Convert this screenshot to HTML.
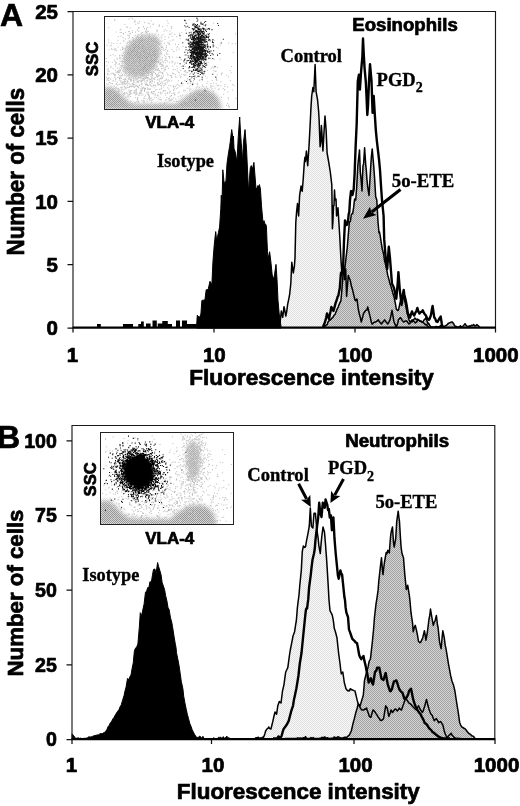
<!DOCTYPE html>
<html lang="en"><head><meta charset="utf-8"><title>Figure</title>
<style>html,body{margin:0;padding:0;background:#fff}body{width:520px;height:806px;overflow:hidden}svg{display:block}text{fill:#000}</style></head>
<body>
<svg width="520" height="806" viewBox="0 0 520 806">
<rect width="520" height="806" fill="#fff"/>
<defs><pattern id="hl" width="2" height="2" patternUnits="userSpaceOnUse"><rect width="2" height="2" fill="#f8f8f8"/><rect width="1" height="1" fill="#e0e0e0"/><rect x="1" y="1" width="1" height="1" fill="#e0e0e0"/></pattern><pattern id="hd" width="2" height="2" patternUnits="userSpaceOnUse"><rect width="2" height="2" fill="#d4d4d4"/><rect width="1" height="1" fill="#a2a2a2"/><rect x="1" y="1" width="1" height="1" fill="#a2a2a2"/></pattern></defs>
<path d="M279.0 328.0 L279.0 327.0 L280.2 321.5 L281.3 311.0 L282.7 317.3 L283.4 311.8 L284.0 306.7 L284.5 308.9 L285.8 316.0 L286.7 311.6 L287.6 304.6 L288.9 298.3 L289.7 294.0 L290.8 283.5 L291.8 262.3 L293.3 273.0 L294.4 266.2 L295.0 258.0 L295.8 222.5 L296.6 211.6 L297.5 203.5 L298.6 216.0 L299.6 195.4 L301.1 185.9 L302.2 191.2 L303.2 179.3 L304.3 162.9 L304.9 157.3 L305.4 161.6 L306.4 151.0 L307.7 165.8 L309.1 144.6 L310.2 123.5 L310.9 108.8 L311.7 96.0 L312.9 87.5 L313.8 91.7 L315.1 64.5 L316.1 91.7 L317.6 100.2 L318.6 111.0 L319.1 119.2 L320.1 146.7 L320.8 142.2 L321.4 125.6 L321.9 132.9 L322.9 151.0 L323.9 134.0 L325.0 116.0 L326.1 129.8 L327.1 153.0 L328.6 161.5 L329.6 167.7 L330.3 172.0 L331.8 184.8 L332.4 228.8 L332.9 222.1 L333.5 205.6 L334.0 205.6 L334.5 190.0 L335.1 200.1 L336.0 199.0 L336.6 216.0 L337.3 214.3 L338.0 207.7 L339.8 237.3 L340.9 258.5 L342.0 275.4 L342.8 269.7 L343.6 264.8 L344.5 279.6 L345.0 276.0 L345.7 269.0 L346.6 296.5 L347.2 289.3 L348.3 275.4 L349.4 278.5 L350.0 279.6 L350.5 281.7 L351.4 286.0 L352.7 290.3 L353.6 294.4 L354.9 299.8 L355.7 300.8 L357.0 299.0 L358.2 308.5 L359.2 313.5 L360.4 317.9 L361.3 322.0 L362.6 317.3 L363.5 313.5 L364.8 311.8 L365.6 310.3 L367.0 310.0 L367.7 307.0 L369.2 313.0 L369.8 315.6 L370.3 317.3 L371.4 322.5 L372.0 324.0 L372.5 324.0 L373.6 322.7 L375.0 322.0 L375.8 321.9 L376.9 321.1 L378.3 319.8 L379.1 321.3 L380.2 322.6 L381.4 324.0 L382.4 322.5 L383.5 321.4 L384.6 319.8 L385.7 321.5 L386.8 322.8 L387.8 324.0 L389.0 321.8 L390.0 319.8 L391.2 314.4 L392.0 310.3 L393.4 318.6 L394.0 322.0 L394.5 322.9 L395.6 325.8 L396.3 327.0 L397.8 323.0 L398.4 319.8 L398.9 319.3 L400.0 318.0 L400.5 317.7 L401.1 318.5 L402.2 320.4 L403.7 322.0 L404.4 321.7 L405.5 321.0 L406.8 321.0 L407.7 322.4 L409.0 324.0 L409.9 323.3 L411.0 321.9 L412.0 319.8 L413.2 320.8 L414.3 321.8 L415.3 323.0 L416.5 322.1 L417.6 320.8 L418.5 319.8 L419.8 321.2 L420.9 321.3 L421.6 322.0 L423.1 322.6 L424.2 323.5 L424.8 324.0 L425.3 324.7 L426.4 324.4 L427.5 326.2 L429.0 327.0 L429.0 328.0 Z" fill="url(#hl)" stroke="none"/>
<path d="M324.0 328.0 L324.0 327.0 L325.1 325.9 L326.2 325.1 L327.3 324.4 L328.0 322.0 L329.5 320.2 L330.6 319.8 L332.0 318.0 L332.8 317.6 L333.9 315.3 L335.0 314.5 L336.0 312.0 L337.2 309.0 L338.3 306.8 L339.4 303.8 L340.9 300.8 L341.6 293.3 L343.0 275.4 L343.8 272.8 L345.0 267.0 L346.0 258.0 L347.2 248.0 L348.2 236.1 L349.3 222.5 L350.4 221.0 L351.4 214.0 L352.6 213.8 L353.6 207.7 L354.6 199.0 L355.7 200.0 L356.7 187.0 L357.8 165.8 L359.5 149.9 L360.3 172.2 L361.0 178.5 L362.0 191.0 L362.5 176.0 L363.0 165.8 L363.6 164.0 L364.6 147.8 L365.8 165.7 L366.3 170.0 L366.9 178.9 L367.7 187.0 L369.0 195.4 L370.5 170.0 L371.3 157.7 L372.2 148.9 L373.7 165.8 L374.6 178.3 L375.1 187.0 L375.7 196.7 L376.8 200.0 L378.0 222.0 L379.0 233.0 L379.5 232.0 L380.1 235.2 L381.4 243.7 L382.3 249.0 L383.6 254.0 L384.5 260.5 L385.7 264.8 L386.7 269.6 L387.8 275.4 L388.9 279.2 L390.0 283.8 L391.1 286.7 L392.0 290.0 L393.3 294.9 L394.0 296.5 L395.5 304.2 L396.3 309.0 L397.7 310.5 L398.4 310.3 L399.9 303.5 L400.5 300.8 L401.0 298.9 L402.1 296.2 L402.6 294.4 L403.2 296.4 L404.7 300.8 L405.4 303.7 L406.8 311.4 L407.6 314.8 L409.0 319.8 L409.8 321.6 L410.9 321.1 L412.0 322.0 L413.1 320.2 L414.2 319.0 L415.0 318.0 L416.4 319.8 L417.5 319.0 L418.5 319.8 L419.7 320.7 L420.8 320.9 L422.0 322.0 L423.0 321.7 L424.1 319.9 L425.2 318.9 L425.9 317.7 L427.4 322.0 L428.0 324.0 L428.5 323.1 L429.6 325.2 L431.0 327.0 L431.8 327.0 L432.9 327.0 L434.0 327.0 L435.1 326.9 L436.0 326.5 L437.3 326.7 L438.4 326.7 L439.5 326.6 L440.6 325.6 L441.7 326.5 L442.8 326.4 L443.9 326.4 L445.0 326.0 L446.1 325.5 L447.2 324.7 L448.3 323.2 L449.0 323.0 L450.5 322.5 L451.6 321.9 L452.3 322.0 L453.8 324.0 L455.0 326.5 L456.0 326.3 L457.1 327.0 L458.2 327.0 L459.3 327.0 L460.4 325.8 L461.5 327.0 L462.0 327.0 L462.6 326.6 L463.7 325.4 L465.0 323.7 L465.9 325.0 L467.0 326.2 L468.0 327.0 L469.2 325.8 L470.3 326.5 L471.4 325.3 L472.5 325.5 L473.6 324.5 L474.7 325.8 L475.8 325.8 L476.9 324.6 L478.0 325.5 L479.1 326.6 L480.0 327.0 L480.0 328.0 Z" fill="url(#hd)" stroke="none"/>
<path d="M196.6 328.0 L196.6 326.0 L197.3 315.2 L198.8 316.8 L199.9 317.1 L200.9 314.0 L201.9 300.4 L203.2 300.2 L204.3 300.1 L205.0 299.3 L206.2 289.8 L207.6 289.5 L208.3 288.8 L210.0 281.3 L210.9 283.8 L211.4 285.6 L212.0 281.7 L212.9 262.3 L214.2 245.4 L215.7 231.6 L216.7 241.0 L217.5 236.7 L218.4 232.7 L219.6 227.0 L220.8 208.4 L221.3 195.2 L221.9 208.3 L222.8 169.8 L224.3 184.6 L225.2 181.8 L226.0 180.4 L227.0 163.5 L228.5 152.9 L229.6 146.5 L230.2 142.3 L230.7 137.9 L231.7 129.6 L232.9 137.9 L233.4 136.0 L234.0 148.3 L235.5 152.9 L236.2 157.6 L237.0 161.3 L238.2 138.0 L239.7 117.0 L240.6 134.1 L241.2 142.3 L241.7 149.0 L242.5 161.3 L243.5 142.3 L245.0 129.6 L246.5 148.7 L247.5 169.8 L248.3 186.7 L248.8 188.8 L249.4 179.6 L250.3 167.7 L251.3 165.6 L252.5 169.0 L253.9 162.4 L255.0 176.0 L256.0 188.8 L257.1 188.1 L257.7 185.7 L258.2 187.3 L259.4 184.6 L260.4 188.8 L261.5 205.8 L263.0 222.7 L264.0 220.6 L264.8 223.7 L265.9 224.4 L266.4 226.3 L267.0 241.3 L267.5 251.7 L268.1 258.8 L269.6 251.7 L270.7 260.2 L271.4 267.0 L272.2 275.0 L273.9 279.2 L274.7 273.4 L276.0 264.4 L277.0 279.2 L278.0 300.4 L279.1 313.0 L280.2 321.5 L281.0 326.0 L281.0 328.0 Z" fill="#000" stroke="#000" stroke-width="1"/>
<path d="M279.0 327.0 L280.2 321.5 L281.3 311.0 L282.7 317.3 L283.4 311.8 L284.0 306.7 L284.5 308.9 L285.8 316.0 L286.7 311.6 L287.6 304.6 L288.9 298.3 L289.7 294.0 L290.8 283.5 L291.8 262.3 L293.3 273.0 L294.4 266.2 L295.0 258.0 L295.8 222.5 L296.6 211.6 L297.5 203.5 L298.6 216.0 L299.6 195.4 L301.1 185.9 L302.2 191.2 L303.2 179.3 L304.3 162.9 L304.9 157.3 L305.4 161.6 L306.4 151.0 L307.7 165.8 L309.1 144.6 L310.2 123.5 L310.9 108.8 L311.7 96.0 L312.9 87.5 L313.8 91.7 L315.1 64.5 L316.1 91.7 L317.6 100.2 L318.6 111.0 L319.1 119.2 L320.1 146.7 L320.8 142.2 L321.4 125.6 L321.9 132.9 L322.9 151.0 L323.9 134.0 L325.0 116.0 L326.1 129.8 L327.1 153.0 L328.6 161.5 L329.6 167.7 L330.3 172.0 L331.8 184.8 L332.4 228.8 L332.9 222.1 L333.5 205.6 L334.0 205.6 L334.5 190.0 L335.1 200.1 L336.0 199.0 L336.6 216.0 L337.3 214.3 L338.0 207.7 L339.8 237.3 L340.9 258.5 L342.0 275.4 L342.8 269.7 L343.6 264.8 L344.5 279.6 L345.0 276.0 L345.7 269.0 L346.6 296.5 L347.2 289.3 L348.3 275.4 L349.4 278.5 L350.0 279.6 L350.5 281.7 L351.4 286.0 L352.7 290.3 L353.6 294.4 L354.9 299.8 L355.7 300.8 L357.0 299.0 L358.2 308.5 L359.2 313.5 L360.4 317.9 L361.3 322.0 L362.6 317.3 L363.5 313.5 L364.8 311.8 L365.6 310.3 L367.0 310.0 L367.7 307.0 L369.2 313.0 L369.8 315.6 L370.3 317.3 L371.4 322.5 L372.0 324.0 L372.5 324.0 L373.6 322.7 L375.0 322.0 L375.8 321.9 L376.9 321.1 L378.3 319.8 L379.1 321.3 L380.2 322.6 L381.4 324.0 L382.4 322.5 L383.5 321.4 L384.6 319.8 L385.7 321.5 L386.8 322.8 L387.8 324.0 L389.0 321.8 L390.0 319.8 L391.2 314.4 L392.0 310.3 L393.4 318.6 L394.0 322.0 L394.5 322.9 L395.6 325.8 L396.3 327.0 L397.8 323.0 L398.4 319.8 L398.9 319.3 L400.0 318.0 L400.5 317.7 L401.1 318.5 L402.2 320.4 L403.7 322.0 L404.4 321.7 L405.5 321.0 L406.8 321.0 L407.7 322.4 L409.0 324.0 L409.9 323.3 L411.0 321.9 L412.0 319.8 L413.2 320.8 L414.3 321.8 L415.3 323.0 L416.5 322.1 L417.6 320.8 L418.5 319.8 L419.8 321.2 L420.9 321.3 L421.6 322.0 L423.1 322.6 L424.2 323.5 L424.8 324.0 L425.3 324.7 L426.4 324.4 L427.5 326.2 L429.0 327.0" fill="none" stroke="#000" stroke-width="1.5" stroke-linejoin="round"/>
<path d="M324.0 327.0 L325.1 325.9 L326.2 325.1 L327.3 324.4 L328.0 322.0 L329.5 320.2 L330.6 319.8 L332.0 318.0 L332.8 317.6 L333.9 315.3 L335.0 314.5 L336.0 312.0 L337.2 309.0 L338.3 306.8 L339.4 303.8 L340.9 300.8 L341.6 293.3 L343.0 275.4 L343.8 272.8 L345.0 267.0 L346.0 258.0 L347.2 248.0 L348.2 236.1 L349.3 222.5 L350.4 221.0 L351.4 214.0 L352.6 213.8 L353.6 207.7 L354.6 199.0 L355.7 200.0 L356.7 187.0 L357.8 165.8 L359.5 149.9 L360.3 172.2 L361.0 178.5 L362.0 191.0 L362.5 176.0 L363.0 165.8 L363.6 164.0 L364.6 147.8 L365.8 165.7 L366.3 170.0 L366.9 178.9 L367.7 187.0 L369.0 195.4 L370.5 170.0 L371.3 157.7 L372.2 148.9 L373.7 165.8 L374.6 178.3 L375.1 187.0 L375.7 196.7 L376.8 200.0 L378.0 222.0 L379.0 233.0 L379.5 232.0 L380.1 235.2 L381.4 243.7 L382.3 249.0 L383.6 254.0 L384.5 260.5 L385.7 264.8 L386.7 269.6 L387.8 275.4 L388.9 279.2 L390.0 283.8 L391.1 286.7 L392.0 290.0 L393.3 294.9 L394.0 296.5 L395.5 304.2 L396.3 309.0 L397.7 310.5 L398.4 310.3 L399.9 303.5 L400.5 300.8 L401.0 298.9 L402.1 296.2 L402.6 294.4 L403.2 296.4 L404.7 300.8 L405.4 303.7 L406.8 311.4 L407.6 314.8 L409.0 319.8 L409.8 321.6 L410.9 321.1 L412.0 322.0 L413.1 320.2 L414.2 319.0 L415.0 318.0 L416.4 319.8 L417.5 319.0 L418.5 319.8 L419.7 320.7 L420.8 320.9 L422.0 322.0 L423.0 321.7 L424.1 319.9 L425.2 318.9 L425.9 317.7 L427.4 322.0 L428.0 324.0 L428.5 323.1 L429.6 325.2 L431.0 327.0 L431.8 327.0 L432.9 327.0 L434.0 327.0 L435.1 326.9 L436.0 326.5 L437.3 326.7 L438.4 326.7 L439.5 326.6 L440.6 325.6 L441.7 326.5 L442.8 326.4 L443.9 326.4 L445.0 326.0 L446.1 325.5 L447.2 324.7 L448.3 323.2 L449.0 323.0 L450.5 322.5 L451.6 321.9 L452.3 322.0 L453.8 324.0 L455.0 326.5 L456.0 326.3 L457.1 327.0 L458.2 327.0 L459.3 327.0 L460.4 325.8 L461.5 327.0 L462.0 327.0 L462.6 326.6 L463.7 325.4 L465.0 323.7 L465.9 325.0 L467.0 326.2 L468.0 327.0 L469.2 325.8 L470.3 326.5 L471.4 325.3 L472.5 325.5 L473.6 324.5 L474.7 325.8 L475.8 325.8 L476.9 324.6 L478.0 325.5 L479.1 326.6 L480.0 327.0" fill="none" stroke="#000" stroke-width="1.5" stroke-linejoin="round"/>
<path d="M322.9 327.0 L324.0 324.6 L325.0 322.0 L326.2 317.6 L327.0 313.5 L328.4 317.1 L329.0 319.0 L329.5 316.3 L330.6 311.3 L331.3 307.0 L332.8 309.3 L333.5 311.0 L335.0 305.4 L335.6 303.0 L336.1 301.8 L337.2 298.4 L337.7 296.5 L338.3 295.9 L339.8 288.0 L340.9 273.3 L341.6 272.0 L343.0 271.0 L344.0 241.5 L345.0 220.4 L346.0 225.1 L347.2 224.6 L348.2 219.3 L348.7 214.0 L349.3 212.1 L350.0 200.0 L351.0 191.2 L351.5 191.1 L352.5 195.0 L353.7 189.2 L354.6 174.2 L355.7 144.6 L356.7 123.5 L357.8 81.2 L358.9 74.8 L359.9 89.6 L361.0 72.7 L362.4 56.0 L363.0 38.5 L363.8 55.0 L364.6 68.5 L365.8 81.6 L366.3 91.7 L367.3 115.0 L368.0 106.0 L369.0 81.2 L370.0 64.2 L371.5 81.2 L372.6 112.9 L373.7 96.0 L374.7 112.9 L375.8 129.8 L376.8 140.5 L377.3 144.6 L377.9 149.8 L379.0 159.4 L380.0 170.0 L381.0 186.0 L382.0 200.0 L383.6 216.0 L384.2 239.4 L385.7 258.5 L386.7 266.0 L387.2 269.0 L387.8 260.8 L388.8 246.8 L390.0 258.4 L390.5 264.8 L391.1 272.6 L392.0 283.8 L393.3 286.4 L394.0 288.0 L395.5 295.5 L396.3 298.7 L397.7 283.3 L398.4 272.2 L399.8 290.0 L401.0 300.2 L401.5 305.0 L402.1 301.6 L403.2 292.9 L403.7 290.0 L404.3 294.4 L405.8 300.8 L406.5 304.4 L407.9 313.5 L408.7 314.7 L410.0 317.7 L410.9 314.7 L412.0 311.4 L413.1 314.1 L414.2 315.6 L415.3 312.9 L416.4 311.0 L417.4 308.0 L418.6 312.1 L419.5 313.5 L420.8 311.9 L421.9 311.8 L422.7 310.3 L424.1 313.3 L425.2 314.7 L425.9 315.6 L427.4 319.0 L428.5 318.9 L429.0 319.8 L429.6 318.9 L431.0 315.0 L431.8 310.0 L432.6 306.0 L434.3 317.7 L435.1 318.4 L436.2 321.4 L437.5 322.0 L438.4 320.3 L439.5 318.4 L440.7 316.6 L441.7 323.2 L442.2 326.0 L442.8 326.7 L443.9 327.0" fill="none" stroke="#000" stroke-width="2.4" stroke-linejoin="round"/>
<path d="M97 328V324H100.8V328ZM123 328V324H133V328ZM138.3 328V324H141V328ZM141 328V321.5H143.8V328ZM146 328V323.5H150.6V328ZM152.5 328V320.5H156.8V328ZM157.7 328V323.5H162.3V328ZM162.3 328V321H167.8V328ZM167.8 328V324H172V328ZM176 328V320.5H180V328ZM182 328V320.5H187V328ZM187 328V324H196.5V328Z" fill="#000"/>
<path d="M73.0 328 V11.5 H495.5 V328" fill="none" stroke="#1a1a1a" stroke-width="1.15"/>
<path d="M72.5 327.7 H496.0" fill="none" stroke="#000" stroke-width="2.2"/>
<path d="M67.5 328.0 H73.0 M67.5 264.7 H73.0 M67.5 201.4 H73.0 M67.5 138.1 H73.0 M67.5 74.8 H73.0 M67.5 11.5 H73.0 M73.0 328 V332.5 M214.0 328 V332.5 M355.0 328 V332.5 M495.5 328 V332.5 " fill="none" stroke="#111" stroke-width="1.25"/>
<path d="M255.0 739.5 L255.0 738.5 L256.1 737.7 L257.2 737.8 L258.3 737.2 L259.4 738.4 L260.5 737.9 L261.6 738.1 L262.7 737.2 L263.5 737.5 L264.9 733.8 L265.6 731.0 L267.1 728.9 L268.2 728.0 L268.8 727.0 L269.3 728.2 L270.4 728.7 L270.9 729.0 L271.5 726.8 L273.0 720.6 L273.7 717.3 L275.0 712.0 L275.9 713.3 L276.6 714.2 L277.8 705.8 L279.3 701.5 L280.3 702.5 L281.0 703.0 L282.5 691.0 L284.0 684.6 L284.7 679.2 L285.7 672.0 L286.9 669.5 L287.8 667.7 L289.5 655.0 L290.2 650.5 L291.4 644.4 L292.4 639.3 L293.0 636.0 L293.5 634.8 L294.6 631.7 L295.7 624.4 L296.3 621.0 L296.8 615.2 L297.3 608.5 L297.9 603.4 L299.0 595.0 L299.8 585.2 L301.3 570.4 L302.3 551.3 L303.4 546.0 L304.5 547.4 L305.5 547.0 L306.5 540.8 L308.2 532.3 L309.3 526.0 L310.3 508.0 L311.4 526.0 L312.2 527.4 L312.9 528.0 L314.0 513.3 L315.4 513.3 L316.7 528.0 L317.7 535.3 L318.2 538.7 L318.8 545.3 L320.3 553.5 L321.0 544.6 L321.8 536.5 L323.0 527.0 L324.5 532.3 L325.4 543.0 L326.0 551.3 L326.5 557.9 L327.3 570.4 L328.3 587.3 L329.0 600.0 L330.0 610.6 L330.9 612.4 L332.2 614.8 L333.1 619.2 L333.7 623.3 L334.2 628.1 L335.4 631.7 L336.4 635.5 L337.0 638.0 L337.5 642.8 L338.6 653.0 L340.0 663.5 L340.8 670.5 L341.3 674.0 L341.9 672.8 L342.8 672.0 L344.3 682.5 L345.2 685.9 L346.0 688.8 L347.4 690.5 L348.0 691.0 L348.5 690.4 L349.6 690.8 L350.2 688.8 L350.7 688.9 L351.8 689.8 L352.3 690.0 L352.9 690.1 L354.0 690.6 L355.0 691.0 L356.5 697.3 L357.3 700.7 L358.2 703.7 L359.5 706.4 L360.3 708.0 L361.7 709.9 L362.4 710.0 L363.9 710.1 L364.5 709.0 L365.0 709.2 L366.1 708.7 L366.6 708.0 L367.2 710.2 L368.7 714.2 L369.4 716.4 L370.9 717.4 L371.6 714.7 L373.0 710.0 L373.8 710.4 L375.0 712.0 L376.0 713.6 L377.2 715.3 L378.2 717.1 L379.3 718.5 L380.4 720.3 L381.4 720.6 L382.6 719.7 L383.6 718.5 L384.8 711.2 L385.7 705.8 L387.2 708.0 L388.1 712.7 L388.8 716.4 L390.3 712.8 L391.0 710.0 L392.5 712.5 L393.0 712.0 L393.6 711.0 L394.7 709.4 L395.2 709.0 L395.8 709.2 L397.3 711.0 L398.0 710.1 L399.4 708.0 L400.2 709.3 L401.5 710.0 L402.4 707.2 L403.7 703.7 L404.6 701.1 L405.8 697.3 L406.8 699.8 L407.9 701.5 L409.0 703.2 L410.0 703.7 L411.2 704.7 L412.0 705.8 L413.4 707.3 L414.2 708.0 L415.6 709.5 L416.3 710.0 L417.8 707.2 L418.5 705.8 L420.0 709.0 L420.6 710.0 L421.1 710.7 L422.2 712.4 L422.7 712.0 L423.3 710.4 L424.8 705.8 L425.5 703.1 L426.5 699.4 L428.0 705.8 L428.8 708.4 L430.0 712.0 L431.0 714.2 L432.2 715.3 L433.2 718.3 L434.3 720.6 L435.4 719.5 L436.4 718.5 L437.6 720.6 L438.6 722.7 L439.8 721.9 L440.7 721.6 L442.0 723.7 L442.8 724.8 L444.2 730.7 L445.0 733.3 L446.4 736.5 L447.0 737.5 L447.5 737.3 L449.0 735.4 L449.7 734.9 L450.8 733.7 L451.3 733.3 L451.9 735.0 L453.4 736.5 L454.1 737.3 L455.2 738.0 L456.5 738.5 L457.4 738.3 L458.5 738.5 L459.6 738.5 L460.8 738.5 L460.8 739.5 Z" fill="url(#hl)" stroke="none"/>
<path d="M284.6 739.5 L284.6 738.5 L285.7 738.5 L286.8 738.5 L287.9 738.5 L289.0 738.5 L290.1 738.5 L291.2 738.5 L292.3 738.5 L293.4 738.5 L294.5 738.5 L295.6 738.5 L296.7 738.5 L297.8 737.8 L298.9 738.4 L300.0 738.0 L301.1 738.3 L302.2 738.3 L303.3 737.7 L304.4 738.4 L305.5 736.6 L306.6 738.4 L307.7 738.4 L308.8 738.4 L309.9 738.4 L311.0 737.6 L312.1 738.5 L313.2 737.6 L314.3 738.5 L315.4 738.5 L316.5 738.5 L317.6 738.5 L318.7 738.5 L320.0 738.3 L320.9 738.3 L322.0 737.2 L323.1 738.5 L324.2 737.0 L325.3 737.2 L326.4 738.4 L327.5 737.7 L328.6 738.4 L329.7 738.4 L330.8 738.3 L331.9 738.3 L333.0 738.3 L334.1 737.0 L335.2 737.4 L336.3 738.2 L337.4 736.9 L338.5 736.8 L340.0 737.8 L340.7 738.1 L341.8 738.0 L342.9 738.0 L344.0 737.5 L345.1 737.1 L346.0 737.5 L347.3 736.9 L348.4 735.8 L349.0 735.4 L349.5 734.8 L350.6 732.3 L351.3 731.0 L352.7 724.8 L353.9 720.1 L354.4 718.5 L355.0 715.9 L356.0 712.0 L357.2 708.1 L358.2 703.7 L359.4 705.0 L360.0 706.0 L360.5 704.6 L361.8 700.0 L362.7 697.3 L363.3 695.0 L363.8 689.2 L364.5 680.4 L366.0 674.5 L366.6 672.0 L367.1 670.8 L368.2 666.4 L368.7 663.5 L369.3 661.0 L370.4 659.0 L370.9 655.0 L371.5 649.3 L372.3 642.3 L373.5 630.0 L374.5 617.0 L376.0 604.2 L377.3 595.8 L378.1 589.9 L378.8 581.0 L380.2 568.3 L381.5 557.7 L382.5 571.0 L383.0 574.6 L383.6 569.0 L384.5 562.0 L386.2 552.4 L386.9 553.8 L387.8 550.3 L389.3 553.0 L390.2 540.7 L390.8 534.4 L391.3 531.4 L392.5 527.0 L393.5 542.5 L394.2 547.0 L395.7 538.7 L396.7 521.7 L398.2 511.2 L399.0 518.0 L399.5 521.7 L400.5 538.7 L401.2 548.0 L402.0 553.5 L403.5 557.7 L404.8 574.6 L405.6 582.5 L406.3 589.4 L407.7 585.2 L408.9 592.7 L409.4 595.8 L410.0 601.2 L411.0 612.7 L412.6 623.3 L413.2 631.7 L414.4 627.3 L415.3 625.4 L416.8 631.7 L417.7 636.3 L418.5 641.3 L419.9 642.7 L420.6 642.3 L422.1 639.2 L422.7 638.0 L423.2 635.6 L424.4 630.7 L425.4 636.5 L425.9 640.2 L426.5 637.0 L427.4 632.0 L429.0 619.0 L429.8 615.3 L430.5 609.0 L431.8 617.0 L433.3 625.4 L434.2 622.4 L435.0 621.0 L436.4 615.5 L437.5 625.0 L438.1 627.5 L438.6 632.6 L439.6 642.3 L441.1 648.7 L441.9 639.8 L442.8 630.7 L444.3 638.0 L445.2 645.2 L446.0 648.7 L447.7 659.2 L448.5 664.1 L449.6 669.8 L450.7 675.9 L451.3 678.3 L451.8 680.4 L452.9 683.5 L453.4 684.6 L454.0 687.2 L454.9 691.0 L456.5 701.5 L457.3 706.6 L458.2 712.0 L459.7 722.7 L460.6 724.8 L461.8 727.0 L462.8 727.4 L463.9 728.3 L465.0 728.7 L466.1 730.0 L467.2 731.5 L468.3 732.9 L469.0 733.5 L470.5 734.3 L471.6 735.8 L472.7 735.9 L473.9 736.8 L474.9 738.4 L475.5 738.5 L475.5 739.5 Z" fill="url(#hd)" stroke="none"/>
<path d="M72.1 739.5 L72.1 733.8 L73.3 735.2 L74.5 737.0 L75.6 738.0 L76.9 738.3 L78.1 737.8 L79.3 738.4 L80.5 738.1 L81.7 738.5 L82.9 738.5 L84.2 738.3 L85.3 738.3 L86.5 738.0 L87.7 737.7 L88.9 736.7 L90.1 737.1 L91.3 736.8 L92.5 736.4 L93.7 735.8 L94.6 735.6 L96.1 735.3 L97.3 734.9 L98.5 734.8 L99.7 733.9 L100.9 733.6 L102.1 733.8 L103.3 732.9 L104.5 732.3 L105.0 732.0 L105.7 731.3 L106.9 729.5 L108.1 726.6 L109.3 725.2 L110.0 723.5 L110.5 722.7 L111.7 721.2 L112.9 718.9 L114.1 717.3 L115.4 714.8 L116.5 713.0 L117.7 711.2 L118.9 709.8 L120.1 706.8 L120.6 706.0 L121.3 704.7 L122.5 700.4 L124.0 695.8 L124.9 691.3 L126.1 687.0 L127.5 678.5 L128.5 679.7 L129.7 677.2 L131.0 675.0 L132.1 668.6 L133.3 662.6 L134.4 650.8 L135.7 647.8 L136.9 646.7 L137.9 643.8 L139.3 627.5 L140.3 612.7 L141.7 615.5 L143.0 609.0 L144.1 604.0 L145.5 592.0 L146.5 591.5 L147.7 587.6 L148.9 587.5 L150.0 581.5 L151.3 582.6 L152.5 574.8 L153.5 569.4 L154.9 569.0 L156.1 573.4 L157.6 562.5 L158.5 566.2 L159.7 570.0 L161.0 574.6 L162.1 582.3 L163.3 585.9 L164.5 589.3 L165.6 595.4 L166.9 601.0 L168.1 608.1 L169.0 609.0 L170.5 617.9 L171.7 622.0 L172.5 626.5 L174.1 636.8 L175.3 644.0 L176.0 647.3 L176.5 652.8 L177.7 658.6 L178.9 664.8 L179.4 668.0 L180.1 673.0 L181.3 681.4 L182.9 688.8 L183.7 696.2 L184.9 702.9 L186.3 709.6 L187.3 714.2 L188.5 718.5 L189.8 723.5 L190.9 726.1 L192.1 729.5 L193.3 732.0 L194.5 734.3 L195.7 736.1 L196.7 737.3 L198.1 737.8 L199.3 736.2 L200.5 736.6 L201.7 738.3 L202.9 736.3 L204.1 738.5 L205.4 738.5 L206.5 738.5 L207.7 738.5 L208.9 738.5 L210.1 738.5 L211.3 738.5 L212.5 738.5 L213.7 737.8 L214.9 738.5 L216.1 738.5 L217.3 738.5 L218.5 737.3 L219.7 737.4 L220.9 737.2 L222.1 738.5 L223.3 736.6 L224.5 738.5 L225.7 737.2 L226.9 736.2 L228.1 737.9 L229.3 737.8 L230.0 738.5 L230.0 739.5 Z" fill="#000" stroke="#000" stroke-width="1"/>
<path d="M255.0 738.5 L256.1 737.7 L257.2 737.8 L258.3 737.2 L259.4 738.4 L260.5 737.9 L261.6 738.1 L262.7 737.2 L263.5 737.5 L264.9 733.8 L265.6 731.0 L267.1 728.9 L268.2 728.0 L268.8 727.0 L269.3 728.2 L270.4 728.7 L270.9 729.0 L271.5 726.8 L273.0 720.6 L273.7 717.3 L275.0 712.0 L275.9 713.3 L276.6 714.2 L277.8 705.8 L279.3 701.5 L280.3 702.5 L281.0 703.0 L282.5 691.0 L284.0 684.6 L284.7 679.2 L285.7 672.0 L286.9 669.5 L287.8 667.7 L289.5 655.0 L290.2 650.5 L291.4 644.4 L292.4 639.3 L293.0 636.0 L293.5 634.8 L294.6 631.7 L295.7 624.4 L296.3 621.0 L296.8 615.2 L297.3 608.5 L297.9 603.4 L299.0 595.0 L299.8 585.2 L301.3 570.4 L302.3 551.3 L303.4 546.0 L304.5 547.4 L305.5 547.0 L306.5 540.8 L308.2 532.3 L309.3 526.0 L310.3 508.0 L311.4 526.0 L312.2 527.4 L312.9 528.0 L314.0 513.3 L315.4 513.3 L316.7 528.0 L317.7 535.3 L318.2 538.7 L318.8 545.3 L320.3 553.5 L321.0 544.6 L321.8 536.5 L323.0 527.0 L324.5 532.3 L325.4 543.0 L326.0 551.3 L326.5 557.9 L327.3 570.4 L328.3 587.3 L329.0 600.0 L330.0 610.6 L330.9 612.4 L332.2 614.8 L333.1 619.2 L333.7 623.3 L334.2 628.1 L335.4 631.7 L336.4 635.5 L337.0 638.0 L337.5 642.8 L338.6 653.0 L340.0 663.5 L340.8 670.5 L341.3 674.0 L341.9 672.8 L342.8 672.0 L344.3 682.5 L345.2 685.9 L346.0 688.8 L347.4 690.5 L348.0 691.0 L348.5 690.4 L349.6 690.8 L350.2 688.8 L350.7 688.9 L351.8 689.8 L352.3 690.0 L352.9 690.1 L354.0 690.6 L355.0 691.0 L356.5 697.3 L357.3 700.7 L358.2 703.7 L359.5 706.4 L360.3 708.0 L361.7 709.9 L362.4 710.0 L363.9 710.1 L364.5 709.0 L365.0 709.2 L366.1 708.7 L366.6 708.0 L367.2 710.2 L368.7 714.2 L369.4 716.4 L370.9 717.4 L371.6 714.7 L373.0 710.0 L373.8 710.4 L375.0 712.0 L376.0 713.6 L377.2 715.3 L378.2 717.1 L379.3 718.5 L380.4 720.3 L381.4 720.6 L382.6 719.7 L383.6 718.5 L384.8 711.2 L385.7 705.8 L387.2 708.0 L388.1 712.7 L388.8 716.4 L390.3 712.8 L391.0 710.0 L392.5 712.5 L393.0 712.0 L393.6 711.0 L394.7 709.4 L395.2 709.0 L395.8 709.2 L397.3 711.0 L398.0 710.1 L399.4 708.0 L400.2 709.3 L401.5 710.0 L402.4 707.2 L403.7 703.7 L404.6 701.1 L405.8 697.3 L406.8 699.8 L407.9 701.5 L409.0 703.2 L410.0 703.7 L411.2 704.7 L412.0 705.8 L413.4 707.3 L414.2 708.0 L415.6 709.5 L416.3 710.0 L417.8 707.2 L418.5 705.8 L420.0 709.0 L420.6 710.0 L421.1 710.7 L422.2 712.4 L422.7 712.0 L423.3 710.4 L424.8 705.8 L425.5 703.1 L426.5 699.4 L428.0 705.8 L428.8 708.4 L430.0 712.0 L431.0 714.2 L432.2 715.3 L433.2 718.3 L434.3 720.6 L435.4 719.5 L436.4 718.5 L437.6 720.6 L438.6 722.7 L439.8 721.9 L440.7 721.6 L442.0 723.7 L442.8 724.8 L444.2 730.7 L445.0 733.3 L446.4 736.5 L447.0 737.5 L447.5 737.3 L449.0 735.4 L449.7 734.9 L450.8 733.7 L451.3 733.3 L451.9 735.0 L453.4 736.5 L454.1 737.3 L455.2 738.0 L456.5 738.5 L457.4 738.3 L458.5 738.5 L459.6 738.5 L460.8 738.5" fill="none" stroke="#000" stroke-width="1.5" stroke-linejoin="round"/>
<path d="M284.6 738.5 L285.7 738.5 L286.8 738.5 L287.9 738.5 L289.0 738.5 L290.1 738.5 L291.2 738.5 L292.3 738.5 L293.4 738.5 L294.5 738.5 L295.6 738.5 L296.7 738.5 L297.8 737.8 L298.9 738.4 L300.0 738.0 L301.1 738.3 L302.2 738.3 L303.3 737.7 L304.4 738.4 L305.5 736.6 L306.6 738.4 L307.7 738.4 L308.8 738.4 L309.9 738.4 L311.0 737.6 L312.1 738.5 L313.2 737.6 L314.3 738.5 L315.4 738.5 L316.5 738.5 L317.6 738.5 L318.7 738.5 L320.0 738.3 L320.9 738.3 L322.0 737.2 L323.1 738.5 L324.2 737.0 L325.3 737.2 L326.4 738.4 L327.5 737.7 L328.6 738.4 L329.7 738.4 L330.8 738.3 L331.9 738.3 L333.0 738.3 L334.1 737.0 L335.2 737.4 L336.3 738.2 L337.4 736.9 L338.5 736.8 L340.0 737.8 L340.7 738.1 L341.8 738.0 L342.9 738.0 L344.0 737.5 L345.1 737.1 L346.0 737.5 L347.3 736.9 L348.4 735.8 L349.0 735.4 L349.5 734.8 L350.6 732.3 L351.3 731.0 L352.7 724.8 L353.9 720.1 L354.4 718.5 L355.0 715.9 L356.0 712.0 L357.2 708.1 L358.2 703.7 L359.4 705.0 L360.0 706.0 L360.5 704.6 L361.8 700.0 L362.7 697.3 L363.3 695.0 L363.8 689.2 L364.5 680.4 L366.0 674.5 L366.6 672.0 L367.1 670.8 L368.2 666.4 L368.7 663.5 L369.3 661.0 L370.4 659.0 L370.9 655.0 L371.5 649.3 L372.3 642.3 L373.5 630.0 L374.5 617.0 L376.0 604.2 L377.3 595.8 L378.1 589.9 L378.8 581.0 L380.2 568.3 L381.5 557.7 L382.5 571.0 L383.0 574.6 L383.6 569.0 L384.5 562.0 L386.2 552.4 L386.9 553.8 L387.8 550.3 L389.3 553.0 L390.2 540.7 L390.8 534.4 L391.3 531.4 L392.5 527.0 L393.5 542.5 L394.2 547.0 L395.7 538.7 L396.7 521.7 L398.2 511.2 L399.0 518.0 L399.5 521.7 L400.5 538.7 L401.2 548.0 L402.0 553.5 L403.5 557.7 L404.8 574.6 L405.6 582.5 L406.3 589.4 L407.7 585.2 L408.9 592.7 L409.4 595.8 L410.0 601.2 L411.0 612.7 L412.6 623.3 L413.2 631.7 L414.4 627.3 L415.3 625.4 L416.8 631.7 L417.7 636.3 L418.5 641.3 L419.9 642.7 L420.6 642.3 L422.1 639.2 L422.7 638.0 L423.2 635.6 L424.4 630.7 L425.4 636.5 L425.9 640.2 L426.5 637.0 L427.4 632.0 L429.0 619.0 L429.8 615.3 L430.5 609.0 L431.8 617.0 L433.3 625.4 L434.2 622.4 L435.0 621.0 L436.4 615.5 L437.5 625.0 L438.1 627.5 L438.6 632.6 L439.6 642.3 L441.1 648.7 L441.9 639.8 L442.8 630.7 L444.3 638.0 L445.2 645.2 L446.0 648.7 L447.7 659.2 L448.5 664.1 L449.6 669.8 L450.7 675.9 L451.3 678.3 L451.8 680.4 L452.9 683.5 L453.4 684.6 L454.0 687.2 L454.9 691.0 L456.5 701.5 L457.3 706.6 L458.2 712.0 L459.7 722.7 L460.6 724.8 L461.8 727.0 L462.8 727.4 L463.9 728.3 L465.0 728.7 L466.1 730.0 L467.2 731.5 L468.3 732.9 L469.0 733.5 L470.5 734.3 L471.6 735.8 L472.7 735.9 L473.9 736.8 L474.9 738.4 L475.5 738.5" fill="none" stroke="#000" stroke-width="1.5" stroke-linejoin="round"/>
<path d="M273.0 738.5 L274.1 738.5 L275.2 738.5 L276.0 738.5 L277.4 738.4 L278.5 736.4 L279.6 737.5 L280.7 737.1 L281.4 736.5 L282.9 731.2 L283.6 729.0 L285.1 727.0 L286.2 725.5 L286.7 724.8 L287.3 723.6 L288.8 720.6 L289.5 717.8 L291.0 712.0 L291.7 709.6 L293.0 705.8 L294.0 699.4 L295.0 695.0 L296.3 688.8 L297.2 683.5 L298.4 676.0 L299.8 663.5 L300.5 659.2 L301.5 653.0 L303.0 638.0 L303.8 629.8 L304.7 621.0 L305.8 610.6 L306.3 608.5 L307.1 608.5 L307.6 604.2 L308.2 599.9 L309.1 587.3 L310.8 574.6 L311.5 567.8 L312.5 559.8 L314.0 553.5 L314.8 548.5 L315.4 540.8 L315.9 536.2 L317.1 526.0 L318.2 517.5 L319.2 502.7 L320.3 513.3 L321.5 517.0 L322.8 502.7 L324.0 506.0 L324.7 507.8 L325.6 499.5 L327.3 504.8 L328.0 510.1 L328.8 509.0 L329.8 517.5 L330.9 515.4 L331.9 530.2 L332.4 525.4 L333.4 517.5 L334.5 538.7 L335.7 553.5 L337.2 568.3 L337.9 575.5 L338.7 578.8 L340.4 570.4 L341.2 573.5 L342.1 574.6 L343.6 589.4 L344.5 597.8 L345.0 600.0 L345.6 607.4 L346.4 612.7 L348.0 617.0 L349.0 629.6 L350.0 632.1 L351.3 636.0 L352.2 638.6 L353.4 640.0 L354.4 640.7 L355.5 642.3 L357.0 643.0 L357.7 646.6 L359.2 655.0 L359.9 656.8 L361.3 659.2 L362.1 657.8 L363.5 656.0 L364.3 660.4 L365.6 665.6 L366.5 670.5 L367.3 674.0 L368.7 682.5 L369.8 680.1 L370.9 678.3 L372.0 682.4 L373.0 684.6 L374.2 677.2 L375.0 672.0 L376.4 670.4 L377.2 667.7 L378.6 667.7 L379.3 667.7 L380.8 675.5 L381.4 678.3 L381.9 679.0 L383.0 679.3 L383.5 680.0 L384.1 678.0 L385.2 674.3 L385.7 673.0 L386.3 676.5 L387.8 684.6 L388.5 686.7 L390.0 691.0 L390.7 691.2 L392.0 689.0 L392.9 685.1 L394.0 681.4 L395.1 681.1 L396.3 680.4 L397.3 683.0 L398.4 686.7 L399.5 689.5 L400.5 691.0 L401.7 692.3 L402.6 693.0 L403.9 697.3 L404.7 699.4 L406.1 697.9 L406.8 697.3 L408.3 694.1 L409.0 691.0 L410.5 689.2 L411.0 688.8 L411.6 691.5 L412.7 697.1 L413.2 699.4 L413.8 701.3 L415.3 705.8 L416.0 707.3 L417.4 710.0 L418.2 711.2 L419.3 712.7 L420.6 714.2 L421.5 716.4 L422.6 718.2 L423.8 720.6 L424.8 723.2 L425.9 723.6 L427.0 724.8 L428.1 726.7 L429.2 728.3 L430.0 729.0 L431.4 730.4 L432.5 732.1 L433.6 732.5 L434.3 733.3 L435.8 734.5 L436.9 735.3 L438.0 736.4 L438.6 736.5 L439.1 737.0 L440.2 737.4 L441.3 737.9 L442.4 738.3 L443.8 738.5 L444.6 738.5 L445.7 738.5 L446.8 738.5 L447.9 738.5 L449.0 738.5 L450.0 738.5" fill="none" stroke="#000" stroke-width="2.4" stroke-linejoin="round"/>
<path d="M72.0 739.5 V425.5 H494.8 V739.5" fill="none" stroke="#1a1a1a" stroke-width="1.15"/>
<path d="M71.5 739.2 H495.3" fill="none" stroke="#000" stroke-width="2.2"/>
<path d="M66.5 739.5 H72.0 M66.5 664.9 H72.0 M66.5 590.2 H72.0 M66.5 515.5 H72.0 M66.5 440.9 H72.0 M72.0 739.5 V744.0 M211.5 739.5 V744.0 M354.0 739.5 V744.0 M495.0 739.5 V744.0 " fill="none" stroke="#111" stroke-width="1.25"/>
<defs><clipPath id="ca"><rect x="104.5" y="16.5" width="133.0" height="93.0"/></clipPath><clipPath id="cb"><rect x="100.5" y="432.5" width="133.0" height="92.0"/></clipPath><filter id="bl" x="-20%" y="-20%" width="140%" height="140%"><feGaussianBlur stdDeviation="2"/></filter><filter id="bl2" x="-20%" y="-20%" width="140%" height="140%"><feGaussianBlur stdDeviation="1.3"/></filter><pattern id="hg" width="2" height="2" patternUnits="userSpaceOnUse"><rect width="2" height="2" fill="#d4d4d4"/><rect width="1" height="1" fill="#949494"/><rect x="1" y="1" width="1" height="1" fill="#949494"/></pattern><mask id="ma" maskUnits="userSpaceOnUse" x="100" y="10" width="142" height="104"><g filter="url(#bl)" fill="#fff"><ellipse cx="141.5" cy="56" rx="17" ry="21.5" transform="rotate(28 141.5 56)"/><ellipse cx="151" cy="43" rx="9" ry="8" fill="#ddd"/><ellipse cx="133" cy="68" rx="9" ry="9" fill="#ddd"/><path d="M103 88 L110 87 L118 91 L124 98 L132 104 L176 104 L184 98 L194 91 L204 89 L213 92 L219 99 L222 110 L103 110 Z"/></g></mask><mask id="mb" maskUnits="userSpaceOnUse" x="96" y="428" width="142" height="102"><g filter="url(#bl)" fill="#fff"><path d="M99 501 L107 500 L115 505 L121 512 L129 518 L170 519 L178 512 L188 506 L199 504.5 L208 507 L214 514 L217 526 L99 526 Z"/><ellipse cx="193" cy="460" rx="6.5" ry="19" fill="#cfcfcf"/></g></mask></defs>
<g clip-path="url(#ca)">
<rect x="100" y="10" width="142" height="104" fill="url(#hg)" mask="url(#ma)"/>
<path d="M155.1 38.7h1.0M162.7 65.3h1.0M128.5 19.0h1.0M169.1 56.9h1.0M142.6 52.8h1.0M132.3 48.0h1.0M137.2 36.4h1.0M118.0 71.2h1.0M131.8 71.6h1.0M156.3 54.2h1.0M157.5 41.9h1.0M153.4 53.7h1.0M111.8 62.2h1.0M132.2 18.7h1.0M157.6 79.0h1.0M155.6 61.1h1.0M174.1 64.1h1.0M151.4 80.3h1.0M127.1 51.8h1.0M161.4 59.5h1.0M141.9 80.4h1.0M154.8 34.1h1.0M119.5 77.7h1.0M147.0 44.4h1.0M144.8 43.7h1.0M143.3 87.3h1.0M155.2 85.9h1.0M136.2 40.0h1.0M162.2 26.5h1.0M146.7 64.2h1.0M129.4 52.5h1.0M128.9 41.6h1.0M156.2 61.5h1.0M152.9 50.1h1.0M133.6 69.6h1.0M147.4 58.5h1.0M133.4 50.3h1.0M159.1 24.8h1.0M131.4 57.9h1.0M153.5 36.0h1.0M150.2 74.6h1.0M136.9 54.9h1.0M166.4 30.9h1.0M129.3 46.2h1.0M145.2 37.2h1.0M118.9 58.0h1.0M137.1 63.7h1.0M135.6 74.2h1.0M143.8 44.2h1.0M134.5 63.4h1.0M169.0 43.8h1.0M159.0 70.7h1.0M126.2 46.6h1.0M156.1 67.8h1.0M117.7 47.0h1.0M124.6 68.8h1.0M141.3 50.9h1.0M144.2 55.0h1.0M117.8 72.8h1.0M132.0 51.9h1.0M146.0 49.4h1.0M137.8 39.2h1.0M132.5 53.7h1.0M150.9 60.5h1.0M150.2 72.6h1.0M141.8 54.2h1.0M137.2 67.9h1.0M143.0 53.0h1.0M124.8 79.2h1.0M134.8 53.4h1.0M122.7 61.6h1.0M147.9 66.9h1.0M149.0 36.3h1.0M132.8 72.4h1.0M147.0 51.8h1.0M142.8 74.5h1.0M174.3 34.4h1.0M149.9 26.8h1.0M149.1 23.8h1.0M156.1 30.4h1.0M132.5 46.0h1.0M159.4 63.9h1.0M160.8 47.1h1.0M153.5 55.6h1.0M144.5 45.6h1.0M147.0 72.6h1.0M151.5 74.0h1.0M146.6 64.4h1.0M133.5 65.2h1.0M107.1 73.6h1.0M150.5 72.4h1.0M146.7 31.2h1.0M131.4 48.6h1.0M155.9 57.4h1.0M141.0 71.4h1.0M118.9 55.9h1.0M134.6 69.6h1.0M148.1 31.3h1.0M146.2 84.2h1.0M116.5 43.4h1.0M130.1 69.4h1.0M136.6 63.4h1.0M167.1 51.3h1.0M132.1 37.7h1.0M115.1 66.2h1.0M151.3 44.0h1.0M160.4 43.6h1.0M179.2 34.8h1.0M153.5 44.3h1.0M135.6 40.2h1.0M156.0 57.0h1.0M137.8 65.6h1.0M142.3 47.5h1.0M149.5 39.0h1.0M162.0 57.7h1.0M130.0 49.7h1.0M126.8 52.4h1.0M140.2 57.8h1.0M142.2 52.9h1.0M127.1 59.8h1.0M131.8 46.4h1.0M154.1 42.0h1.0M161.6 61.1h1.0M139.7 88.8h1.0M156.8 47.3h1.0M143.2 101.1h1.0M117.8 36.5h1.0M116.5 58.2h1.0M142.8 27.0h1.0M126.2 47.4h1.0M118.9 72.4h1.0M150.6 38.3h1.0M129.0 37.3h1.0M133.8 58.3h1.0M111.5 49.5h1.0M138.2 27.4h1.0M168.8 44.4h1.0M132.6 57.3h1.0M144.6 62.4h1.0M147.0 71.5h1.0M136.3 50.6h1.0M145.9 69.1h1.0M137.1 75.9h1.0M159.6 41.3h1.0M126.6 68.0h1.0M117.2 59.3h1.0M119.5 69.8h1.0M136.8 46.9h1.0M149.6 58.7h1.0M138.6 56.1h1.0M139.6 46.3h1.0M132.9 70.6h1.0M155.7 66.0h1.0M140.5 37.4h1.0M161.2 68.9h1.0M131.9 32.5h1.0M144.0 28.6h1.0M160.5 45.1h1.0M149.0 59.4h1.0M129.4 52.9h1.0M141.2 53.8h1.0M128.7 60.2h1.0M141.2 90.6h1.0M156.7 41.9h1.0M129.3 58.5h1.0M145.7 62.6h1.0M144.6 35.7h1.0M144.2 47.9h1.0M141.5 59.6h1.0M134.0 53.3h1.0M153.2 45.8h1.0M143.4 70.5h1.0M146.3 62.2h1.0M153.1 72.3h1.0M127.9 78.8h1.0M129.7 28.0h1.0M128.8 68.3h1.0M141.7 64.5h1.0M147.9 42.9h1.0M150.3 58.6h1.0M155.8 54.4h1.0M147.9 37.5h1.0M135.2 67.7h1.0M133.3 38.5h1.0M169.4 31.0h1.0M133.0 67.0h1.0M130.2 42.3h1.0M124.2 55.2h1.0M134.9 56.7h1.0M165.5 60.4h1.0M155.1 54.7h1.0M142.9 49.0h1.0M153.0 40.2h1.0M147.4 67.4h1.0M151.8 46.1h1.0M137.4 42.3h1.0M147.1 59.9h1.0M141.8 35.2h1.0M115.6 32.1h1.0M135.4 44.4h1.0M129.9 58.1h1.0M164.5 39.4h1.0M151.7 73.8h1.0M128.5 47.7h1.0M147.7 49.3h1.0M141.1 61.7h1.0M115.7 63.0h1.0M106.2 61.5h1.0M147.5 39.5h1.0M135.3 77.2h1.0M133.6 53.0h1.0M148.4 39.6h1.0M135.1 50.0h1.0M130.5 49.1h1.0M145.7 34.7h1.0M129.4 42.4h1.0M144.0 73.0h1.0M135.0 73.0h1.0M130.1 62.7h1.0M144.1 61.8h1.0M144.4 49.0h1.0M107.8 78.4h1.0M148.7 34.6h1.0M143.5 34.9h1.0M123.0 34.0h1.0M131.9 54.7h1.0M150.9 51.3h1.0M128.5 64.0h1.0M171.6 40.2h1.0M160.2 78.4h1.0M126.5 80.8h1.0M144.1 72.3h1.0M171.5 62.9h1.0M141.4 44.7h1.0M122.7 67.1h1.0M147.2 27.4h1.0M128.2 35.6h1.0M134.3 22.3h1.0M145.9 54.8h1.0M124.5 81.3h1.0M148.3 50.6h1.0M141.9 74.9h1.0M138.5 34.8h1.0M143.0 46.2h1.0M142.1 45.4h1.0M126.1 67.9h1.0M136.2 37.5h1.0M150.8 47.3h1.0M140.1 55.0h1.0M136.7 81.2h1.0M155.6 62.5h1.0M144.7 88.7h1.0M124.2 55.3h1.0M131.9 46.9h1.0M131.2 71.7h1.0M147.6 47.6h1.0M160.9 47.3h1.0M128.1 51.7h1.0M146.0 29.7h1.0M153.2 39.1h1.0M164.3 50.7h1.0M160.9 64.3h1.0M121.5 65.7h1.0M131.8 71.9h1.0M132.2 48.1h1.0M152.3 64.3h1.0M150.3 53.7h1.0M146.3 32.1h1.0M131.0 58.4h1.0M150.9 46.3h1.0M150.8 72.9h1.0M135.0 43.0h1.0M144.1 38.5h1.0M141.5 61.4h1.0M145.9 47.5h1.0M155.2 37.8h1.0M121.6 65.6h1.0M131.8 57.1h1.0M111.1 48.3h1.0M142.4 57.2h1.0M160.5 53.5h1.0M137.0 43.5h1.0M157.4 54.2h1.0M137.4 61.3h1.0M124.4 24.7h1.0M155.2 69.8h1.0M122.2 47.9h1.0M151.6 86.1h1.0M138.7 41.3h1.0M132.3 51.8h1.0M140.9 59.7h1.0M138.0 64.6h1.0M142.1 78.9h1.0M146.0 66.0h1.0M149.1 33.6h1.0M149.7 88.7h1.0M164.7 29.8h1.0M141.7 67.2h1.0M135.4 76.7h1.0M145.1 44.9h1.0M141.3 54.8h1.0M151.7 58.7h1.0M155.8 41.7h1.0M140.2 61.8h1.0M162.2 47.3h1.0M136.3 59.4h1.0M144.1 67.7h1.0M146.8 77.7h1.0M117.8 70.2h1.0M135.6 60.9h1.0M161.9 73.2h1.0M130.2 47.1h1.0M158.3 61.8h1.0M121.6 63.3h1.0M142.6 70.3h1.0M124.2 57.0h1.0M133.5 52.3h1.0M130.1 69.6h1.0M141.6 35.7h1.0M159.3 53.9h1.0M152.1 64.3h1.0M146.7 78.3h1.0M152.6 38.3h1.0M171.5 49.4h1.0M164.0 43.7h1.0M141.8 69.0h1.0M122.3 62.1h1.0M141.6 83.5h1.0M136.3 94.5h1.0M151.0 38.3h1.0M153.0 57.4h1.0M156.1 52.2h1.0M144.9 37.7h1.0M149.5 60.0h1.0M150.3 49.7h1.0M145.4 60.1h1.0M139.5 48.7h1.0M144.9 31.3h1.0M139.8 65.8h1.0M158.1 73.0h1.0M176.9 63.0h1.0M150.8 20.9h1.0M146.2 33.0h1.0M128.1 56.8h1.0M132.0 63.7h1.0M147.0 59.4h1.0M128.9 51.7h1.0M166.8 20.8h1.0M150.6 66.1h1.0M167.4 54.3h1.0M169.0 62.3h1.0M162.1 47.0h1.0M186.3 38.7h1.0M130.3 64.5h1.0M143.5 63.2h1.0M151.3 40.6h1.0M158.1 34.8h1.0M160.3 52.2h1.0M132.0 67.1h1.0M162.3 74.0h1.0M159.4 64.0h1.0M141.1 71.7h1.0M146.4 63.7h1.0M134.9 35.6h1.0M141.4 54.3h1.0M151.9 45.0h1.0M138.0 74.4h1.0M124.3 55.9h1.0M145.3 31.2h1.0M161.5 77.7h1.0M151.0 63.1h1.0M153.1 53.9h1.0M140.9 47.0h1.0M159.0 44.5h1.0M169.4 41.0h1.0M150.9 64.4h1.0M133.7 60.6h1.0M148.4 52.3h1.0M128.5 54.6h1.0M140.5 48.3h1.0M152.7 53.9h1.0M131.7 60.4h1.0M136.0 61.9h1.0M152.9 85.7h1.0M143.0 47.8h1.0M150.6 65.6h1.0M139.2 51.6h1.0M125.3 52.5h1.0M134.3 74.9h1.0M134.8 59.8h1.0M119.7 32.4h1.0M128.7 41.9h1.0M140.3 44.5h1.0M164.2 60.4h1.0M138.7 42.4h1.0M145.0 48.2h1.0M152.0 56.9h1.0M144.2 62.4h1.0M143.1 41.0h1.0M165.2 66.7h1.0M160.4 64.2h1.0M153.9 65.2h1.0M146.5 66.8h1.0M154.0 65.6h1.0M136.3 73.5h1.0M154.4 58.7h1.0M178.2 44.5h1.0M163.6 71.0h1.0M173.1 51.4h1.0M170.9 28.4h1.0M152.0 68.2h1.0M155.6 60.5h1.0M125.9 52.0h1.0M170.7 75.6h1.0M146.8 54.3h1.0M140.1 73.6h1.0M143.7 57.2h1.0M150.9 53.7h1.0M113.2 43.6h1.0M158.5 26.3h1.0M121.9 55.7h1.0M138.3 27.7h1.0M114.5 50.5h1.0M119.8 43.4h1.0M150.1 59.9h1.0M140.9 40.5h1.0M130.5 79.7h1.0M153.0 23.9h1.0M127.4 46.6h1.0M138.4 37.9h1.0M135.2 24.3h1.0M129.1 74.9h1.0M110.8 45.3h1.0M121.7 89.3h1.0M150.0 72.2h1.0M155.8 69.8h1.0M154.5 70.4h1.0M157.3 39.1h1.0M136.8 30.0h1.0M145.8 82.0h1.0M144.3 70.6h1.0M150.6 46.1h1.0M124.9 50.1h1.0M146.6 60.2h1.0M153.9 81.9h1.0M150.2 65.1h1.0M143.4 44.0h1.0M144.6 70.9h1.0M145.6 47.8h1.0M141.0 65.3h1.0M157.4 52.0h1.0M132.9 80.3h1.0M153.2 44.2h1.0M124.5 66.0h1.0M124.4 59.5h1.0M152.0 50.9h1.0M141.2 35.2h1.0M137.6 87.8h1.0M115.3 48.8h1.0M150.3 82.2h1.0M138.5 60.6h1.0M158.9 79.9h1.0M106.5 45.2h1.0M126.9 27.3h1.0M166.1 52.8h1.0M141.7 62.8h1.0M153.6 40.3h1.0M145.8 51.9h1.0M144.8 55.7h1.0M142.4 75.9h1.0M117.9 74.5h1.0M152.6 24.6h1.0M157.2 70.1h1.0M133.1 84.2h1.0M142.0 32.5h1.0M150.1 40.8h1.0M148.9 79.9h1.0M138.1 57.7h1.0M143.0 47.1h1.0M147.4 62.3h1.0M149.1 72.1h1.0M161.6 66.4h1.0M137.7 61.5h1.0M145.3 61.8h1.0M153.7 68.7h1.0M114.4 48.9h1.0M141.1 64.0h1.0M149.1 57.3h1.0M133.6 73.1h1.0M131.9 47.7h1.0M152.9 53.1h1.0M167.8 43.1h1.0M145.1 45.7h1.0M134.1 56.8h1.0M139.9 53.4h1.0M159.3 75.3h1.0M166.1 47.2h1.0M146.3 48.2h1.0M139.1 21.6h1.0M126.1 45.9h1.0M131.3 69.7h1.0M134.5 62.4h1.0M148.0 52.8h1.0M123.3 57.8h1.0M138.4 60.5h1.0M154.8 47.0h1.0M125.1 32.3h1.0M179.3 56.7h1.0M147.1 67.1h1.0M145.6 68.8h1.0M121.6 55.4h1.0M129.5 47.2h1.0M144.1 91.1h1.0M155.5 59.2h1.0M156.8 66.5h1.0M145.5 76.8h1.0M161.2 35.8h1.0M123.5 58.4h1.0M146.8 55.8h1.0M134.3 52.3h1.0M156.4 44.8h1.0M172.1 57.0h1.0M143.3 78.9h1.0M150.7 76.0h1.0M146.8 34.1h1.0M126.5 54.8h1.0M145.4 50.0h1.0M149.7 79.1h1.0M159.6 72.4h1.0M136.6 68.1h1.0M146.1 57.8h1.0M136.4 55.5h1.0M122.6 37.5h1.0M152.8 35.4h1.0M150.6 50.7h1.0M128.8 72.9h1.0M131.5 76.1h1.0M122.9 33.6h1.0M148.5 44.7h1.0M166.1 54.0h1.0M147.0 45.2h1.0M158.0 42.9h1.0M152.9 49.2h1.0M127.9 62.0h1.0M140.8 68.8h1.0M120.5 77.0h1.0M183.8 71.2h1.0M158.8 25.9h1.0M131.1 41.8h1.0M128.1 31.7h1.0M165.3 60.0h1.0M155.7 49.0h1.0M142.0 73.0h1.0M129.1 35.9h1.0M134.8 53.1h1.0M114.6 75.9h1.0M157.9 62.5h1.0M145.8 28.6h1.0M163.6 80.8h1.0M146.9 66.2h1.0M134.8 62.4h1.0M156.8 74.3h1.0M119.7 29.9h1.0M137.4 36.6h1.0M136.2 56.1h1.0M168.0 37.3h1.0M162.8 50.1h1.0M140.3 75.4h1.0M126.1 27.0h1.0M133.2 58.3h1.0M120.8 65.4h1.0M160.3 62.5h1.0M139.4 47.0h1.0M142.6 79.0h1.0M176.9 46.7h1.0M131.2 80.3h1.0M157.9 47.0h1.0M137.2 54.4h1.0M150.2 40.1h1.0M150.0 40.4h1.0M136.7 70.9h1.0M143.2 57.6h1.0M134.0 61.5h1.0M176.6 47.8h1.0M135.9 47.1h1.0M153.8 39.2h1.0M138.7 54.0h1.0M108.6 49.7h1.0M152.9 69.2h1.0M142.6 65.1h1.0M127.8 38.4h1.0M129.0 60.4h1.0M123.1 40.2h1.0M138.1 77.8h1.0M165.2 62.7h1.0M151.9 80.9h1.0M126.9 43.2h1.0M114.6 55.8h1.0M148.4 62.6h1.0M175.0 44.2h1.0M139.0 66.3h1.0M162.8 48.6h1.0M134.5 21.4h1.0M140.1 57.5h1.0M141.5 75.4h1.0M132.2 64.6h1.0M144.6 42.2h1.0M162.6 34.6h1.0M132.8 40.6h1.0M156.0 52.6h1.0M146.8 55.0h1.0M120.9 68.5h1.0M149.6 55.5h1.0M141.4 36.6h1.0M158.3 43.0h1.0M148.3 41.7h1.0M142.7 44.3h1.0M129.7 56.2h1.0M147.2 52.4h1.0M142.2 54.5h1.0M167.9 68.5h1.0M140.5 58.8h1.0M119.7 57.7h1.0M163.6 85.4h1.0M120.4 29.3h1.0M167.0 61.2h1.0M131.1 49.2h1.0M162.5 61.8h1.0M134.6 67.1h1.0M145.2 69.9h1.0M146.7 46.8h1.0M130.3 80.2h1.0M146.2 66.8h1.0M129.0 62.6h1.0M152.6 49.9h1.0M122.3 61.5h1.0M134.1 47.0h1.0M141.1 39.0h1.0M140.0 57.3h1.0M165.4 48.0h1.0M137.4 35.0h1.0M127.4 57.8h1.0M121.6 61.3h1.0M140.8 43.5h1.0M143.9 73.6h1.0M124.4 69.1h1.0M130.8 71.5h1.0M131.8 57.7h1.0M145.1 52.1h1.0M152.6 54.0h1.0M151.8 68.6h1.0M123.4 68.0h1.0M130.3 81.3h1.0M127.5 55.5h1.0M154.1 66.2h1.0M147.3 68.0h1.0M180.5 76.7h1.0M132.0 71.9h1.0M123.1 67.4h1.0M124.4 79.5h1.0M124.8 48.6h1.0M140.1 69.0h1.0M150.6 48.1h1.0M157.2 56.2h1.0M138.5 80.4h1.0M137.8 50.5h1.0M171.6 36.3h1.0M153.3 52.3h1.0M156.7 54.0h1.0M137.2 22.9h1.0M129.2 54.9h1.0M127.8 65.6h1.0M139.8 46.9h1.0M105.7 58.6h1.0M171.6 33.2h1.0M134.4 66.8h1.0M153.9 61.7h1.0M138.6 94.9h1.0M162.6 66.0h1.0M150.2 59.9h1.0M147.5 58.8h1.0M134.1 47.5h1.0M146.3 52.1h1.0M162.2 77.5h1.0M116.2 50.7h1.0M130.7 57.3h1.0M144.4 62.8h1.0M169.0 56.4h1.0M115.4 78.7h1.0M142.5 39.7h1.0M138.8 71.8h1.0M186.4 72.8h1.0M124.0 67.5h1.0M141.8 53.0h1.0M146.0 77.7h1.0M129.8 60.5h1.0M140.6 76.9h1.0M135.9 89.1h1.0M136.3 58.5h1.0M146.5 61.8h1.0M181.4 32.3h1.0M144.3 58.6h1.0M131.2 68.3h1.0M133.9 49.5h1.0M145.5 59.9h1.0M158.1 61.3h1.0M156.8 30.1h1.0M141.7 72.1h1.0M183.8 62.6h1.0M140.7 33.3h1.0M121.8 65.8h1.0M144.1 65.1h1.0M136.3 64.8h1.0M149.9 63.0h1.0M164.0 55.3h1.0M142.2 73.0h1.0M145.4 43.9h1.0M148.3 64.6h1.0M155.6 46.0h1.0M148.3 41.1h1.0M129.8 66.4h1.0M156.8 50.3h1.0M130.1 80.1h1.0M135.0 32.1h1.0M145.5 77.5h1.0M137.3 50.5h1.0M130.4 66.1h1.0M147.3 71.9h1.0M143.1 26.7h1.0M136.4 65.8h1.0M131.0 47.5h1.0M127.3 35.2h1.0M140.1 74.9h1.0M161.8 72.4h1.0M127.9 58.8h1.0M149.9 85.2h1.0M151.0 78.9h1.0M162.7 68.1h1.0M132.8 39.8h1.0M124.4 75.6h1.0M169.2 58.0h1.0M151.7 34.2h1.0M130.5 86.0h1.0M139.4 92.6h1.0M161.1 37.7h1.0M132.7 60.3h1.0M148.4 36.0h1.0M147.4 71.1h1.0M149.1 53.0h1.0M141.2 33.4h1.0M154.4 79.5h1.0M159.8 50.3h1.0M135.8 62.1h1.0M139.2 45.1h1.0M144.8 88.5h1.0M147.0 52.2h1.0M147.9 23.2h1.0M131.2 59.6h1.0M160.8 49.5h1.0M139.7 77.3h1.0M175.2 99.0h1.0M139.8 57.1h1.0M142.4 73.5h1.0M131.8 30.7h1.0M153.3 72.5h1.0M124.6 78.7h1.0M154.6 39.2h1.0M156.4 76.4h1.0M157.9 68.5h1.0M144.5 73.6h1.0M160.5 66.3h1.0M137.6 54.2h1.0M123.0 69.9h1.0M122.1 49.4h1.0M148.0 68.0h1.0M178.8 49.2h1.0M136.4 61.6h1.0M139.2 67.9h1.0M139.8 53.7h1.0M150.3 59.8h1.0M130.5 17.8h1.0M161.5 47.3h1.0M159.8 60.0h1.0M135.9 49.0h1.0M115.9 83.6h1.0M126.3 63.8h1.0M158.3 43.3h1.0M149.1 99.3h1.0M138.2 31.2h1.0M129.1 31.6h1.0M150.1 45.2h1.0M147.3 58.2h1.0M136.9 99.5h1.0M135.3 49.6h1.0M149.9 69.8h1.0M167.4 42.4h1.0M123.3 41.4h1.0M123.0 93.5h1.0M143.4 80.3h1.0M147.9 75.5h1.0M125.9 76.8h1.0M112.6 54.6h1.0M128.8 60.9h1.0M130.0 33.3h1.0M145.0 32.2h1.0M161.2 53.7h1.0M136.1 48.9h1.0M149.0 46.1h1.0M121.6 61.0h1.0M144.1 90.0h1.0M134.1 53.7h1.0M138.1 28.2h1.0M176.2 50.0h1.0M140.7 75.0h1.0M147.1 73.3h1.0M113.6 49.3h1.0M158.2 75.4h1.0M159.1 84.4h1.0M140.4 57.4h1.0M136.5 60.3h1.0M136.7 49.0h1.0M169.8 34.3h1.0M120.2 49.9h1.0M147.3 58.8h1.0M167.6 74.9h1.0M147.9 49.9h1.0M167.2 74.9h1.0M140.5 63.2h1.0M141.1 49.2h1.0M161.5 47.5h1.0M146.0 46.4h1.0M141.8 62.8h1.0M131.5 67.8h1.0M114.4 77.4h1.0M139.0 53.9h1.0M149.2 68.8h1.0M149.9 81.5h1.0M148.0 41.7h1.0M142.9 68.4h1.0M132.7 44.9h1.0M142.6 50.5h1.0M135.6 67.7h1.0M142.2 52.8h1.0M141.3 62.6h1.0M154.5 42.6h1.0M159.9 63.3h1.0M158.8 48.5h1.0M151.7 55.6h1.0M107.7 93.0h1.0M131.4 52.8h1.0M144.7 54.2h1.0M146.6 51.8h1.0M157.7 49.8h1.0M106.9 74.3h1.0M149.6 47.8h1.0M129.1 94.3h1.0M139.4 52.0h1.0M123.8 71.5h1.0M145.0 60.4h1.0M144.6 46.7h1.0M150.4 57.2h1.0M106.5 65.8h1.0M131.3 49.5h1.0M176.2 36.7h1.0M133.7 87.3h1.0M136.6 42.1h1.0M140.5 50.4h1.0M115.5 72.2h1.0M173.2 39.9h1.0M165.7 57.9h1.0M150.8 72.2h1.0M155.3 74.0h1.0M145.6 68.8h1.0M167.2 50.3h1.0M145.6 75.3h1.0M165.2 58.6h1.0M141.4 60.1h1.0M147.8 42.7h1.0M124.0 80.8h1.0M138.9 49.0h1.0M121.8 47.2h1.0M164.8 56.7h1.0M159.7 71.7h1.0M161.7 41.1h1.0M157.3 61.8h1.0M147.6 55.4h1.0M139.1 85.4h1.0M111.1 101.6h1.0M117.9 88.7h1.0M114.4 91.0h1.0M138.2 87.4h1.0M210.7 68.3h1.0M193.0 78.5h1.0M204.2 89.0h1.0M147.6 88.6h1.0M135.5 89.4h1.0M176.5 66.3h1.0M202.5 86.5h1.0M191.2 102.5h1.0M215.8 83.7h1.0M144.2 75.7h1.0M129.4 103.3h1.0M119.6 58.8h1.0M147.3 80.1h1.0M114.0 60.1h1.0M188.6 88.2h1.0M156.4 75.0h1.0M137.5 86.0h1.0M133.2 80.4h1.0M230.7 72.8h1.0M165.9 45.5h1.0M128.6 83.4h1.0M126.6 87.3h1.0M224.3 84.6h1.0M139.8 69.6h1.0M201.6 76.8h1.0M207.3 81.4h1.0M152.7 66.5h1.0M122.1 83.0h1.0M141.0 90.6h1.0M179.6 106.2h1.0M173.1 90.3h1.0M174.9 86.8h1.0M134.6 92.6h1.0M204.8 95.9h1.0M212.6 86.2h1.0M224.2 86.5h1.0M195.0 106.6h1.0M226.3 75.3h1.0M233.3 85.5h1.0M184.6 72.0h1.0M190.8 78.5h1.0M179.3 75.4h1.0M190.2 95.0h1.0M148.7 95.2h1.0M177.1 84.2h1.0M109.5 45.8h1.0M215.5 71.3h1.0M122.9 71.8h1.0M143.7 102.0h1.0M173.1 97.8h1.0M143.3 65.7h1.0M129.9 96.5h1.0M141.9 76.3h1.0M166.4 97.5h1.0M216.3 80.5h1.0M216.9 101.2h1.0M185.9 105.9h1.0M189.3 96.1h1.0M180.5 83.5h1.0M149.5 100.5h1.0M174.8 74.5h1.0M170.6 100.7h1.0M121.1 90.9h1.0M186.2 61.4h1.0M180.2 95.8h1.0M172.9 87.1h1.0M140.5 81.6h1.0M211.4 100.3h1.0M157.5 69.5h1.0M182.7 99.5h1.0M135.5 90.7h1.0M184.0 59.9h1.0M156.4 89.5h1.0M199.7 60.2h1.0M168.2 98.7h1.0M169.8 91.9h1.0M165.2 95.2h1.0M203.1 62.7h1.0M114.6 74.5h1.0M201.2 100.9h1.0M184.1 64.5h1.0M140.6 95.2h1.0M159.9 83.4h1.0M144.4 89.2h1.0M162.1 73.5h1.0M192.9 96.4h1.0M136.2 93.1h1.0M186.0 100.5h1.0M182.3 83.5h1.0M214.7 88.1h1.0M157.5 70.2h1.0M161.0 99.7h1.0M155.1 69.1h1.0M160.2 83.3h1.0M180.5 97.1h1.0M138.4 95.2h1.0M151.4 83.2h1.0M123.3 89.7h1.0M124.3 104.8h1.0M119.4 84.2h1.0M144.5 98.5h1.0M184.3 80.6h1.0M113.7 88.3h1.0M168.5 89.2h1.0M165.9 79.1h1.0M110.9 104.6h1.0M165.2 90.9h1.0M122.4 84.8h1.0M134.2 76.1h1.0M188.7 104.1h1.0M148.7 60.6h1.0M166.3 102.7h1.0M196.1 97.0h1.0M201.3 91.4h1.0M124.3 93.8h1.0M201.4 68.5h1.0M170.4 96.0h1.0M201.8 91.6h1.0M196.8 64.1h1.0M141.3 84.8h1.0M161.3 68.5h1.0M149.7 89.4h1.0M173.1 73.6h1.0M217.9 89.5h1.0M161.9 64.9h1.0M136.8 79.1h1.0M125.2 84.2h1.0M160.0 105.8h1.0M115.5 63.2h1.0M187.7 101.0h1.0M197.2 83.2h1.0M157.1 83.0h1.0M162.0 82.7h1.0M154.3 85.2h1.0M168.5 101.0h1.0M126.5 93.5h1.0M173.9 88.7h1.0M192.4 97.1h1.0M129.7 94.4h1.0M221.8 72.8h1.0M166.0 65.8h1.0M157.4 83.6h1.0M167.1 92.6h1.0M146.0 84.1h1.0M130.2 91.1h1.0M182.6 46.4h1.0M185.2 75.0h1.0M142.6 76.6h1.0M146.0 65.6h1.0M138.3 77.2h1.0M135.6 83.0h1.0M126.3 92.7h1.0M107.4 71.8h1.0M191.7 60.1h1.0M147.9 92.7h1.0M222.7 88.6h1.0M143.1 88.1h1.0M180.2 70.5h1.0M112.9 89.5h1.0M184.2 55.2h1.0M150.9 102.2h1.0M110.0 55.4h1.0M171.6 99.4h1.0M127.4 81.6h1.0M183.5 91.0h1.0M148.6 69.8h1.0M157.4 105.4h1.0M185.8 96.1h1.0M160.8 87.0h1.0M171.3 61.2h1.0M147.4 85.2h1.0M151.7 68.3h1.0M179.4 86.3h1.0M171.0 95.5h1.0M194.9 61.8h1.0M153.3 91.5h1.0M143.9 91.6h1.0M148.0 77.9h1.0M172.7 85.9h1.0M131.9 104.3h1.0M147.3 92.1h1.0M133.0 70.6h1.0M153.6 67.4h1.0M146.6 66.1h1.0M168.7 106.3h1.0M163.1 87.0h1.0M153.8 97.8h1.0M160.9 81.8h1.0M227.1 103.6h1.0M214.8 106.4h1.0M182.1 95.2h1.0M130.1 66.7h1.0M137.7 102.7h1.0M144.2 89.2h1.0M199.2 63.9h1.0M174.0 94.7h1.0M178.0 80.8h1.0M124.8 87.3h1.0M175.9 101.5h1.0M141.6 100.7h1.0M156.9 95.2h1.0M169.6 96.6h1.0M174.1 93.0h1.0M143.8 70.1h1.0M146.6 104.9h1.0M146.5 75.2h1.0M189.0 80.0h1.0M135.1 94.9h1.0M154.5 77.5h1.0M171.2 80.8h1.0M146.0 49.0h1.0M113.4 74.2h1.0M119.3 70.4h1.0M145.8 77.9h1.0M127.0 96.1h1.0M192.7 83.3h1.0M160.4 85.4h1.0M159.0 89.3h1.0M125.5 103.5h1.0M177.7 104.7h1.0M147.6 94.4h1.0M127.4 84.0h1.0M138.0 101.8h1.0M139.0 85.1h1.0M130.2 92.8h1.0M198.9 80.4h1.0M184.8 71.0h1.0M149.9 68.8h1.0M206.5 83.4h1.0M109.8 91.5h1.0M143.3 98.2h1.0M206.0 91.7h1.0M161.0 88.9h1.0M175.6 77.2h1.0M121.0 75.7h1.0M119.1 90.9h1.0M189.6 83.3h1.0M187.3 83.0h1.0M189.2 86.2h1.0M126.9 85.3h1.0M172.9 90.1h1.0M195.9 87.8h1.0M197.5 86.3h1.0M159.6 97.3h1.0M131.1 90.5h1.0M189.9 93.7h1.0M115.9 98.0h1.0M160.4 94.0h1.0M110.4 66.4h1.0M133.3 81.6h1.0M145.9 71.6h1.0M136.8 86.6h1.0M154.6 94.9h1.0M170.0 100.1h1.0M125.6 97.1h1.0M161.7 92.8h1.0M220.3 85.8h1.0M149.0 82.8h1.0M141.2 90.0h1.0M132.3 86.3h1.0M172.6 73.6h1.0M164.5 83.8h1.0M165.4 100.6h1.0M144.1 90.8h1.0M171.2 77.3h1.0M171.4 93.5h1.0M152.4 99.5h1.0M197.1 73.6h1.0M182.1 107.4h1.0M153.5 87.8h1.0M186.7 107.1h1.0M223.2 94.2h1.0M159.9 99.8h1.0M151.8 77.0h1.0M157.8 83.0h1.0M206.0 86.8h1.0M211.6 88.8h1.0M164.6 83.0h1.0M181.1 66.4h1.0M220.8 73.5h1.0M177.7 96.7h1.0M107.9 84.1h1.0M173.1 86.5h1.0M140.4 92.9h1.0M207.5 62.3h1.0M143.6 100.3h1.0M213.9 106.4h1.0M137.5 78.2h1.0M206.5 78.0h1.0M166.8 81.1h1.0M209.3 100.6h1.0M228.0 105.3h1.0M220.9 74.9h1.0M196.7 83.9h1.0M135.1 97.6h1.0M133.0 92.9h1.0M212.0 97.4h1.0M205.0 76.1h1.0M196.7 67.5h1.0M122.4 98.9h1.0M191.7 85.2h1.0M105.9 77.3h1.0M140.7 90.9h1.0M204.4 88.7h1.0M197.7 90.8h1.0M124.6 88.7h1.0M200.9 94.4h1.0M188.7 79.3h1.0M108.3 74.8h1.0M183.8 103.5h1.0M152.9 71.7h1.0M195.9 72.6h1.0M143.8 72.8h1.0M149.3 62.2h1.0M149.0 96.6h1.0M151.1 98.1h1.0M125.3 102.1h1.0M140.9 84.4h1.0M184.0 75.2h1.0M149.0 97.5h1.0M197.5 72.2h1.0M184.8 66.5h1.0M189.0 76.5h1.0M120.6 105.2h1.0M174.5 94.9h1.0M210.2 85.5h1.0M191.7 73.0h1.0M202.8 74.9h1.0M213.0 94.0h1.0M107.6 87.8h1.0M180.0 77.3h1.0M179.3 106.0h1.0M153.4 79.0h1.0M114.6 64.5h1.0M165.2 84.8h1.0M154.6 104.7h1.0M228.1 99.1h1.0M205.8 102.4h1.0M145.9 76.2h1.0M123.5 95.1h1.0M130.7 90.4h1.0M158.4 84.6h1.0M135.0 71.0h1.0M229.0 106.8h1.0M118.7 89.8h1.0M157.1 79.9h1.0M165.4 99.3h1.0M128.1 65.4h1.0M152.6 91.9h1.0M140.3 72.3h1.0M150.0 79.7h1.0M168.3 56.7h1.0M227.3 87.0h1.0M119.0 63.7h1.0M185.1 71.0h1.0M112.6 68.7h1.0M211.5 59.9h1.0M210.3 87.4h1.0M163.8 90.4h1.0M195.2 90.9h1.0M213.3 105.3h1.0M156.7 77.1h1.0M170.1 85.8h1.0M125.0 97.7h1.0M138.3 81.7h1.0M159.5 103.2h1.0M218.7 88.9h1.0M155.1 85.7h1.0M120.8 89.1h1.0M193.7 93.5h1.0M195.0 58.5h1.0M176.8 68.7h1.0M158.3 76.3h1.0M135.7 75.3h1.0M140.6 78.4h1.0M216.0 78.8h1.0M190.3 89.1h1.0M166.7 82.8h1.0M177.7 92.9h1.0M151.2 92.5h1.0M131.0 86.7h1.0M146.7 81.1h1.0M161.2 76.1h1.0M105.9 99.1h1.0M112.7 80.2h1.0M146.7 99.1h1.0M183.3 90.0h1.0M115.4 62.4h1.0M122.0 74.9h1.0M144.9 61.3h1.0M119.5 105.1h1.0M125.7 69.1h1.0M122.2 87.0h1.0M157.1 70.1h1.0M137.4 100.7h1.0M144.4 51.4h1.0M190.3 82.8h1.0M193.9 75.3h1.0M169.4 91.3h1.0M194.3 103.0h1.0M197.2 102.3h1.0M187.1 78.5h1.0M176.7 70.9h1.0M162.9 91.3h1.0M201.9 76.4h1.0M149.8 52.2h1.0M196.5 51.0h1.0M143.7 77.8h1.0M147.1 77.8h1.0M145.0 85.2h1.0M141.1 87.0h1.0M143.4 59.3h1.0M186.6 88.3h1.0M214.5 66.2h1.0M135.9 90.4h1.0M124.2 83.4h1.0M148.7 89.5h1.0M169.9 75.5h1.0M165.6 80.0h1.0M191.8 84.5h1.0M129.6 92.6h1.0M200.0 95.7h1.0M188.0 70.7h1.0M154.6 95.8h1.0M147.0 84.7h1.0M173.4 101.0h1.0M157.9 92.3h1.0M148.0 94.9h1.0M172.2 66.3h1.0M161.5 78.6h1.0M154.6 93.7h1.0M178.4 85.5h1.0M121.3 95.7h1.0M164.1 102.6h1.0M171.3 98.9h1.0M125.6 62.5h1.0M164.0 103.7h1.0M130.8 72.1h1.0M171.9 73.3h1.0M181.8 100.4h1.0M181.5 85.2h1.0M155.0 90.0h1.0M139.5 93.0h1.0M168.2 85.3h1.0M174.9 76.8h1.0M206.6 95.7h1.0M188.2 98.6h1.0M140.2 59.9h1.0M158.4 56.3h1.0M185.2 97.6h1.0M180.5 59.7h1.0M201.6 92.9h1.0M177.4 87.8h1.0M214.9 71.4h1.0M136.4 79.9h1.0M152.0 75.4h1.0M152.9 93.7h1.0M134.5 63.0h1.0M148.7 96.6h1.0M135.9 79.0h1.0M164.5 80.6h1.0M141.6 70.0h1.0M150.7 92.8h1.0M215.8 79.5h1.0M175.7 85.1h1.0M132.4 66.0h1.0M224.1 89.7h1.0M205.6 55.7h1.0M137.0 81.4h1.0M125.6 69.1h1.0M149.5 82.0h1.0M161.2 85.4h1.0M162.7 104.2h1.0M207.2 88.6h1.0M162.8 62.9h1.0M213.6 95.9h1.0M168.9 98.2h1.0M172.5 61.7h1.0M173.1 93.1h1.0M144.5 83.3h1.0M179.0 72.9h1.0M192.8 84.1h1.0M211.1 86.2h1.0M112.6 73.9h1.0M124.3 93.9h1.0M164.8 93.4h1.0M178.0 72.2h1.0M117.8 72.6h1.0M112.2 89.5h1.0M186.5 58.7h1.0M184.8 90.4h1.0M149.7 98.6h1.0M149.5 98.6h1.0M137.3 71.6h1.0M164.7 69.1h1.0M192.2 106.0h1.0M112.5 99.9h1.0M177.9 102.0h1.0M125.3 70.3h1.0M146.9 87.8h1.0M158.8 99.6h1.0M113.9 95.2h1.0M166.7 93.4h1.0M178.7 92.3h1.0M184.9 70.6h1.0M167.7 79.9h1.0M165.0 69.8h1.0M173.9 105.2h1.0M109.2 98.6h1.0M185.7 105.9h1.0M161.5 72.6h1.0M173.2 86.4h1.0M152.5 71.7h1.0M148.1 98.1h1.0M189.2 90.2h1.0M189.8 73.5h1.0M115.4 87.9h1.0M124.8 100.2h1.0M122.4 101.9h1.0M160.5 88.9h1.0M153.3 84.9h1.0M132.9 78.6h1.0M187.0 72.3h1.0M129.5 79.2h1.0M181.2 74.3h1.0M157.1 76.4h1.0M115.6 101.2h1.0M115.8 84.1h1.0M189.3 74.4h1.0M211.8 67.0h1.0M144.0 73.9h1.0M157.6 95.9h1.0M218.0 85.4h1.0M216.8 85.4h1.0M127.5 75.9h1.0M110.6 86.9h1.0M125.5 102.7h1.0M111.1 43.2h1.0M172.7 69.5h1.0M157.4 95.7h1.0M128.9 93.1h1.0M150.7 86.0h1.0M213.2 83.0h1.0M151.8 93.9h1.0M146.7 101.2h1.0M228.2 76.9h1.0M129.5 79.0h1.0M144.2 96.7h1.0M211.7 80.4h1.0M161.6 65.8h1.0M129.8 68.9h1.0M137.2 98.5h1.0M170.8 76.2h1.0M212.9 91.2h1.0M203.4 104.7h1.0M187.3 101.3h1.0M133.8 90.6h1.0M160.3 92.2h1.0M178.7 107.3h1.0M192.8 97.2h1.0M204.0 95.4h1.0M134.4 90.9h1.0M118.7 94.7h1.0M147.4 89.4h1.0M166.5 73.0h1.0M155.9 97.4h1.0M190.9 97.8h1.0M163.1 90.4h1.0M158.0 75.3h1.0M220.4 81.7h1.0M120.3 87.4h1.0M182.9 99.6h1.0M231.9 90.1h1.0M141.3 81.2h1.0M126.7 71.3h1.0M144.9 78.2h1.0M159.7 93.2h1.0M148.1 73.4h1.0M170.3 100.3h1.0M135.7 76.3h1.0M153.5 78.5h1.0M163.1 75.9h1.0M141.2 93.4h1.0M146.9 85.3h1.0M143.6 75.0h1.0M119.0 78.8h1.0M124.0 86.3h1.0M120.9 87.6h1.0M144.2 81.1h1.0M137.2 82.2h1.0M125.8 59.4h1.0M134.9 102.7h1.0M144.0 79.3h1.0M130.2 67.2h1.0M109.8 88.5h1.0M124.0 61.9h1.0M119.0 78.2h1.0M127.1 68.5h1.0M110.4 79.0h1.0M130.8 93.6h1.0M113.8 95.3h1.0M136.2 74.8h1.0M137.4 97.4h1.0M130.4 101.5h1.0M108.2 93.5h1.0M155.0 73.3h1.0M124.3 92.5h1.0M153.7 61.3h1.0M121.7 91.8h1.0M108.5 80.6h1.0M107.7 80.3h1.0M125.7 88.9h1.0M148.0 75.0h1.0M137.6 64.7h1.0M168.4 81.1h1.0M130.2 70.7h1.0M129.9 90.6h1.0M112.4 90.6h1.0M112.0 83.7h1.0M128.9 77.9h1.0M112.6 81.1h1.0M120.6 73.2h1.0M120.7 78.4h1.0M108.8 82.5h1.0M157.8 85.2h1.0M127.2 82.1h1.0M139.0 67.2h1.0M140.9 82.0h1.0M119.2 103.3h1.0M110.6 83.5h1.0M159.7 78.4h1.0M156.1 75.6h1.0M127.5 64.4h1.0M125.7 83.2h1.0M126.9 87.7h1.0M109.4 82.7h1.0M124.8 73.2h1.0M140.9 80.4h1.0M136.0 74.9h1.0M111.9 94.3h1.0M136.4 74.6h1.0M113.5 90.8h1.0M130.5 69.3h1.0M134.6 80.1h1.0M146.4 80.8h1.0M113.2 73.6h1.0M140.5 91.5h1.0M133.2 63.0h1.0M129.0 77.6h1.0M119.3 80.2h1.0M121.8 70.7h1.0M132.5 83.2h1.0M130.1 62.7h1.0M108.1 62.4h1.0M116.8 82.3h1.0M123.9 81.8h1.0M139.1 93.4h1.0M131.8 84.8h1.0M124.6 81.6h1.0M121.5 82.5h1.0M147.8 85.5h1.0M118.5 64.4h1.0M113.9 86.2h1.0M118.6 78.1h1.0M130.2 86.5h1.0M125.1 62.5h1.0M117.2 91.8h1.0M118.3 95.8h1.0M132.7 84.8h1.0M129.7 62.4h1.0M111.6 73.0h1.0M125.2 79.5h1.0M142.5 87.3h1.0M114.7 81.3h1.0M149.5 84.5h1.0M128.5 87.5h1.0M138.9 73.2h1.0M110.7 95.1h1.0M145.1 95.2h1.0M126.4 73.8h1.0M131.4 70.3h1.0M135.7 73.8h1.0M148.5 68.8h1.0M123.5 81.9h1.0M134.9 78.9h1.0M128.9 86.3h1.0M109.6 79.1h1.0M106.1 80.0h1.0M124.2 84.1h1.0M129.6 84.6h1.0M133.5 84.5h1.0M140.4 80.4h1.0M130.1 65.5h1.0M108.4 77.6h1.0M151.3 100.2h1.0M128.6 91.4h1.0M117.6 88.3h1.0M134.2 87.0h1.0M143.0 78.6h1.0M129.2 61.1h1.0M119.4 71.6h1.0M151.7 81.6h1.0M117.8 91.4h1.0M126.8 52.1h1.0M151.1 77.3h1.0M124.2 67.4h1.0M122.8 79.4h1.0M120.0 70.3h1.0M120.6 101.4h1.0M119.5 61.5h1.0M134.3 93.3h1.0M139.6 78.1h1.0M139.1 75.0h1.0M139.0 70.2h1.0M120.1 81.9h1.0M129.1 77.4h1.0M134.4 85.0h1.0M126.1 82.9h1.0M128.6 75.9h1.0M121.0 84.1h1.0M135.3 86.3h1.0M123.8 101.1h1.0M120.6 67.3h1.0M119.3 55.4h1.0M114.1 75.0h1.0M133.9 102.7h1.0M128.5 87.4h1.0M127.9 79.2h1.0M119.8 75.7h1.0M134.7 62.8h1.0M128.2 96.9h1.0M107.9 93.2h1.0M117.0 68.2h1.0M122.7 97.2h1.0M153.8 91.4h1.0M144.2 88.3h1.0M135.8 67.8h1.0M158.9 81.1h1.0M116.7 72.6h1.0M127.2 81.2h1.0M136.2 59.7h1.0M124.4 67.2h1.0M122.0 74.9h1.0M130.6 56.1h1.0M122.4 83.3h1.0M141.2 89.0h1.0M131.2 77.8h1.0M148.9 79.1h1.0M116.1 92.9h1.0M113.1 89.2h1.0M129.3 91.9h1.0M124.4 87.2h1.0M131.7 83.5h1.0M117.7 89.0h1.0M128.4 95.6h1.0M124.2 74.8h1.0M131.8 74.3h1.0M107.6 70.2h1.0M106.4 84.0h1.0M137.1 86.4h1.0M114.9 70.3h1.0M128.7 75.4h1.0M135.9 85.4h1.0M136.1 93.2h1.0M127.7 106.9h1.0M115.4 88.0h1.0M129.1 68.3h1.0M135.9 92.2h1.0M118.8 76.0h1.0M132.9 78.7h1.0M129.4 59.3h1.0M127.6 94.6h1.0M133.3 82.3h1.0M114.5 75.3h1.0M142.0 88.8h1.0M133.2 86.6h1.0M144.6 77.9h1.0M120.3 66.0h1.0M132.5 74.5h1.0M118.9 78.6h1.0M116.9 71.5h1.0M131.8 103.9h1.0M124.0 62.5h1.0M132.5 76.7h1.0M116.7 91.7h1.0M151.6 74.8h1.0M124.9 72.6h1.0M128.4 89.9h1.0M140.1 75.3h1.0M134.0 92.2h1.0M111.1 94.2h1.0M119.5 78.7h1.0M106.5 69.1h1.0M151.7 78.9h1.0M107.0 78.9h1.0M140.5 90.5h1.0M110.4 73.9h1.0M148.1 95.4h1.0M138.2 82.2h1.0M122.7 83.2h1.0M117.2 77.6h1.0M133.8 63.7h1.0M196.2 77.6h1.0M189.4 63.3h1.0M122.7 48.4h1.0M120.8 32.5h1.0M190.9 51.6h1.0M216.9 67.3h1.0M132.2 104.6h1.0M134.3 42.3h1.0M199.2 94.5h1.0M167.2 87.9h1.0M160.0 50.7h1.0M151.4 69.2h1.0M114.3 20.4h1.0M165.1 105.3h1.0M145.2 61.8h1.0M156.6 31.7h1.0M176.2 88.6h1.0M194.9 95.6h1.0M187.2 83.5h1.0M202.6 105.5h1.0M108.4 42.7h1.0M191.1 67.3h1.0M176.5 57.2h1.0M216.7 74.8h1.0M228.1 43.0h1.0M107.7 78.7h1.0M213.7 59.6h1.0M138.9 52.2h1.0M187.2 80.2h1.0M205.4 42.2h1.0M216.1 47.4h1.0M228.3 106.8h1.0M188.5 52.6h1.0M217.7 48.1h1.0M170.7 103.9h1.0M136.3 101.4h1.0M126.8 99.9h1.0M170.7 26.7h1.0M202.9 89.6h1.0M164.4 36.7h1.0M194.6 75.7h1.0M122.3 94.2h1.0M232.3 84.5h1.0M167.6 23.3h1.0M213.5 70.9h1.0M200.8 33.2h1.0M207.5 91.7h1.0M155.8 38.2h1.0M120.4 36.3h1.0M165.2 49.6h1.0M149.1 67.1h1.0M157.8 98.4h1.0M235.0 33.9h1.0M146.2 92.8h1.0M207.7 55.5h1.0M127.6 106.5h1.0M183.2 74.6h1.0M151.1 37.7h1.0M137.5 63.2h1.0M157.0 84.0h1.0M227.5 92.0h1.0M181.2 59.6h1.0M173.4 51.6h1.0M210.5 83.5h1.0M171.5 27.0h1.0M120.6 80.8h1.0M123.0 53.2h1.0M199.4 79.8h1.0M166.7 25.8h1.0M133.1 40.5h1.0M231.7 43.7h1.0M141.1 45.1h1.0M207.8 104.1h1.0M147.2 94.0h1.0M203.0 25.7h1.0M174.6 69.4h1.0M110.7 102.6h1.0M198.7 90.1h1.0M144.0 22.4h1.0M162.5 83.9h1.0M198.8 87.5h1.0M235.4 98.3h1.0M164.1 69.8h1.0M193.4 56.9h1.0M169.1 34.3h1.0M192.6 70.9h1.0M126.7 42.9h1.0M235.2 43.6h1.0M124.7 65.2h1.0M192.8 24.5h1.0M114.6 61.3h1.0M117.4 40.4h1.0M219.6 59.1h1.0M203.5 34.7h1.0M118.5 84.4h1.0M142.5 94.9h1.0M115.1 79.6h1.0M227.6 97.6h1.0M216.1 96.7h1.0M207.0 70.4h1.0M196.8 84.9h1.0M193.4 30.7h1.0M110.3 67.5h1.0M113.4 104.0h1.0M145.1 84.3h1.0M181.0 104.3h1.0M213.8 45.9h1.0M163.6 31.1h1.0M138.4 23.6h1.0M188.5 19.8h1.0M229.7 70.7h1.0M169.1 80.8h1.0M179.1 33.3h1.0M143.7 102.7h1.0M204.0 43.0h1.0M125.0 39.0h1.0M193.0 80.8h1.0M134.4 20.3h1.0M193.8 59.4h1.0M171.3 77.5h1.0M213.2 67.9h1.0M179.6 38.7h1.0M223.9 89.9h1.0M164.6 67.4h1.0M108.0 69.0h1.0M232.8 52.4h1.0M205.9 105.0h1.0M212.9 23.1h1.0M213.6 40.6h1.0M122.4 81.7h1.0M219.7 45.1h1.0M116.9 85.1h1.0M146.2 84.5h1.0M126.8 54.8h1.0M168.8 92.9h1.0M130.7 79.8h1.0M133.5 77.9h1.0M181.3 66.5h1.0M127.0 68.6h1.0M168.7 100.0h1.0M196.2 91.9h1.0M108.0 39.9h1.0M221.0 97.3h1.0M204.1 72.2h1.0M203.7 60.3h1.0M200.1 65.8h1.0M231.0 66.5h1.0M124.7 61.0h1.0M116.8 103.5h1.0M202.2 85.1h1.0M108.4 27.6h1.0M187.9 43.1h1.0M187.1 50.7h1.0M226.1 105.3h1.0M118.7 67.9h1.0M151.8 74.0h1.0M204.8 103.0h1.0M151.3 91.5h1.0M143.9 39.0h1.0M129.3 40.8h1.0M108.6 71.4h1.0M174.8 62.9h1.0M114.3 19.3h1.0M167.0 66.1h1.0M201.4 101.8h1.0M160.4 78.8h1.0M185.1 30.2h1.0M229.9 80.6h1.0M129.3 33.8h1.0M189.7 104.7h1.0" stroke="#bdbdbd" stroke-width="1" fill="none"/>
<path d="M203.6 50.6h1.0M198.2 62.7h1.0M193.1 32.4h1.0M196.5 51.1h1.0M195.2 60.8h1.0M200.4 46.2h1.0M191.2 55.1h1.0M201.9 48.5h1.0M192.5 44.8h1.0M197.5 33.2h1.0M201.2 54.0h1.0M200.7 45.9h1.0M195.1 35.4h1.0M205.3 54.1h1.0M198.8 54.2h1.0M193.4 43.4h1.0M197.3 54.6h1.0M193.7 48.3h1.0M199.6 46.9h1.0M189.4 79.8h1.0M199.6 49.3h1.0M189.7 41.8h1.0M202.1 54.8h1.0M198.0 59.9h1.0M203.6 49.7h1.0M195.3 30.4h1.0M187.7 50.3h1.0M191.5 43.0h1.0M196.7 42.3h1.0M205.6 63.2h1.0M199.3 61.8h1.0M203.1 56.2h1.0M192.3 67.2h1.0M194.3 60.2h1.0M195.1 63.1h1.0M202.9 47.5h1.0M194.7 51.9h1.0M196.1 48.9h1.0M203.5 71.8h1.0M193.8 43.3h1.0M196.7 59.1h1.0M192.1 35.5h1.0M195.6 60.8h1.0M201.5 44.4h1.0M203.5 39.5h1.0M190.5 58.2h1.0M185.4 54.9h1.0M200.0 48.2h1.0M205.4 44.8h1.0M194.3 47.2h1.0M197.8 63.5h1.0M197.8 45.0h1.0M188.3 35.7h1.0M184.5 59.0h1.0M198.2 31.1h1.0M199.7 49.2h1.0M189.7 61.0h1.0M195.9 49.7h1.0M192.9 64.0h1.0M191.3 77.0h1.0M192.2 37.4h1.0M203.5 37.5h1.0M197.9 41.4h1.0M196.8 42.2h1.0M196.2 31.4h1.0M198.2 64.7h1.0M194.4 60.8h1.0M197.1 65.7h1.0M193.8 49.9h1.0M199.1 46.4h1.0M196.5 38.7h1.0M199.2 61.7h1.0M189.6 56.9h1.0M193.3 54.2h1.0M191.5 49.3h1.0M205.1 38.1h1.0M193.5 63.9h1.0M196.0 64.3h1.0M189.4 45.3h1.0M192.7 48.9h1.0M189.2 50.0h1.0M196.5 50.0h1.0M191.4 67.5h1.0M203.7 54.4h1.0M193.0 48.1h1.0M201.2 56.5h1.0M196.4 47.2h1.0M199.9 39.7h1.0M193.0 44.8h1.0M197.3 40.0h1.0M196.6 43.4h1.0M192.9 56.5h1.0M199.1 55.3h1.0M189.0 66.6h1.0M195.4 62.0h1.0M195.7 53.8h1.0M197.1 52.7h1.0M191.4 52.6h1.0M200.0 49.3h1.0M193.2 42.2h1.0M193.7 56.4h1.0M191.2 71.2h1.0M194.5 61.1h1.0M199.4 38.1h1.0M211.5 29.6h1.0M184.1 59.9h1.0M201.1 51.2h1.0M202.6 24.0h1.0M205.3 24.8h1.0M198.6 42.1h1.0M199.9 36.6h1.0M205.2 51.4h1.0M196.9 60.7h1.0M198.9 34.0h1.0M197.2 48.0h1.0M198.3 64.7h1.0M205.0 55.0h1.0M193.4 44.1h1.0M203.5 33.4h1.0M185.7 63.1h1.0M199.8 41.1h1.0M194.6 59.3h1.0M201.8 70.0h1.0M201.5 39.8h1.0M199.5 70.2h1.0M199.6 52.0h1.0M199.2 40.5h1.0M185.9 81.4h1.0M198.5 49.3h1.0M190.1 62.3h1.0M203.1 29.9h1.0M193.9 52.1h1.0M197.5 42.5h1.0M195.6 35.4h1.0M198.4 33.1h1.0M197.7 53.1h1.0M200.0 38.8h1.0M190.8 56.7h1.0M203.9 53.7h1.0M192.7 37.6h1.0M197.1 32.9h1.0M184.3 52.2h1.0M199.0 37.9h1.0M201.1 53.9h1.0M203.2 37.7h1.0M198.5 63.2h1.0M199.3 47.2h1.0M194.9 31.4h1.0M195.2 45.8h1.0M196.4 41.4h1.0M197.1 56.7h1.0M191.7 52.7h1.0M195.5 44.2h1.0M198.9 56.8h1.0M197.1 58.6h1.0M197.5 29.1h1.0M193.9 36.7h1.0M197.1 68.6h1.0M197.0 61.7h1.0M204.3 39.7h1.0M197.2 45.4h1.0M200.9 58.7h1.0M192.3 24.2h1.0M205.4 45.0h1.0M191.8 28.6h1.0M196.8 43.6h1.0M194.5 60.2h1.0M192.0 84.3h1.0M195.0 54.9h1.0M193.2 66.9h1.0M197.8 39.3h1.0M197.9 49.4h1.0M201.5 56.3h1.0M204.0 22.3h1.0M205.3 40.8h1.0M198.3 59.3h1.0M192.9 51.8h1.0M208.1 37.9h1.0M199.0 55.3h1.0M185.7 39.8h1.0M200.1 52.9h1.0M197.1 32.2h1.0M193.9 42.2h1.0M193.8 52.9h1.0M196.3 62.3h1.0M191.7 71.3h1.0M198.9 32.0h1.0M195.1 63.8h1.0M195.4 58.1h1.0M197.8 66.4h1.0M198.4 47.6h1.0M204.6 42.4h1.0M197.4 76.2h1.0M192.3 51.3h1.0M196.4 58.1h1.0M203.9 61.9h1.0M205.2 41.6h1.0M194.7 24.6h1.0M200.8 35.7h1.0M196.2 25.6h1.0M195.5 52.6h1.0M189.3 58.6h1.0M188.3 68.0h1.0M194.5 66.1h1.0M197.4 59.8h1.0M199.7 40.0h1.0M193.9 32.2h1.0M196.9 31.2h1.0M196.7 60.8h1.0M196.2 48.5h1.0M183.3 61.0h1.0M191.4 58.7h1.0M198.4 31.6h1.0M199.0 57.9h1.0M193.6 32.0h1.0M201.2 54.4h1.0M181.1 83.1h1.0M203.7 32.0h1.0M193.2 53.6h1.0M195.5 70.4h1.0M193.7 28.7h1.0M192.0 36.7h1.0M196.0 37.1h1.0M196.9 49.9h1.0M191.1 56.0h1.0M200.7 44.1h1.0M194.6 51.7h1.0M198.1 33.0h1.0M194.2 35.6h1.0M195.0 26.6h1.0M196.2 54.8h1.0M189.3 67.2h1.0M200.1 44.0h1.0M191.1 43.7h1.0M198.2 54.0h1.0M191.0 55.0h1.0M195.3 54.5h1.0M192.9 57.4h1.0M203.5 28.4h1.0M203.5 66.5h1.0M194.7 48.7h1.0M198.8 47.3h1.0M197.8 48.9h1.0M199.1 66.1h1.0M202.1 40.3h1.0M204.6 57.3h1.0M197.5 43.4h1.0M189.2 35.3h1.0M199.8 50.7h1.0M194.4 58.7h1.0M195.1 65.4h1.0M202.3 51.6h1.0M204.1 46.0h1.0M197.0 54.0h1.0M202.8 46.8h1.0M199.3 42.2h1.0M200.2 56.1h1.0M196.0 53.8h1.0M203.0 51.7h1.0M193.1 66.7h1.0M197.3 48.0h1.0M201.4 45.6h1.0M192.7 45.4h1.0M199.5 34.3h1.0M199.0 49.3h1.0M202.2 24.4h1.0M204.7 52.5h1.0M187.0 52.9h1.0M202.1 37.2h1.0M199.7 30.3h1.0M202.7 43.6h1.0M198.5 76.2h1.0M193.9 49.4h1.0M194.3 50.9h1.0M192.2 51.9h1.0M203.6 32.6h1.0M194.2 46.6h1.0M198.2 52.5h1.0M196.3 41.4h1.0M186.7 60.6h1.0M195.8 41.7h1.0M196.2 45.9h1.0M202.9 60.3h1.0M196.3 40.9h1.0M191.9 43.7h1.0M194.6 43.9h1.0M200.7 48.8h1.0M199.4 52.7h1.0M200.3 34.3h1.0M199.5 57.0h1.0M193.4 45.4h1.0M199.8 72.3h1.0M197.3 69.8h1.0M188.0 35.9h1.0M194.7 39.5h1.0M203.7 37.9h1.0M194.4 49.9h1.0M195.2 49.9h1.0M197.8 37.6h1.0M198.0 44.0h1.0M197.1 45.5h1.0M199.4 53.5h1.0M194.5 32.7h1.0M190.4 46.1h1.0M197.6 38.4h1.0M196.1 60.2h1.0M201.0 60.0h1.0M207.1 43.9h1.0M199.4 51.3h1.0M201.9 39.7h1.0M205.1 50.8h1.0M200.1 65.0h1.0M200.0 58.2h1.0M192.4 61.2h1.0M195.6 47.9h1.0M195.2 25.0h1.0M196.1 42.5h1.0M202.5 43.8h1.0M200.0 57.0h1.0M198.6 29.5h1.0M188.6 27.4h1.0M200.7 38.3h1.0M200.1 44.7h1.0M193.1 29.2h1.0M198.4 37.2h1.0M195.7 53.5h1.0M199.5 61.6h1.0M188.0 44.0h1.0M191.0 53.9h1.0M201.8 73.8h1.0M193.1 36.8h1.0M192.6 63.6h1.0M194.7 54.7h1.0M199.3 31.5h1.0M203.2 50.1h1.0M196.3 57.2h1.0M201.9 42.3h1.0M199.3 48.4h1.0M193.3 70.5h1.0M204.5 52.9h1.0M202.8 37.7h1.0M194.9 60.3h1.0M195.9 57.9h1.0M191.1 71.7h1.0M189.9 37.0h1.0M197.0 43.3h1.0M201.8 57.6h1.0M182.7 66.1h1.0M196.2 18.3h1.0M206.8 51.6h1.0M205.7 36.6h1.0M194.5 27.4h1.0M194.7 43.8h1.0M204.8 35.8h1.0M192.8 47.9h1.0M197.6 45.9h1.0M193.2 58.5h1.0M199.4 56.4h1.0M198.7 48.2h1.0M205.9 53.4h1.0M192.5 57.9h1.0M190.2 47.3h1.0M194.8 70.5h1.0M199.4 43.3h1.0M197.1 34.9h1.0M209.2 53.3h1.0M195.1 52.3h1.0M196.1 57.9h1.0M202.4 42.5h1.0M204.7 67.4h1.0M198.2 55.2h1.0M200.6 54.4h1.0M191.6 52.9h1.0M193.6 40.1h1.0M198.9 53.7h1.0M202.2 35.7h1.0M200.5 47.0h1.0M200.1 51.3h1.0M201.4 52.3h1.0M198.0 42.3h1.0M195.4 62.7h1.0M197.0 42.3h1.0M191.6 51.6h1.0M194.6 49.2h1.0M193.2 65.3h1.0M200.9 47.4h1.0M209.7 46.6h1.0M200.7 63.3h1.0M207.7 46.2h1.0M193.2 64.4h1.0M196.4 47.0h1.0M198.3 34.9h1.0M203.5 54.6h1.0M207.6 52.3h1.0M202.9 47.8h1.0M200.5 50.0h1.0M201.0 23.9h1.0M195.0 63.4h1.0M200.6 54.0h1.0M200.2 57.2h1.0M199.2 41.4h1.0M194.1 56.4h1.0M197.7 73.4h1.0M199.2 29.2h1.0M193.7 66.9h1.0M205.2 30.4h1.0M198.2 47.9h1.0M201.9 40.2h1.0M194.4 29.2h1.0M195.8 61.2h1.0M195.3 45.4h1.0M194.0 40.8h1.0M200.0 33.1h1.0M197.4 50.0h1.0M192.6 53.0h1.0M195.2 53.4h1.0M199.5 36.8h1.0M198.9 40.1h1.0M207.3 47.8h1.0M188.2 40.6h1.0M202.4 53.1h1.0M201.9 50.7h1.0M201.4 38.0h1.0M196.5 27.2h1.0M195.0 51.9h1.0M190.3 34.7h1.0M200.8 48.0h1.0M196.2 43.2h1.0M196.9 32.2h1.0M205.6 59.3h1.0M194.6 40.0h1.0M197.8 57.3h1.0M200.8 61.4h1.0M198.2 46.8h1.0M200.2 55.2h1.0M199.9 47.2h1.0M200.7 35.3h1.0M193.4 42.7h1.0M192.5 55.3h1.0M202.8 65.7h1.0M201.6 40.9h1.0M199.2 26.3h1.0M196.8 27.7h1.0M204.9 56.4h1.0M196.6 56.0h1.0M194.4 45.9h1.0M204.0 40.7h1.0M193.8 50.2h1.0M196.2 60.9h1.0M199.1 50.5h1.0M193.1 53.6h1.0M200.6 37.4h1.0M200.4 42.1h1.0M200.9 52.7h1.0M198.4 39.5h1.0M205.3 60.3h1.0M198.5 49.3h1.0M195.4 69.3h1.0M201.3 32.8h1.0M197.7 29.5h1.0M187.8 43.2h1.0M204.1 51.3h1.0M190.2 55.3h1.0M189.5 52.0h1.0M199.9 55.2h1.0M195.1 57.0h1.0M204.5 35.7h1.0M202.7 59.7h1.0M203.2 57.8h1.0M197.4 51.9h1.0M200.4 44.4h1.0M193.1 45.5h1.0M202.1 47.2h1.0M197.9 53.8h1.0M198.6 38.4h1.0M199.2 49.3h1.0M199.1 44.5h1.0M200.0 55.8h1.0M202.1 51.7h1.0M197.7 56.7h1.0M196.6 44.7h1.0M192.7 43.2h1.0M205.1 63.4h1.0M201.1 31.0h1.0M196.0 61.5h1.0M190.3 61.0h1.0M201.8 31.5h1.0M191.8 57.2h1.0M199.5 46.1h1.0M195.6 61.6h1.0M203.6 41.8h1.0M197.3 28.2h1.0M193.4 40.2h1.0M187.9 57.2h1.0M195.4 49.3h1.0M206.1 37.4h1.0M199.7 39.6h1.0M196.1 46.8h1.0M203.3 46.6h1.0M195.2 44.8h1.0M202.3 49.7h1.0M191.9 48.1h1.0M192.1 52.7h1.0M201.2 57.0h1.0M190.7 63.1h1.0M203.6 34.1h1.0M197.6 49.6h1.0M206.7 42.2h1.0M195.6 41.2h1.0M196.1 55.7h1.0M205.8 35.1h1.0M195.1 43.7h1.0M198.9 44.8h1.0M192.8 61.4h1.0M202.4 44.5h1.0M197.9 47.4h1.0M193.4 41.2h1.0M198.4 41.6h1.0M193.8 40.3h1.0M201.2 47.9h1.0M193.9 26.1h1.0M209.3 39.5h1.0M208.2 49.2h1.0M189.5 47.1h1.0M199.9 48.7h1.0M194.3 43.3h1.0M195.1 36.3h1.0M191.5 59.2h1.0M204.6 50.4h1.0M189.8 38.3h1.0M204.8 59.4h1.0M189.8 55.4h1.0M200.5 70.8h1.0M197.0 49.8h1.0M195.2 50.2h1.0M193.2 54.0h1.0M195.5 59.8h1.0M199.2 49.2h1.0M205.6 39.5h1.0M189.7 44.6h1.0M197.9 71.4h1.0M197.1 47.0h1.0M192.7 76.4h1.0M198.5 26.1h1.0M197.9 45.5h1.0M193.6 51.2h1.0M196.4 32.7h1.0M199.3 46.2h1.0M195.7 48.8h1.0M199.3 54.1h1.0M193.8 47.2h1.0M198.0 65.2h1.0M200.4 40.9h1.0M200.6 36.1h1.0M198.7 56.4h1.0M197.4 58.6h1.0M196.8 51.3h1.0M195.4 40.0h1.0M196.3 27.2h1.0M198.2 52.6h1.0M191.0 52.0h1.0M204.2 66.5h1.0M192.8 28.9h1.0M197.4 46.9h1.0M201.7 79.8h1.0M205.4 55.5h1.0M201.8 36.0h1.0M197.6 62.9h1.0M192.6 34.7h1.0M199.8 50.1h1.0M196.3 56.7h1.0M192.5 36.6h1.0M197.9 28.8h1.0M203.6 36.8h1.0M200.2 62.3h1.0M200.0 52.6h1.0M202.2 50.5h1.0M201.8 32.8h1.0M199.3 60.0h1.0M197.3 48.5h1.0M199.5 40.4h1.0M196.9 41.4h1.0M197.0 24.4h1.0M194.7 46.7h1.0M206.2 41.4h1.0M201.4 42.5h1.0M201.5 58.2h1.0M197.4 65.5h1.0M200.5 30.9h1.0M195.0 53.6h1.0M196.3 38.3h1.0M202.6 45.1h1.0M206.9 45.0h1.0M189.9 44.4h1.0M194.5 51.0h1.0M194.3 49.0h1.0M192.1 52.4h1.0M196.3 26.0h1.0M196.7 26.0h1.0M193.2 37.8h1.0M198.7 51.9h1.0M189.7 52.1h1.0M203.3 54.6h1.0M202.4 23.7h1.0M196.0 43.4h1.0M192.0 61.0h1.0M193.2 47.3h1.0M197.4 54.0h1.0M204.6 54.0h1.0M203.1 44.9h1.0M202.7 33.9h1.0M192.4 53.8h1.0M197.9 38.7h1.0M200.5 55.1h1.0M199.1 54.8h1.0M199.9 39.1h1.0M196.5 56.5h1.0M195.9 52.7h1.0M197.8 45.7h1.0M199.1 42.7h1.0M198.2 39.8h1.0M202.4 58.3h1.0M194.6 52.4h1.0M207.9 40.1h1.0M200.1 53.9h1.0M198.2 34.1h1.0M202.9 36.5h1.0M200.9 40.3h1.0M190.3 52.7h1.0M197.8 28.1h1.0M205.2 21.4h1.0M200.5 23.9h1.0M204.1 59.2h1.0M194.6 62.0h1.0M198.2 46.6h1.0M196.0 48.3h1.0M197.7 55.6h1.0M196.6 21.3h1.0M195.7 34.8h1.0M203.7 39.0h1.0M193.0 48.7h1.0M197.8 28.0h1.0M201.1 69.1h1.0M208.0 34.8h1.0M206.1 36.4h1.0M202.8 31.5h1.0M196.8 51.0h1.0M198.4 45.8h1.0M201.2 63.1h1.0M198.8 34.9h1.0M190.0 52.5h1.0M197.5 63.1h1.0M195.8 62.0h1.0M185.5 49.8h1.0M198.0 36.0h1.0M195.9 40.9h1.0M199.9 42.4h1.0M199.3 32.3h1.0M203.3 56.7h1.0M201.7 77.7h1.0M196.2 41.7h1.0M192.0 44.0h1.0M198.1 43.0h1.0M204.3 51.6h1.0M197.4 55.2h1.0M197.8 58.8h1.0M200.0 49.4h1.0M197.0 50.3h1.0M196.5 55.8h1.0M195.9 68.9h1.0M196.9 57.4h1.0M191.5 61.6h1.0M206.6 29.3h1.0M193.0 51.1h1.0M202.6 44.1h1.0M194.1 47.5h1.0M201.9 56.4h1.0M198.0 57.3h1.0M200.9 36.7h1.0M206.2 55.0h1.0M200.5 42.4h1.0M193.8 58.9h1.0M194.8 49.0h1.0M189.4 62.8h1.0M191.2 54.3h1.0M193.6 46.0h1.0M201.2 49.7h1.0M196.4 37.7h1.0M201.6 28.7h1.0M194.2 47.0h1.0M192.6 54.5h1.0M195.5 46.9h1.0M193.4 58.9h1.0M197.5 45.3h1.0M206.2 64.9h1.0M197.8 55.2h1.0M201.7 50.5h1.0M198.0 54.3h1.0M193.4 38.2h1.0M192.6 42.4h1.0M200.5 63.7h1.0M197.4 34.7h1.0M199.8 49.1h1.0M193.5 59.5h1.0M191.3 44.6h1.0M198.8 57.8h1.0M197.0 53.0h1.0M190.4 56.6h1.0M198.5 70.3h1.0M203.9 45.4h1.0M196.3 60.3h1.0M197.0 71.0h1.0M194.2 67.4h1.0M194.6 68.9h1.0M199.6 46.0h1.0M202.5 53.6h1.0M197.3 38.6h1.0M195.1 59.0h1.0M194.2 37.8h1.0M198.3 47.3h1.0M199.1 65.2h1.0M196.2 50.5h1.0M192.3 37.0h1.0M202.9 33.6h1.0M201.4 35.5h1.0M194.1 51.3h1.0M204.2 47.4h1.0M197.6 45.6h1.0M197.7 52.7h1.0M193.8 52.1h1.0M202.4 31.4h1.0M201.3 59.9h1.0M192.4 42.4h1.0M196.0 69.9h1.0M187.6 55.7h1.0M191.6 39.8h1.0M194.0 51.5h1.0M200.1 62.6h1.0M198.3 43.8h1.0M198.8 56.4h1.0M195.5 43.8h1.0M199.9 48.9h1.0M191.7 48.8h1.0M200.8 42.0h1.0M192.4 49.5h1.0M198.3 61.0h1.0M204.3 45.8h1.0M201.8 47.1h1.0M203.1 29.3h1.0M200.3 55.2h1.0M187.1 39.9h1.0M195.6 27.6h1.0M202.4 28.0h1.0M197.6 36.9h1.0M195.3 30.6h1.0M198.9 65.1h1.0M201.9 63.7h1.0M194.6 47.3h1.0M199.8 57.6h1.0M198.7 51.6h1.0M201.2 39.9h1.0M204.8 57.9h1.0M197.0 51.8h1.0M203.2 39.4h1.0M205.3 58.0h1.0M191.2 53.8h1.0M198.0 46.2h1.0M194.1 72.9h1.0M200.7 48.6h1.0M195.2 43.1h1.0M197.7 30.9h1.0M202.2 34.9h1.0M197.9 40.8h1.0M192.6 49.3h1.0M193.8 65.3h1.0M193.8 53.8h1.0M192.8 41.5h1.0M202.2 39.8h1.0M204.8 46.1h1.0M193.0 53.1h1.0M207.4 52.5h1.0M198.7 71.5h1.0M189.9 50.4h1.0M190.5 35.9h1.0M192.6 41.8h1.0M202.4 53.8h1.0M190.8 46.9h1.0M193.2 37.7h1.0M202.4 65.6h1.0M196.3 31.9h1.0M198.9 44.6h1.0M189.2 49.2h1.0M197.2 57.5h1.0M192.5 54.5h1.0M193.6 50.3h1.0M190.3 60.5h1.0M198.2 60.5h1.0M184.8 20.8h1.0M198.3 41.2h1.0M202.1 59.1h1.0M202.0 39.0h1.0M190.1 35.0h1.0M201.0 49.2h1.0M200.0 48.3h1.0M201.2 56.0h1.0M194.0 60.3h1.0M203.9 41.9h1.0M200.3 39.5h1.0M192.6 41.6h1.0M192.8 66.7h1.0M196.7 37.6h1.0M200.6 50.7h1.0M200.3 54.9h1.0M201.4 38.6h1.0M193.5 51.4h1.0M196.0 57.3h1.0M192.6 45.9h1.0M197.1 47.0h1.0M192.1 51.5h1.0M196.6 44.4h1.0M201.6 55.3h1.0M193.8 62.3h1.0M202.0 48.0h1.0M202.9 60.1h1.0M193.5 45.4h1.0M205.8 56.6h1.0M203.0 40.8h1.0M195.3 31.4h1.0M198.1 28.3h1.0M194.1 53.3h1.0M199.9 38.5h1.0M199.5 51.7h1.0M194.6 60.0h1.0M197.6 42.8h1.0M196.3 30.4h1.0M189.0 62.4h1.0M189.3 70.8h1.0M200.9 41.8h1.0M189.3 43.9h1.0M196.1 43.0h1.0M202.8 54.6h1.0M201.0 50.9h1.0M203.9 44.8h1.0M189.4 76.4h1.0M200.2 55.1h1.0M199.5 63.6h1.0M196.6 57.8h1.0M197.9 67.6h1.0M197.7 47.2h1.0M205.3 47.0h1.0M194.2 56.9h1.0M191.8 46.8h1.0M202.8 36.0h1.0M190.8 56.0h1.0M193.3 52.7h1.0M198.1 64.2h1.0M195.3 48.4h1.0M193.1 45.6h1.0M200.9 62.3h1.0M188.2 60.5h1.0M198.3 59.3h1.0M193.0 69.6h1.0M196.6 33.0h1.0M200.9 43.6h1.0M200.1 42.5h1.0M198.4 44.2h1.0M206.9 46.6h1.0M194.4 52.9h1.0M205.4 48.4h1.0M198.2 53.2h1.0M198.0 46.7h1.0M197.5 71.3h1.0M201.2 73.1h1.0M190.6 35.0h1.0M207.1 51.6h1.0M207.7 51.8h1.0M192.4 39.7h1.0M191.2 58.5h1.0M195.2 49.5h1.0M195.5 45.3h1.0M197.0 57.5h1.0M198.2 34.1h1.0M197.2 45.3h1.0M208.4 28.4h1.0M193.8 59.2h1.0M193.3 47.2h1.0M202.1 57.1h1.0M203.5 58.8h1.0M194.6 51.1h1.0M200.1 37.8h1.0M197.6 39.7h1.0M190.6 42.3h1.0M194.9 60.2h1.0M199.1 59.5h1.0M191.5 46.5h1.0M192.1 56.0h1.0M197.2 44.3h1.0M209.1 33.8h1.0M204.1 49.8h1.0M198.8 35.2h1.0M198.4 53.9h1.0M204.2 37.2h1.0M195.6 50.0h1.0M201.0 31.7h1.0M193.7 56.9h1.0M199.0 53.1h1.0M202.2 53.8h1.0M192.5 57.3h1.0M200.6 61.7h1.0M201.5 54.8h1.0M195.7 55.0h1.0M189.4 42.9h1.0M198.0 38.1h1.0M210.1 55.4h1.0M196.5 44.4h1.0M192.8 55.6h1.0M195.2 44.1h1.0M193.6 38.5h1.0M199.0 53.3h1.0M203.3 57.9h1.0M199.7 39.2h1.0M197.9 38.7h1.0M198.1 64.6h1.0M191.5 64.5h1.0M192.0 48.6h1.0M206.7 55.2h1.0M196.2 52.3h1.0M198.2 28.5h1.0M197.4 37.1h1.0M192.5 60.5h1.0M200.9 50.1h1.0M185.5 47.3h1.0M198.5 58.5h1.0M194.6 51.4h1.0M198.7 53.2h1.0M202.9 28.4h1.0M198.8 40.6h1.0M191.9 45.0h1.0M200.2 49.3h1.0M197.7 54.3h1.0M205.7 49.9h1.0M194.6 34.0h1.0M206.1 56.0h1.0M195.0 42.0h1.0M193.2 52.2h1.0M185.8 33.2h1.0M194.7 62.5h1.0M201.3 40.2h1.0M197.3 19.9h1.0M197.6 28.1h1.0M201.8 48.5h1.0M201.9 52.4h1.0M192.8 74.3h1.0M201.7 49.8h1.0M202.2 49.0h1.0M209.9 47.5h1.0M194.0 48.3h1.0M189.8 42.2h1.0M198.1 51.7h1.0M193.1 39.1h1.0M192.8 48.8h1.0M197.3 55.7h1.0M199.1 41.3h1.0M197.0 43.1h1.0M199.8 47.2h1.0M199.4 54.7h1.0M196.5 38.9h1.0M201.5 72.1h1.0M204.1 63.9h1.0M197.5 60.0h1.0M203.5 53.9h1.0M200.2 38.3h1.0M197.6 33.7h1.0M196.5 48.4h1.0M207.2 50.7h1.0M194.4 32.4h1.0M192.8 40.0h1.0M201.6 72.9h1.0M197.6 53.1h1.0M191.0 39.5h1.0M192.6 38.5h1.0M196.7 39.0h1.0M191.4 51.7h1.0M196.4 49.1h1.0M195.4 58.0h1.0M199.6 30.2h1.0M190.4 61.8h1.0M195.6 65.7h1.0M198.5 50.1h1.0M191.4 33.9h1.0M190.5 50.2h1.0M202.7 54.8h1.0M195.8 48.8h1.0M191.2 50.7h1.0M202.6 39.7h1.0M196.3 46.4h1.0M190.5 32.3h1.0M194.1 64.9h1.0M202.0 46.9h1.0M199.0 45.7h1.0M194.5 44.0h1.0M179.6 63.8h1.0M199.2 48.2h1.0M206.9 46.7h1.0M207.9 28.7h1.0M194.4 60.5h1.0M217.9 25.5h1.0M197.1 33.0h1.0M197.7 57.2h1.0M207.2 51.6h1.0M196.8 66.3h1.0M200.9 52.4h1.0M209.4 51.9h1.0M209.1 51.3h1.0M194.5 35.7h1.0M195.1 38.6h1.0M194.3 38.7h1.0M198.9 48.9h1.0M199.6 31.1h1.0M195.7 39.2h1.0M205.6 50.4h1.0M199.4 44.8h1.0M199.1 41.5h1.0M182.3 42.7h1.0M187.2 26.2h1.0M193.1 24.2h1.0M202.1 33.1h1.0M191.6 61.2h1.0M212.3 58.5h1.0M200.3 50.3h1.0M201.2 55.9h1.0M200.0 58.6h1.0M206.9 37.1h1.0M194.3 59.4h1.0M212.3 74.2h1.0M192.4 48.9h1.0M203.4 73.6h1.0M197.2 64.6h1.0M197.6 48.2h1.0M204.7 29.2h1.0M200.7 29.8h1.0M212.7 45.1h1.0M194.7 49.1h1.0M203.4 44.9h1.0M204.0 55.7h1.0M217.0 55.1h1.0M212.7 46.7h1.0M205.0 53.0h1.0M213.2 50.7h1.0M192.4 25.5h1.0M201.8 51.0h1.0M209.4 58.2h1.0M194.6 47.5h1.0M212.0 41.3h1.0M202.0 49.4h1.0M193.7 53.3h1.0M202.9 48.8h1.0M193.1 51.1h1.0M190.1 57.8h1.0M203.2 47.9h1.0M190.3 81.3h1.0M185.7 23.3h1.0M194.9 99.9h1.0M192.8 30.0h1.0M207.9 36.9h1.0M200.5 59.2h1.0M192.6 34.6h1.0M222.8 39.2h1.0M203.2 57.9h1.0M215.3 77.1h1.0M207.9 58.2h1.0M210.6 51.0h1.0M191.6 38.9h1.0M194.1 58.1h1.0M204.5 90.7h1.0M198.3 27.9h1.0M199.7 28.8h1.0M208.3 40.1h1.0M179.4 57.5h1.0M196.2 55.9h1.0M212.1 42.4h1.0M195.0 38.5h1.0M199.4 67.7h1.0M202.3 53.3h1.0M201.7 67.3h1.0M201.7 42.3h1.0M191.1 64.3h1.0M201.8 32.6h1.0M193.9 79.0h1.0M212.4 39.6h1.0M193.7 40.3h1.0M201.2 53.0h1.0M197.3 43.0h1.0M208.6 36.3h1.0M200.0 53.3h1.0M205.0 35.7h1.0M194.2 76.8h1.0M195.8 34.9h1.0M191.0 59.3h1.0M197.5 34.0h1.0M196.6 18.2h1.0M188.3 46.7h1.0M200.4 23.4h1.0M197.5 48.3h1.0M193.0 33.1h1.0M191.2 44.6h1.0M189.6 45.6h1.0M199.8 74.5h1.0M194.5 43.0h1.0M193.6 23.7h1.0M195.0 60.4h1.0M196.4 47.6h1.0M199.7 68.8h1.0M184.0 20.3h1.0M196.8 43.1h1.0M188.8 32.7h1.0M195.8 53.9h1.0M209.6 40.8h1.0M182.7 68.5h1.0M188.0 39.2h1.0M194.6 42.5h1.0M179.5 35.7h1.0M219.3 53.5h1.0M193.6 63.5h1.0M212.7 54.7h1.0M198.3 36.1h1.0M209.1 29.1h1.0M205.9 31.4h1.0M196.4 48.9h1.0M203.2 38.0h1.0M193.4 43.4h1.0M194.9 64.0h1.0M211.6 53.6h1.0M191.6 49.6h1.0M191.2 38.0h1.0M220.7 42.9h1.0M195.7 41.3h1.0M201.6 46.7h1.0M212.9 42.7h1.0M194.9 48.7h1.0M194.2 35.8h1.0M214.5 66.8h1.0M198.8 52.2h1.0M201.3 50.9h1.0M196.2 60.4h1.0M203.5 28.9h1.0M185.5 27.0h1.0M200.4 22.2h1.0M207.5 33.9h1.0M207.1 55.0h1.0M194.6 48.9h1.0M204.4 71.2h1.0M217.2 23.5h1.0M200.0 53.1h1.0M204.7 25.6h1.0M196.0 25.6h1.0M184.3 25.7h1.0M205.3 65.2h1.0M190.9 47.2h1.0M193.1 66.2h1.0" stroke="#111" stroke-width="1.05" fill="none"/>
</g>
<rect x="104.5" y="16.5" width="133.0" height="93.0" fill="none" stroke="#222" stroke-width="1"/>
<g clip-path="url(#cb)">
<rect x="96" y="428" width="142" height="102" fill="url(#hg)" mask="url(#mb)"/>
<path d="M190.4 452.3h1.0M194.7 487.2h1.0M196.9 447.6h1.0M186.7 476.0h1.0M198.0 451.2h1.0M194.7 449.4h1.0M198.1 438.9h1.0M194.8 458.9h1.0M200.6 498.4h1.0M186.9 462.7h1.0M204.5 468.0h1.0M200.8 454.2h1.0M189.1 468.6h1.0M197.3 470.6h1.0M195.9 468.1h1.0M181.7 483.4h1.0M196.9 459.6h1.0M189.2 467.2h1.0M191.4 486.4h1.0M189.1 470.7h1.0M190.2 447.3h1.0M193.5 481.8h1.0M193.6 471.0h1.0M182.9 446.4h1.0M191.3 446.9h1.0M184.3 453.4h1.0M184.7 474.2h1.0M190.7 465.8h1.0M198.6 476.9h1.0M197.1 502.2h1.0M189.1 489.7h1.0M188.4 462.1h1.0M187.6 448.9h1.0M193.9 483.9h1.0M199.1 448.2h1.0M193.1 447.0h1.0M197.5 458.3h1.0M195.1 465.0h1.0M202.8 455.9h1.0M180.0 464.7h1.0M191.7 454.0h1.0M197.1 460.8h1.0M190.3 472.3h1.0M195.8 466.2h1.0M185.4 456.4h1.0M184.8 502.7h1.0M188.3 477.0h1.0M198.5 470.8h1.0M197.5 465.6h1.0M188.4 468.1h1.0M194.2 446.4h1.0M188.8 442.9h1.0M193.1 464.2h1.0M192.7 470.4h1.0M188.2 453.7h1.0M192.7 472.3h1.0M188.8 462.3h1.0M187.7 446.2h1.0M193.7 448.3h1.0M190.8 453.3h1.0M193.1 482.5h1.0M190.3 483.7h1.0M197.0 457.1h1.0M187.7 462.6h1.0M198.0 446.7h1.0M201.7 484.3h1.0M191.3 464.4h1.0M204.3 449.3h1.0M206.2 438.0h1.0M195.9 469.1h1.0M184.2 492.1h1.0M182.5 461.8h1.0M191.9 445.1h1.0M204.5 445.5h1.0M196.7 450.6h1.0M191.4 475.5h1.0M188.2 450.5h1.0M191.7 465.9h1.0M196.3 463.6h1.0M193.2 484.2h1.0M196.4 477.0h1.0M190.1 453.1h1.0M195.6 463.5h1.0M182.3 450.2h1.0M186.2 461.4h1.0M197.3 454.9h1.0M195.0 456.1h1.0M194.8 438.2h1.0M199.1 461.2h1.0M189.4 480.4h1.0M182.7 459.3h1.0M191.6 459.1h1.0M191.9 464.0h1.0M185.8 489.4h1.0M183.2 465.9h1.0M200.1 477.7h1.0M199.1 465.6h1.0M194.4 492.0h1.0M194.7 468.5h1.0M190.3 471.7h1.0M190.4 484.2h1.0M189.5 438.9h1.0M204.0 468.6h1.0M180.8 472.4h1.0M196.9 484.5h1.0M197.4 479.6h1.0M185.1 466.2h1.0M195.0 465.6h1.0M193.7 474.6h1.0M190.0 466.1h1.0M189.8 467.8h1.0M204.1 458.1h1.0M208.3 453.7h1.0M203.3 468.6h1.0M191.1 446.5h1.0M194.9 475.9h1.0M195.5 472.7h1.0M187.7 440.8h1.0M191.3 460.4h1.0M196.5 469.2h1.0M190.3 441.6h1.0M184.8 455.7h1.0M194.7 464.2h1.0M190.8 460.3h1.0M191.1 478.4h1.0M201.8 465.1h1.0M193.6 487.4h1.0M188.3 450.3h1.0M192.6 488.1h1.0M207.0 455.1h1.0M185.7 468.5h1.0M202.4 446.8h1.0M192.0 480.2h1.0M190.8 461.1h1.0M202.2 460.2h1.0M194.6 439.5h1.0M189.5 473.5h1.0M204.8 443.0h1.0M194.1 484.9h1.0M195.2 470.5h1.0M193.3 450.4h1.0M191.0 446.1h1.0M193.8 451.1h1.0M190.6 466.4h1.0M196.3 464.3h1.0M200.1 465.9h1.0M200.7 441.7h1.0M202.7 491.3h1.0M189.1 476.0h1.0M199.3 439.6h1.0M182.3 466.5h1.0M188.4 480.1h1.0M194.9 468.0h1.0M182.1 440.0h1.0M202.6 433.7h1.0M186.4 485.2h1.0M183.3 446.2h1.0M188.1 473.3h1.0M188.0 480.4h1.0M192.0 493.7h1.0M199.7 457.8h1.0M191.9 456.6h1.0M194.1 443.2h1.0M186.6 464.0h1.0M196.2 468.2h1.0M188.0 478.0h1.0M180.3 477.7h1.0M201.5 477.6h1.0M186.1 458.1h1.0M185.9 458.4h1.0M187.3 462.2h1.0M197.2 463.3h1.0M183.1 481.7h1.0M190.4 475.7h1.0M196.7 457.2h1.0M205.3 444.3h1.0M193.4 456.3h1.0M187.4 460.3h1.0M192.1 453.9h1.0M192.6 464.3h1.0M194.0 463.7h1.0M187.0 435.9h1.0M192.9 448.6h1.0M184.8 435.1h1.0M202.7 474.5h1.0M192.0 464.7h1.0M191.9 504.3h1.0M200.6 449.8h1.0M185.1 485.9h1.0M202.1 460.6h1.0M202.9 461.5h1.0M188.0 478.0h1.0M192.4 439.6h1.0M198.7 485.9h1.0M193.3 477.1h1.0M187.1 491.9h1.0M197.1 469.6h1.0M191.6 451.9h1.0M194.2 474.6h1.0M199.3 452.6h1.0M200.9 458.9h1.0M197.1 457.9h1.0M183.8 445.3h1.0M197.5 496.1h1.0M191.0 472.3h1.0M200.0 462.3h1.0M191.7 466.7h1.0M202.3 450.3h1.0M196.3 453.7h1.0M193.0 462.1h1.0M194.9 465.6h1.0M196.7 482.4h1.0M185.9 443.5h1.0M195.6 436.2h1.0M195.1 461.8h1.0M192.2 476.8h1.0M198.1 471.7h1.0M198.2 475.8h1.0M193.6 473.6h1.0M192.6 454.3h1.0M190.1 464.1h1.0M189.1 443.5h1.0M197.0 452.5h1.0M189.5 467.3h1.0M183.8 438.4h1.0M194.6 454.8h1.0M200.2 451.4h1.0M191.2 475.1h1.0M198.6 469.0h1.0M196.1 452.5h1.0M186.4 473.5h1.0M195.1 493.0h1.0M192.3 478.6h1.0M197.4 461.6h1.0M174.9 462.2h1.0M198.4 443.5h1.0M197.8 450.8h1.0M187.0 464.7h1.0M200.0 466.4h1.0M192.0 435.7h1.0M194.2 438.7h1.0M198.6 439.0h1.0M201.8 440.3h1.0M194.1 449.0h1.0M197.5 457.1h1.0M195.9 439.7h1.0M188.3 447.9h1.0M198.1 455.7h1.0M194.0 463.7h1.0M200.0 450.2h1.0M189.5 500.2h1.0M199.6 445.3h1.0M193.5 466.6h1.0M199.3 446.5h1.0M199.3 461.6h1.0M205.3 457.9h1.0M194.4 461.8h1.0M192.0 460.1h1.0M188.4 446.4h1.0M189.1 443.8h1.0M197.5 455.9h1.0M195.9 447.9h1.0M187.6 448.8h1.0M189.2 465.9h1.0M190.3 462.8h1.0M203.3 451.2h1.0M187.2 477.3h1.0M195.6 457.8h1.0M182.7 454.7h1.0M191.8 472.9h1.0M202.3 463.1h1.0M200.7 466.8h1.0M193.6 453.5h1.0M186.1 463.8h1.0M193.1 470.0h1.0M191.7 443.5h1.0M198.5 452.7h1.0M195.0 472.1h1.0M194.3 493.1h1.0M189.7 492.3h1.0M196.2 473.3h1.0M188.1 487.3h1.0M189.1 449.9h1.0M189.2 455.2h1.0M196.9 472.8h1.0M207.9 472.8h1.0M205.7 479.1h1.0M186.7 444.7h1.0M189.4 457.3h1.0M196.6 439.6h1.0M197.2 453.2h1.0M198.2 477.3h1.0M203.5 437.2h1.0M191.9 448.5h1.0M200.3 459.3h1.0M194.9 469.3h1.0M174.9 488.4h1.0M186.8 461.5h1.0M189.9 477.2h1.0M196.7 450.4h1.0M201.8 479.0h1.0M187.0 449.6h1.0M193.1 469.7h1.0M199.3 441.4h1.0M186.0 440.7h1.0M201.5 442.2h1.0M199.5 447.3h1.0M192.3 454.1h1.0M192.7 460.7h1.0M193.4 468.8h1.0M184.4 439.6h1.0M183.3 443.6h1.0M197.2 488.6h1.0M176.2 471.7h1.0M183.1 437.6h1.0M189.3 505.3h1.0M193.1 472.7h1.0M202.0 437.5h1.0M216.0 465.7h1.0M198.8 461.7h1.0M199.8 473.9h1.0M192.5 444.6h1.0M199.4 446.4h1.0M197.1 444.7h1.0M194.7 481.2h1.0M189.1 470.1h1.0M190.4 467.4h1.0M198.4 473.5h1.0M193.0 458.7h1.0M195.8 448.1h1.0M195.8 464.5h1.0M195.0 474.7h1.0M193.3 456.6h1.0M197.0 455.4h1.0M198.6 443.1h1.0M202.1 483.0h1.0M196.5 472.4h1.0M189.6 463.0h1.0M188.8 462.8h1.0M197.3 466.0h1.0M183.3 461.1h1.0M189.8 476.4h1.0M200.0 463.0h1.0M191.1 472.8h1.0M189.0 461.0h1.0M201.2 450.1h1.0M176.0 479.4h1.0M192.7 479.8h1.0M190.2 486.2h1.0M190.0 452.7h1.0M199.1 449.2h1.0M200.6 461.0h1.0M197.2 445.9h1.0M195.3 480.4h1.0M191.6 440.2h1.0M193.2 476.3h1.0M182.7 439.0h1.0M189.8 458.0h1.0M197.1 481.6h1.0M192.4 452.0h1.0M198.6 466.6h1.0M183.1 471.9h1.0M189.6 437.1h1.0M186.7 498.4h1.0M200.0 437.0h1.0M191.5 454.9h1.0M191.3 463.4h1.0M185.3 467.0h1.0M190.0 477.1h1.0M186.7 480.3h1.0M189.5 437.2h1.0M207.3 457.1h1.0M191.5 464.7h1.0M187.4 448.6h1.0M201.7 465.9h1.0M187.6 440.8h1.0M195.6 468.4h1.0M203.9 472.3h1.0M194.7 454.5h1.0M189.5 452.2h1.0M176.6 450.4h1.0M169.7 450.0h1.0M192.6 449.7h1.0M193.3 503.6h1.0M200.8 472.1h1.0M191.4 452.6h1.0M201.4 442.6h1.0M204.3 462.7h1.0M188.9 496.3h1.0M199.1 481.1h1.0M200.9 462.5h1.0M188.2 466.8h1.0M196.8 457.9h1.0M192.9 442.8h1.0M200.7 449.8h1.0M200.3 478.9h1.0M191.6 481.7h1.0M202.0 499.8h1.0M196.4 461.2h1.0M186.4 479.3h1.0M190.0 463.3h1.0M186.2 455.3h1.0M184.7 447.6h1.0M201.0 486.5h1.0M198.6 461.5h1.0M204.0 454.7h1.0M200.1 486.9h1.0M199.7 458.9h1.0M196.9 451.0h1.0M180.6 485.9h1.0M196.8 479.7h1.0M188.1 454.6h1.0M177.7 474.3h1.0M203.4 458.3h1.0M193.2 502.2h1.0M182.7 473.1h1.0M195.2 481.0h1.0M196.0 469.0h1.0M194.5 479.4h1.0M202.8 472.6h1.0M186.0 462.9h1.0M199.1 453.6h1.0M186.9 455.5h1.0M196.3 459.2h1.0M197.4 474.5h1.0M190.1 472.6h1.0M209.6 485.3h1.0M181.5 458.6h1.0M183.6 464.8h1.0M187.4 449.4h1.0M200.6 450.2h1.0M189.4 461.2h1.0M201.9 463.4h1.0M190.3 452.9h1.0M198.4 467.7h1.0M198.4 453.0h1.0M194.0 460.6h1.0M197.8 450.1h1.0M195.5 464.1h1.0M206.9 450.6h1.0M208.7 456.8h1.0M191.0 446.9h1.0M196.4 437.7h1.0M200.7 482.4h1.0M196.9 447.5h1.0M206.0 478.5h1.0M210.4 454.6h1.0M180.4 459.7h1.0M189.7 461.5h1.0M201.9 445.3h1.0M188.6 473.4h1.0M191.7 463.7h1.0M204.0 447.7h1.0M187.1 449.2h1.0M194.7 478.5h1.0M202.9 468.7h1.0M200.1 459.7h1.0M192.4 478.8h1.0M191.5 466.9h1.0M181.6 447.5h1.0M182.1 436.3h1.0M187.5 476.5h1.0M198.6 480.2h1.0M199.2 448.6h1.0M198.2 480.6h1.0M194.3 474.9h1.0M188.0 479.7h1.0M201.2 434.5h1.0M190.8 454.6h1.0M181.4 458.7h1.0M196.1 452.7h1.0M193.8 449.7h1.0M209.0 464.7h1.0M191.5 459.8h1.0M195.5 443.4h1.0M185.7 450.0h1.0M197.6 455.1h1.0M194.9 459.1h1.0M187.9 455.2h1.0M194.7 433.6h1.0M184.8 461.2h1.0M196.9 468.2h1.0M190.1 486.4h1.0M195.4 451.1h1.0M187.2 475.3h1.0M188.1 450.4h1.0M192.0 481.3h1.0M198.5 457.7h1.0M193.9 461.8h1.0M177.6 456.5h1.0M197.4 462.7h1.0M192.3 463.2h1.0M197.2 436.6h1.0M200.5 471.4h1.0M198.4 442.9h1.0M188.3 457.1h1.0M190.7 476.2h1.0M196.3 456.5h1.0M199.6 449.1h1.0M188.0 488.9h1.0M188.9 484.1h1.0M186.6 484.5h1.0M195.7 478.2h1.0M188.3 468.9h1.0M208.2 464.1h1.0M198.5 435.9h1.0M200.8 444.7h1.0M197.0 446.0h1.0M189.2 478.9h1.0M176.4 501.5h1.0M202.6 474.1h1.0M195.1 457.1h1.0M180.7 483.9h1.0M211.6 459.4h1.0M197.9 456.5h1.0M203.5 459.3h1.0M191.4 479.5h1.0M181.5 481.8h1.0M187.9 465.6h1.0M198.2 442.8h1.0M179.3 475.0h1.0M189.6 446.9h1.0M200.6 444.7h1.0M200.1 450.5h1.0M193.6 441.8h1.0M176.3 447.8h1.0M191.3 489.8h1.0M201.5 443.3h1.0M198.8 458.8h1.0M190.5 434.3h1.0M195.5 446.0h1.0M196.8 453.8h1.0M190.5 461.9h1.0M188.2 461.8h1.0M188.5 458.7h1.0M187.6 447.9h1.0M192.6 485.3h1.0M192.8 472.2h1.0M196.9 450.7h1.0M196.9 455.9h1.0M192.2 452.3h1.0M179.1 459.6h1.0M196.7 449.1h1.0M187.2 472.6h1.0M204.4 476.1h1.0M191.1 457.8h1.0M207.7 466.2h1.0M197.3 450.2h1.0M204.0 481.6h1.0M194.4 453.3h1.0M196.5 468.6h1.0M190.4 466.4h1.0M190.0 444.1h1.0M198.0 447.0h1.0M185.8 442.0h1.0M199.8 448.9h1.0M191.4 458.5h1.0M197.2 458.5h1.0M186.7 450.7h1.0M193.5 489.5h1.0M182.0 439.0h1.0M188.9 476.1h1.0M191.8 472.5h1.0M186.5 445.9h1.0M191.5 494.1h1.0M193.8 482.5h1.0M193.9 465.7h1.0M179.7 468.1h1.0M191.0 461.3h1.0M191.6 470.8h1.0M187.5 451.5h1.0M186.8 479.9h1.0M205.5 477.4h1.0M198.5 453.8h1.0M199.5 434.7h1.0M200.8 479.7h1.0M186.9 463.4h1.0M191.3 445.0h1.0M181.5 485.1h1.0M194.2 463.8h1.0M180.6 434.2h1.0M188.3 476.3h1.0M197.8 440.2h1.0M186.6 447.4h1.0M187.2 456.4h1.0M195.9 500.2h1.0M189.7 464.9h1.0M193.9 463.5h1.0M193.8 456.5h1.0M186.0 465.1h1.0M189.4 445.8h1.0M179.3 455.2h1.0M194.5 479.9h1.0M193.5 455.1h1.0M199.7 463.8h1.0M199.7 456.3h1.0M196.4 500.9h1.0M190.1 513.4h1.0M159.0 510.3h1.0M186.1 507.5h1.0M227.1 508.1h1.0M179.1 519.1h1.0M117.6 500.0h1.0M135.2 516.9h1.0M173.7 512.1h1.0M213.1 496.8h1.0M172.3 512.2h1.0M142.7 513.2h1.0M178.7 505.7h1.0M151.1 520.8h1.0M167.3 488.6h1.0M133.4 513.6h1.0M111.7 502.6h1.0M211.3 501.1h1.0M147.2 478.4h1.0M136.0 468.4h1.0M138.2 504.9h1.0M145.9 500.5h1.0M208.7 495.1h1.0M181.7 500.1h1.0M137.8 505.6h1.0M193.6 518.6h1.0M197.7 512.2h1.0M138.1 473.3h1.0M150.3 494.4h1.0M184.4 513.0h1.0M129.0 518.8h1.0M176.0 495.1h1.0M177.0 505.9h1.0M118.5 516.3h1.0M111.3 521.0h1.0M199.2 504.5h1.0M146.2 507.2h1.0M162.4 485.0h1.0M145.7 489.6h1.0M128.7 522.2h1.0M212.9 497.2h1.0M133.0 520.2h1.0M103.4 485.4h1.0M155.2 501.6h1.0M215.1 506.0h1.0M178.2 497.8h1.0M111.4 472.8h1.0M173.4 506.6h1.0M190.7 500.0h1.0M158.8 482.5h1.0M166.6 497.0h1.0M160.1 495.1h1.0M133.5 507.4h1.0M105.2 489.8h1.0M112.1 500.5h1.0M177.5 510.8h1.0M179.1 500.8h1.0M162.0 519.1h1.0M177.0 501.8h1.0M161.7 522.5h1.0M166.8 486.5h1.0M146.1 498.8h1.0M150.6 504.4h1.0M137.3 491.5h1.0M175.4 500.7h1.0M144.5 501.3h1.0M124.3 514.7h1.0M131.2 505.8h1.0M214.9 520.9h1.0M133.3 511.2h1.0M200.4 496.7h1.0M139.1 488.5h1.0M200.6 505.1h1.0M137.0 489.7h1.0M173.8 510.6h1.0M184.5 498.1h1.0M183.3 479.6h1.0M121.1 511.7h1.0M145.3 489.9h1.0M124.3 509.6h1.0M153.9 504.4h1.0M146.3 508.3h1.0M149.3 476.8h1.0M183.9 494.1h1.0M117.7 499.5h1.0M136.2 515.2h1.0M149.9 509.0h1.0M127.5 522.2h1.0M180.0 502.8h1.0M116.3 503.0h1.0M230.5 493.3h1.0M161.9 507.2h1.0M207.0 471.8h1.0M116.8 478.2h1.0M147.6 517.8h1.0M165.6 517.0h1.0M231.2 506.2h1.0M165.1 498.0h1.0M132.8 516.7h1.0M221.4 487.9h1.0M134.1 507.3h1.0M169.3 477.2h1.0M152.5 499.3h1.0M171.0 509.6h1.0M158.2 512.7h1.0M180.6 495.2h1.0M226.2 508.0h1.0M153.0 502.8h1.0M172.3 511.6h1.0M145.6 486.5h1.0M150.2 511.2h1.0M221.6 517.4h1.0M128.9 504.5h1.0M184.4 508.0h1.0M180.4 493.3h1.0M163.0 492.2h1.0M164.2 489.7h1.0M216.0 505.2h1.0M133.8 514.6h1.0M157.0 507.9h1.0M115.3 492.5h1.0M167.3 484.7h1.0M210.5 505.8h1.0M125.5 490.3h1.0M185.4 520.8h1.0M191.1 515.2h1.0M138.6 469.0h1.0M216.6 493.6h1.0M180.0 520.5h1.0M192.0 495.2h1.0M194.1 473.5h1.0M207.7 486.6h1.0M146.0 517.5h1.0M135.8 489.4h1.0M218.3 512.1h1.0M158.0 485.9h1.0M115.0 515.0h1.0M178.5 497.8h1.0M145.2 505.9h1.0M176.9 502.8h1.0M146.4 515.0h1.0M115.2 514.7h1.0M164.0 510.7h1.0M126.1 515.8h1.0M173.8 492.6h1.0M176.1 509.5h1.0M190.7 479.6h1.0M164.5 479.1h1.0M109.2 502.8h1.0M158.8 472.7h1.0M167.2 511.1h1.0M173.6 498.7h1.0M212.6 502.3h1.0M123.0 490.3h1.0M158.1 505.6h1.0M140.4 511.5h1.0M130.5 483.3h1.0M189.3 489.7h1.0M138.9 508.5h1.0M223.3 487.2h1.0M153.7 495.1h1.0M113.8 509.1h1.0M169.9 510.0h1.0M167.8 485.3h1.0M212.8 495.6h1.0M132.1 491.4h1.0M162.8 511.8h1.0M176.2 503.4h1.0M149.0 492.6h1.0M216.8 476.6h1.0M174.5 468.6h1.0M109.5 492.9h1.0M173.6 503.2h1.0M152.4 509.5h1.0M150.8 511.1h1.0M196.0 518.4h1.0M188.4 498.6h1.0M174.0 492.3h1.0M137.8 497.1h1.0M166.3 506.1h1.0M212.8 499.3h1.0M143.5 521.3h1.0M137.2 473.7h1.0M203.8 504.4h1.0M142.6 494.9h1.0M204.6 507.5h1.0M144.9 495.1h1.0M169.4 505.3h1.0M173.9 491.4h1.0M140.2 517.4h1.0M121.2 496.7h1.0M199.6 518.6h1.0M145.2 484.9h1.0M181.6 510.8h1.0M187.3 512.0h1.0M103.1 506.8h1.0M210.2 499.6h1.0M166.1 488.1h1.0M148.6 495.8h1.0M145.8 487.8h1.0M141.5 515.5h1.0M170.8 508.2h1.0M156.9 515.7h1.0M116.5 487.6h1.0M150.8 494.6h1.0M164.5 491.4h1.0M131.0 486.0h1.0M130.4 496.3h1.0M123.3 508.4h1.0M158.4 507.9h1.0M165.7 506.8h1.0M118.9 506.3h1.0M128.2 498.4h1.0M144.2 502.8h1.0M213.9 493.0h1.0M176.1 478.9h1.0M189.1 495.9h1.0M125.0 490.7h1.0M171.0 494.4h1.0M168.2 507.6h1.0M189.8 485.1h1.0M150.9 513.5h1.0M150.9 499.5h1.0M115.0 472.8h1.0M128.7 496.5h1.0M138.0 511.2h1.0M141.2 520.5h1.0M145.9 505.9h1.0M129.5 504.1h1.0M170.5 500.0h1.0M188.6 521.4h1.0M218.1 490.1h1.0M192.5 498.3h1.0M151.2 502.5h1.0M139.9 492.7h1.0M207.4 479.8h1.0M178.4 462.3h1.0M129.9 500.2h1.0M168.6 501.7h1.0M130.8 494.1h1.0M190.9 511.3h1.0M150.4 522.4h1.0M157.2 508.3h1.0M163.4 494.6h1.0M149.3 501.0h1.0M172.1 505.1h1.0M159.0 519.1h1.0M135.0 484.9h1.0M153.4 486.7h1.0M215.4 468.0h1.0M183.9 491.8h1.0M131.7 514.2h1.0M200.2 518.1h1.0M169.2 499.8h1.0M137.7 485.2h1.0M180.6 487.4h1.0M112.8 490.3h1.0M202.2 488.1h1.0M185.7 501.4h1.0M109.7 498.3h1.0M121.2 511.7h1.0M184.8 488.4h1.0M202.0 495.2h1.0M158.9 517.1h1.0M152.6 490.4h1.0M225.9 488.9h1.0M169.9 477.7h1.0M145.2 471.4h1.0M186.2 507.0h1.0M110.7 482.7h1.0M168.6 489.5h1.0M170.2 514.1h1.0M209.7 505.7h1.0M182.8 484.0h1.0M184.2 490.9h1.0M188.6 496.7h1.0M108.0 505.8h1.0M193.4 504.5h1.0M118.2 504.1h1.0M224.5 497.7h1.0M230.3 507.5h1.0M149.3 495.5h1.0M226.4 499.6h1.0M175.6 513.4h1.0M181.9 512.9h1.0M154.3 498.8h1.0M189.1 493.6h1.0M223.2 480.4h1.0M192.0 481.0h1.0M145.8 483.8h1.0M193.1 510.6h1.0M150.5 497.3h1.0M121.0 500.8h1.0M134.5 507.1h1.0M105.1 482.7h1.0M131.4 516.2h1.0M174.9 473.3h1.0M217.9 503.6h1.0M172.1 491.7h1.0M145.9 490.3h1.0M148.9 507.9h1.0M160.8 492.4h1.0M217.0 520.5h1.0M172.0 520.9h1.0M166.5 511.8h1.0M137.1 511.7h1.0M169.2 477.2h1.0M159.5 514.3h1.0M212.3 508.7h1.0M131.4 471.4h1.0M206.8 518.7h1.0M199.6 499.7h1.0M191.7 501.8h1.0M129.5 488.6h1.0M208.0 460.7h1.0M179.8 495.8h1.0M193.8 508.4h1.0M166.1 494.2h1.0M215.5 514.4h1.0M110.9 519.7h1.0M180.9 498.9h1.0M196.4 516.3h1.0M102.3 493.3h1.0M117.1 491.7h1.0M155.5 497.5h1.0M175.1 519.2h1.0M131.9 498.4h1.0M192.6 491.9h1.0M154.1 505.4h1.0M167.1 481.0h1.0M108.7 487.2h1.0M178.7 515.9h1.0M166.3 522.4h1.0M193.5 489.8h1.0M221.2 504.2h1.0M175.0 504.4h1.0M131.6 518.2h1.0M189.4 512.6h1.0M105.3 480.5h1.0M135.3 503.1h1.0M193.1 487.3h1.0M206.7 518.2h1.0M142.2 496.7h1.0M160.7 470.8h1.0M212.8 510.3h1.0M136.1 496.6h1.0M187.7 490.8h1.0M114.9 494.1h1.0M193.7 514.7h1.0M209.6 521.3h1.0M148.4 491.3h1.0M169.2 505.6h1.0M195.8 467.8h1.0M174.7 491.6h1.0M224.1 499.7h1.0M216.3 521.2h1.0M200.7 500.7h1.0M151.8 501.9h1.0M132.1 500.7h1.0M109.8 500.7h1.0M141.4 501.5h1.0M119.6 479.1h1.0M154.9 500.7h1.0M203.8 507.5h1.0M225.6 521.2h1.0M193.8 512.1h1.0M190.4 497.9h1.0M178.8 518.8h1.0M188.2 477.4h1.0M147.2 498.4h1.0M141.9 512.9h1.0M118.9 503.8h1.0M154.5 504.6h1.0M180.3 488.8h1.0M160.8 481.4h1.0M174.2 502.7h1.0M184.3 496.5h1.0M190.0 506.1h1.0M167.5 514.6h1.0M188.3 484.9h1.0M125.4 515.0h1.0M188.3 501.6h1.0M193.2 489.1h1.0M201.7 508.4h1.0M105.6 508.2h1.0M155.4 489.8h1.0M216.7 505.5h1.0M193.2 490.3h1.0M107.9 510.2h1.0M129.0 491.3h1.0M117.1 493.5h1.0M177.6 498.2h1.0M196.1 484.3h1.0M150.8 505.5h1.0M166.3 522.2h1.0M198.9 499.4h1.0M121.2 492.0h1.0M118.5 497.2h1.0M113.2 501.2h1.0M156.3 486.7h1.0M160.5 504.0h1.0M173.8 513.6h1.0M152.1 490.8h1.0M153.0 508.2h1.0M198.6 507.0h1.0M212.2 497.7h1.0M169.3 479.8h1.0M182.0 498.0h1.0M192.1 494.8h1.0M152.8 487.7h1.0M137.0 487.2h1.0M142.0 497.0h1.0M225.2 497.9h1.0M133.8 489.4h1.0M111.4 506.6h1.0M153.3 507.1h1.0M171.5 496.8h1.0M176.9 503.3h1.0M126.0 482.6h1.0M178.7 506.5h1.0M143.1 504.5h1.0M145.8 509.1h1.0M153.0 497.7h1.0M125.7 498.6h1.0M139.5 508.6h1.0M189.1 503.9h1.0M119.4 482.6h1.0M147.2 500.0h1.0M170.6 505.1h1.0M171.2 509.3h1.0M115.5 507.3h1.0M110.9 505.8h1.0M152.0 504.7h1.0M137.4 496.3h1.0M158.0 501.3h1.0M176.4 502.3h1.0M217.2 516.6h1.0M156.2 495.7h1.0M152.9 494.6h1.0M129.9 492.0h1.0M169.8 476.6h1.0M149.1 512.7h1.0M133.1 483.0h1.0M212.3 513.7h1.0M154.2 500.9h1.0M116.4 490.9h1.0M178.3 512.4h1.0M175.2 486.8h1.0M222.9 509.6h1.0M192.5 499.5h1.0M165.4 511.4h1.0M146.6 501.8h1.0M136.8 501.7h1.0M159.6 497.3h1.0M172.0 506.0h1.0M131.8 509.8h1.0M133.2 498.2h1.0M176.8 494.5h1.0M127.6 515.0h1.0M158.2 487.5h1.0M151.7 481.4h1.0M134.0 494.4h1.0M215.3 496.2h1.0M163.7 505.5h1.0M114.0 518.7h1.0M157.1 516.6h1.0M163.9 492.7h1.0M142.1 501.3h1.0M187.6 507.7h1.0M156.3 515.8h1.0M175.7 474.2h1.0M146.6 486.1h1.0M133.3 486.5h1.0M129.2 503.0h1.0M178.6 493.1h1.0M209.2 516.6h1.0M219.7 520.3h1.0M177.4 476.0h1.0M148.6 507.4h1.0M199.1 512.4h1.0M215.2 510.5h1.0M155.9 496.6h1.0M115.8 511.1h1.0M152.4 495.7h1.0M125.0 491.3h1.0M196.2 492.3h1.0M138.6 503.4h1.0M157.7 493.5h1.0M180.0 505.6h1.0M181.0 497.4h1.0M142.7 513.5h1.0M196.0 519.9h1.0M103.0 504.8h1.0M213.7 486.2h1.0M161.1 499.1h1.0M127.4 499.3h1.0M134.9 510.2h1.0M153.1 457.9h1.0M144.7 494.8h1.0M154.8 501.1h1.0M164.5 517.4h1.0M194.7 490.9h1.0M121.4 506.8h1.0M174.4 509.8h1.0M162.2 490.4h1.0M179.0 516.9h1.0M185.1 482.0h1.0M223.5 500.6h1.0M157.7 499.8h1.0M168.4 504.4h1.0M104.2 484.0h1.0M148.7 497.5h1.0M137.4 488.8h1.0M120.2 509.2h1.0M214.3 521.4h1.0M173.1 484.2h1.0M107.7 501.8h1.0M183.5 504.5h1.0M183.3 491.6h1.0M103.4 514.1h1.0M204.2 504.2h1.0M187.9 516.4h1.0M113.2 505.4h1.0M160.2 501.2h1.0M197.9 501.6h1.0M203.4 516.1h1.0M158.9 485.9h1.0M161.8 521.9h1.0M123.3 473.1h1.0M135.6 501.9h1.0M153.9 506.6h1.0M102.1 519.4h1.0M166.4 495.7h1.0M140.8 518.0h1.0M169.6 487.8h1.0M184.9 505.8h1.0M145.5 496.7h1.0M113.8 505.4h1.0M171.1 477.6h1.0M130.3 504.9h1.0M153.1 502.3h1.0M158.1 490.4h1.0M109.7 512.8h1.0M181.9 477.1h1.0M109.8 514.6h1.0M159.8 499.9h1.0M175.8 480.1h1.0M219.2 498.4h1.0M135.5 502.0h1.0M178.4 466.0h1.0M149.0 487.4h1.0M199.8 509.2h1.0M172.5 443.6h1.0M128.9 514.4h1.0M169.1 459.5h1.0M134.0 500.5h1.0M109.3 450.9h1.0M117.5 520.4h1.0M146.9 483.2h1.0M105.0 439.3h1.0M201.9 469.7h1.0M205.9 490.4h1.0M105.6 494.8h1.0M170.4 464.2h1.0M158.3 517.7h1.0M154.3 471.1h1.0M112.2 451.1h1.0M223.3 505.2h1.0M141.0 516.4h1.0M222.3 497.7h1.0M154.7 455.2h1.0M129.8 461.8h1.0M135.1 499.6h1.0M134.7 437.9h1.0M206.0 459.8h1.0M209.1 478.2h1.0M206.5 448.9h1.0M137.1 509.6h1.0M140.9 505.9h1.0M171.8 498.8h1.0M194.1 463.9h1.0M193.5 510.6h1.0M210.8 503.0h1.0M200.9 478.4h1.0M168.9 452.5h1.0M191.7 440.5h1.0M200.8 485.1h1.0M127.6 440.6h1.0M228.2 484.8h1.0M171.9 436.8h1.0M184.3 502.2h1.0M188.9 511.4h1.0M193.6 508.7h1.0M114.2 508.8h1.0M112.8 494.1h1.0M141.3 507.0h1.0M120.0 454.1h1.0M198.6 498.6h1.0M163.5 497.0h1.0M126.3 482.5h1.0M154.6 475.8h1.0M128.2 496.2h1.0M198.8 435.6h1.0M154.3 451.6h1.0M212.1 465.6h1.0M193.8 512.9h1.0M162.4 479.9h1.0M176.5 466.3h1.0M230.8 464.5h1.0M195.2 465.9h1.0M157.4 516.0h1.0M153.6 439.2h1.0M212.0 469.7h1.0M183.6 510.2h1.0M191.9 511.4h1.0M123.5 438.5h1.0M159.8 463.3h1.0M105.2 438.7h1.0M171.6 462.6h1.0M105.6 465.8h1.0M186.3 450.5h1.0M121.6 519.9h1.0M112.6 437.0h1.0M124.0 455.2h1.0M156.4 491.9h1.0M165.6 478.6h1.0M135.1 486.8h1.0M182.8 436.7h1.0M180.7 465.9h1.0M130.5 479.7h1.0M152.0 441.8h1.0M222.3 462.7h1.0M166.4 481.1h1.0M207.3 474.8h1.0M190.4 481.7h1.0M186.5 448.9h1.0M216.1 484.1h1.0M108.5 507.3h1.0M173.6 453.8h1.0M217.6 476.4h1.0M173.4 462.0h1.0M105.1 452.2h1.0M223.2 517.1h1.0M197.7 470.1h1.0M151.6 435.9h1.0M126.2 456.6h1.0M105.8 446.9h1.0M222.1 449.8h1.0M209.8 472.4h1.0M119.2 468.4h1.0M123.6 490.1h1.0M193.8 498.5h1.0M120.9 458.6h1.0M176.1 451.6h1.0M149.4 459.6h1.0M176.9 467.1h1.0M185.4 457.7h1.0M141.4 458.8h1.0M141.5 515.9h1.0M127.1 443.1h1.0M225.7 504.8h1.0M159.5 474.6h1.0M111.2 485.0h1.0M166.2 505.6h1.0M186.3 474.2h1.0M217.0 509.4h1.0M144.6 458.7h1.0M203.7 492.3h1.0M188.7 439.7h1.0M221.9 472.8h1.0M145.8 452.5h1.0M128.9 502.8h1.0M104.5 505.8h1.0M173.6 510.2h1.0M179.3 480.8h1.0M153.5 470.4h1.0M217.1 474.4h1.0M134.0 491.8h1.0M206.5 509.1h1.0M219.8 462.3h1.0M159.1 519.7h1.0M108.4 476.6h1.0M176.8 486.7h1.0M186.5 437.2h1.0M224.5 454.5h1.0M214.7 487.8h1.0M160.8 502.1h1.0M189.3 461.8h1.0M129.2 484.2h1.0M186.9 451.2h1.0M203.3 443.6h1.0M170.3 490.0h1.0M146.3 484.2h1.0M107.8 488.0h1.0M159.6 444.4h1.0M144.4 470.5h1.0M218.8 488.0h1.0M128.2 514.1h1.0M105.5 451.3h1.0M141.4 507.5h1.0M161.8 503.9h1.0M137.3 440.6h1.0M196.6 495.8h1.0M144.7 515.3h1.0M127.0 485.3h1.0M127.8 473.0h1.0M207.3 494.8h1.0M118.4 473.1h1.0M182.6 482.4h1.0M167.5 497.0h1.0M141.0 462.6h1.0M209.4 454.0h1.0M188.7 465.2h1.0M209.3 450.9h1.0M143.4 509.3h1.0" stroke="#bdbdbd" stroke-width="1" fill="none"/>
<ellipse cx="138.5" cy="472" rx="14.5" ry="16" fill="#000" filter="url(#bl2)" transform="rotate(-25 138.5 472)"/>
<path d="M134.6 463.8h1.0M127.3 477.1h1.0M161.8 462.3h1.0M145.9 477.4h1.0M144.7 470.4h1.0M136.4 472.3h1.0M139.9 473.7h1.0M148.1 486.2h1.0M142.1 475.7h1.0M131.6 471.1h1.0M149.4 482.4h1.0M147.7 481.5h1.0M137.4 472.3h1.0M129.3 468.3h1.0M134.0 483.6h1.0M137.7 495.4h1.0M139.9 468.5h1.0M135.3 473.1h1.0M148.1 472.8h1.0M127.9 469.3h1.0M149.8 480.4h1.0M140.6 476.2h1.0M129.1 464.1h1.0M143.2 456.8h1.0M136.3 463.1h1.0M139.8 455.3h1.0M142.9 454.9h1.0M149.4 485.4h1.0M132.0 468.8h1.0M140.2 471.3h1.0M151.5 477.5h1.0M134.6 478.5h1.0M137.8 456.6h1.0M134.4 467.2h1.0M137.5 481.7h1.0M127.1 459.2h1.0M123.4 463.5h1.0M135.9 472.5h1.0M141.0 468.5h1.0M121.2 480.8h1.0M139.9 485.5h1.0M144.0 479.9h1.0M135.0 473.8h1.0M145.1 469.0h1.0M136.3 487.2h1.0M147.4 475.3h1.0M141.7 459.6h1.0M145.3 478.6h1.0M131.9 475.4h1.0M161.7 483.3h1.0M137.1 475.3h1.0M144.1 473.0h1.0M133.9 486.0h1.0M138.4 489.9h1.0M138.7 463.4h1.0M126.9 479.7h1.0M142.9 471.9h1.0M157.6 474.2h1.0M124.8 475.7h1.0M136.7 475.6h1.0M145.3 467.6h1.0M134.4 471.9h1.0M142.1 460.6h1.0M136.8 464.4h1.0M124.0 480.4h1.0M118.0 488.9h1.0M138.9 480.2h1.0M141.3 456.8h1.0M133.3 481.8h1.0M154.2 479.4h1.0M126.3 484.0h1.0M142.8 467.2h1.0M140.6 482.7h1.0M137.6 473.9h1.0M139.3 484.0h1.0M127.0 462.4h1.0M136.5 470.6h1.0M124.6 467.9h1.0M147.9 472.2h1.0M119.5 457.5h1.0M139.7 460.9h1.0M123.7 464.6h1.0M127.4 479.9h1.0M142.9 467.7h1.0M148.1 486.7h1.0M136.1 465.5h1.0M152.0 460.1h1.0M121.8 452.2h1.0M145.1 464.7h1.0M139.7 467.0h1.0M152.8 463.2h1.0M124.4 466.0h1.0M137.7 479.5h1.0M135.4 478.2h1.0M123.2 458.3h1.0M118.9 463.8h1.0M138.3 477.8h1.0M137.8 478.0h1.0M127.3 469.0h1.0M134.8 469.8h1.0M123.3 479.6h1.0M156.3 479.4h1.0M133.8 448.8h1.0M136.8 463.5h1.0M144.5 468.8h1.0M130.5 462.4h1.0M129.3 467.3h1.0M139.3 488.5h1.0M129.7 470.6h1.0M136.8 479.8h1.0M151.4 476.6h1.0M128.4 460.8h1.0M146.9 457.6h1.0M134.1 451.7h1.0M160.5 477.1h1.0M138.8 486.3h1.0M126.4 461.8h1.0M135.1 480.2h1.0M120.2 483.6h1.0M145.3 469.9h1.0M128.0 436.1h1.0M141.4 476.1h1.0M142.2 478.7h1.0M144.1 462.0h1.0M128.4 470.7h1.0M140.9 469.1h1.0M140.3 467.4h1.0M142.2 461.2h1.0M163.3 493.9h1.0M147.7 481.9h1.0M138.6 491.7h1.0M142.7 468.4h1.0M135.1 470.5h1.0M139.3 471.9h1.0M134.8 488.6h1.0M129.1 456.7h1.0M139.2 474.7h1.0M131.5 462.4h1.0M145.7 476.2h1.0M153.1 460.5h1.0M135.9 466.4h1.0M131.1 476.5h1.0M141.0 485.0h1.0M155.0 482.4h1.0M139.9 472.7h1.0M143.8 459.1h1.0M146.8 486.1h1.0M149.7 473.2h1.0M128.3 457.8h1.0M150.3 466.5h1.0M138.9 466.3h1.0M145.2 472.1h1.0M150.4 464.4h1.0M116.9 474.9h1.0M156.5 478.9h1.0M161.7 465.6h1.0M134.0 465.9h1.0M132.2 470.1h1.0M141.8 483.7h1.0M139.3 456.1h1.0M138.9 475.0h1.0M128.2 477.7h1.0M128.9 474.5h1.0M124.4 480.8h1.0M131.1 472.7h1.0M130.6 477.9h1.0M121.1 473.4h1.0M142.0 472.8h1.0M138.7 476.5h1.0M140.0 463.4h1.0M117.7 477.3h1.0M150.2 478.9h1.0M154.5 473.3h1.0M130.0 465.8h1.0M128.1 485.5h1.0M120.1 481.7h1.0M145.1 466.7h1.0M138.4 477.5h1.0M140.9 470.8h1.0M134.2 469.8h1.0M126.8 489.8h1.0M138.2 488.5h1.0M132.8 464.0h1.0M130.7 479.0h1.0M140.4 473.2h1.0M129.6 473.4h1.0M147.3 473.7h1.0M117.3 476.0h1.0M142.6 474.8h1.0M134.0 464.8h1.0M145.9 470.4h1.0M153.0 475.8h1.0M144.2 473.4h1.0M141.0 474.1h1.0M134.4 480.1h1.0M152.1 479.7h1.0M132.6 458.3h1.0M141.9 471.8h1.0M137.9 474.4h1.0M138.3 468.6h1.0M134.8 481.2h1.0M161.2 462.1h1.0M135.0 459.8h1.0M129.2 460.8h1.0M130.2 463.7h1.0M145.2 479.4h1.0M133.6 472.1h1.0M148.3 476.7h1.0M142.4 480.3h1.0M140.7 470.3h1.0M145.6 460.8h1.0M139.9 467.1h1.0M143.5 473.5h1.0M138.9 459.1h1.0M149.5 463.3h1.0M130.2 454.6h1.0M157.9 487.0h1.0M145.1 468.8h1.0M141.3 466.2h1.0M122.6 464.9h1.0M140.4 471.8h1.0M127.5 480.7h1.0M136.2 481.7h1.0M136.2 473.8h1.0M127.0 457.5h1.0M124.1 472.0h1.0M140.2 453.3h1.0M135.1 470.0h1.0M150.6 467.5h1.0M140.6 477.4h1.0M124.5 484.8h1.0M157.7 482.4h1.0M141.9 456.5h1.0M152.7 464.1h1.0M137.7 478.8h1.0M117.9 476.1h1.0M135.6 462.7h1.0M130.5 481.5h1.0M128.2 471.2h1.0M125.5 470.1h1.0M135.7 497.2h1.0M143.4 459.4h1.0M127.8 476.3h1.0M117.4 481.1h1.0M164.3 490.2h1.0M133.5 482.2h1.0M134.7 494.0h1.0M147.4 473.4h1.0M137.6 465.5h1.0M126.7 487.9h1.0M148.1 472.5h1.0M149.0 477.6h1.0M137.4 461.8h1.0M122.6 482.1h1.0M132.8 461.0h1.0M111.7 458.3h1.0M143.6 481.6h1.0M144.6 473.7h1.0M142.6 462.1h1.0M128.7 473.0h1.0M145.2 454.5h1.0M129.6 457.2h1.0M134.4 472.0h1.0M129.0 470.6h1.0M138.5 462.3h1.0M147.4 480.1h1.0M139.7 478.0h1.0M127.7 467.1h1.0M155.0 479.3h1.0M141.5 473.9h1.0M145.0 467.3h1.0M143.4 470.1h1.0M138.3 469.6h1.0M125.0 458.3h1.0M135.3 480.1h1.0M133.2 469.5h1.0M115.6 482.4h1.0M130.0 469.8h1.0M150.1 478.0h1.0M140.5 475.7h1.0M119.1 463.3h1.0M132.3 448.1h1.0M136.5 479.0h1.0M150.2 474.6h1.0M136.1 473.4h1.0M133.2 482.4h1.0M142.4 479.0h1.0M145.0 496.3h1.0M145.7 474.8h1.0M130.3 469.2h1.0M143.7 454.2h1.0M129.7 459.4h1.0M122.5 467.1h1.0M130.0 468.4h1.0M127.4 457.3h1.0M146.4 469.3h1.0M140.1 465.8h1.0M136.6 469.5h1.0M145.6 468.0h1.0M144.2 476.5h1.0M146.0 466.5h1.0M139.3 483.8h1.0M152.5 468.5h1.0M109.8 453.1h1.0M126.7 477.7h1.0M139.7 474.5h1.0M140.8 457.5h1.0M152.5 468.9h1.0M139.1 467.5h1.0M133.8 458.8h1.0M138.3 461.7h1.0M134.3 455.9h1.0M138.1 471.3h1.0M130.6 483.9h1.0M127.6 466.8h1.0M141.1 478.7h1.0M135.4 501.9h1.0M143.2 484.9h1.0M154.9 486.4h1.0M134.4 471.4h1.0M128.0 473.5h1.0M118.9 462.5h1.0M134.8 483.5h1.0M142.0 478.8h1.0M140.6 456.4h1.0M134.4 465.9h1.0M134.8 453.3h1.0M144.9 475.0h1.0M142.3 488.3h1.0M127.2 464.6h1.0M150.1 465.4h1.0M141.6 465.0h1.0M151.6 469.6h1.0M130.2 465.5h1.0M127.1 454.9h1.0M141.3 474.3h1.0M135.1 475.6h1.0M131.2 485.3h1.0M137.3 488.8h1.0M124.7 472.3h1.0M130.0 460.1h1.0M124.0 489.6h1.0M140.5 466.0h1.0M146.5 475.4h1.0M125.6 491.5h1.0M137.4 482.6h1.0M141.9 481.8h1.0M127.1 477.6h1.0M133.4 462.8h1.0M141.5 470.5h1.0M128.7 465.6h1.0M140.3 457.5h1.0M138.1 469.9h1.0M123.5 468.8h1.0M129.0 473.9h1.0M157.5 487.1h1.0M147.2 459.4h1.0M137.3 464.3h1.0M154.6 477.8h1.0M133.1 493.5h1.0M152.9 465.2h1.0M147.7 451.7h1.0M140.0 483.8h1.0M128.4 451.9h1.0M129.2 477.5h1.0M164.1 461.5h1.0M142.4 481.4h1.0M130.4 460.5h1.0M130.6 473.5h1.0M132.2 471.5h1.0M126.2 457.6h1.0M150.5 475.7h1.0M144.4 470.8h1.0M127.9 467.1h1.0M143.3 479.2h1.0M119.9 448.0h1.0M139.1 469.9h1.0M109.1 472.5h1.0M155.9 469.1h1.0M139.2 465.8h1.0M130.2 474.8h1.0M142.5 457.5h1.0M140.6 474.7h1.0M135.2 472.4h1.0M152.6 461.5h1.0M139.7 466.8h1.0M151.0 482.9h1.0M148.2 461.6h1.0M148.8 485.5h1.0M136.7 467.9h1.0M135.3 468.2h1.0M125.8 468.5h1.0M149.2 477.4h1.0M112.2 454.8h1.0M143.3 464.6h1.0M144.8 460.0h1.0M151.2 484.9h1.0M141.5 478.9h1.0M129.6 471.9h1.0M137.0 457.7h1.0M155.0 478.6h1.0M139.9 459.3h1.0M147.6 471.3h1.0M138.5 489.1h1.0M132.5 472.6h1.0M139.1 459.8h1.0M120.8 481.0h1.0M130.7 470.7h1.0M129.1 488.4h1.0M121.6 474.4h1.0M140.1 460.9h1.0M149.2 474.4h1.0M144.2 481.3h1.0M133.6 468.1h1.0M131.6 482.8h1.0M132.0 457.3h1.0M129.7 469.3h1.0M145.1 466.1h1.0M119.8 465.1h1.0M136.5 482.1h1.0M151.2 466.1h1.0M127.8 473.7h1.0M145.2 473.6h1.0M137.2 479.6h1.0M103.3 468.8h1.0M144.6 484.0h1.0M142.0 479.5h1.0M132.9 492.5h1.0M140.6 469.9h1.0M154.0 479.4h1.0M139.7 479.4h1.0M133.2 449.1h1.0M130.4 475.8h1.0M152.8 470.8h1.0M138.8 475.2h1.0M146.0 487.4h1.0M139.4 504.8h1.0M136.7 482.2h1.0M145.8 461.2h1.0M142.4 471.8h1.0M135.3 486.7h1.0M122.2 479.1h1.0M121.1 482.7h1.0M143.8 469.4h1.0M130.6 478.7h1.0M132.2 463.5h1.0M146.2 448.5h1.0M120.4 462.3h1.0M133.4 479.4h1.0M148.9 469.9h1.0M137.5 466.4h1.0M147.9 467.2h1.0M148.6 469.5h1.0M133.7 476.6h1.0M133.4 471.2h1.0M144.1 464.5h1.0M142.2 476.3h1.0M136.2 471.7h1.0M146.5 467.0h1.0M140.9 466.5h1.0M114.8 466.9h1.0M153.8 457.7h1.0M146.7 458.8h1.0M127.3 467.6h1.0M141.4 454.5h1.0M131.1 470.2h1.0M114.0 475.8h1.0M136.1 461.9h1.0M146.5 470.3h1.0M160.1 488.4h1.0M129.7 479.2h1.0M150.1 478.8h1.0M133.4 465.8h1.0M143.3 474.3h1.0M134.0 465.6h1.0M137.9 468.7h1.0M128.1 484.5h1.0M144.1 464.8h1.0M141.2 490.6h1.0M145.1 476.2h1.0M136.2 481.7h1.0M141.5 462.8h1.0M145.5 469.1h1.0M140.7 478.4h1.0M127.9 469.2h1.0M133.1 474.1h1.0M144.4 481.0h1.0M142.3 453.8h1.0M136.3 462.1h1.0M136.7 465.7h1.0M145.5 469.7h1.0M120.2 477.5h1.0M130.5 462.7h1.0M147.6 475.8h1.0M137.1 461.7h1.0M140.3 470.1h1.0M139.7 454.2h1.0M120.9 469.2h1.0M144.3 475.2h1.0M141.2 474.8h1.0M110.2 476.2h1.0M148.4 475.8h1.0M130.7 484.0h1.0M136.6 471.4h1.0M139.0 462.6h1.0M122.4 446.0h1.0M134.4 470.6h1.0M140.8 483.9h1.0M131.8 479.8h1.0M122.3 443.4h1.0M123.6 481.2h1.0M150.2 479.9h1.0M130.4 478.5h1.0M136.4 492.9h1.0M136.5 462.4h1.0M133.7 468.1h1.0M123.1 466.5h1.0M124.2 462.8h1.0M158.4 490.0h1.0M133.7 465.5h1.0M131.4 482.0h1.0M140.7 487.2h1.0M130.5 450.0h1.0M142.6 491.5h1.0M144.8 474.7h1.0M137.0 478.2h1.0M153.7 464.2h1.0M155.9 462.1h1.0M135.8 470.5h1.0M121.9 481.0h1.0M125.5 490.8h1.0M132.8 484.2h1.0M152.3 463.5h1.0M144.5 484.8h1.0M146.1 469.1h1.0M147.8 467.2h1.0M147.3 483.9h1.0M144.8 471.7h1.0M163.1 478.0h1.0M132.7 480.9h1.0M144.8 470.6h1.0M146.8 462.4h1.0M156.8 482.7h1.0M144.1 472.5h1.0M138.4 478.8h1.0M152.8 474.2h1.0M145.8 459.8h1.0M118.3 476.1h1.0M122.4 489.9h1.0M135.2 465.9h1.0M153.8 469.2h1.0M122.0 463.2h1.0M137.6 457.8h1.0M140.2 467.9h1.0M154.2 486.9h1.0M133.8 484.5h1.0M128.3 478.4h1.0M122.2 482.8h1.0M131.1 464.3h1.0M135.0 466.8h1.0M125.9 459.9h1.0M134.3 452.0h1.0M134.3 461.6h1.0M140.8 462.1h1.0M134.8 484.3h1.0M130.3 462.8h1.0M143.9 485.2h1.0M123.8 465.9h1.0M119.5 482.8h1.0M144.7 474.9h1.0M133.8 466.8h1.0M145.4 445.4h1.0M133.2 458.3h1.0M132.5 489.0h1.0M157.2 485.7h1.0M152.0 485.4h1.0M131.1 462.1h1.0M150.8 467.0h1.0M141.0 465.1h1.0M141.9 472.5h1.0M131.0 466.5h1.0M126.7 486.2h1.0M148.4 480.6h1.0M138.8 473.3h1.0M143.9 462.8h1.0M144.1 483.0h1.0M148.5 467.4h1.0M140.2 460.9h1.0M142.2 468.2h1.0M146.7 485.4h1.0M135.1 460.7h1.0M123.8 464.6h1.0M116.4 478.5h1.0M138.7 486.3h1.0M133.9 479.8h1.0M148.0 487.5h1.0M132.2 473.8h1.0M151.7 462.8h1.0M141.3 468.7h1.0M127.2 465.9h1.0M127.1 456.2h1.0M136.5 485.5h1.0M141.9 470.4h1.0M142.1 464.9h1.0M151.7 460.5h1.0M115.0 472.1h1.0M134.8 467.8h1.0M133.1 465.9h1.0M125.6 473.7h1.0M133.8 472.1h1.0M143.6 482.7h1.0M141.1 459.3h1.0M136.9 485.2h1.0M146.6 489.0h1.0M162.3 483.9h1.0M141.9 487.3h1.0M144.1 472.2h1.0M143.3 478.0h1.0M149.3 457.8h1.0M109.0 462.0h1.0M129.0 480.2h1.0M116.8 461.6h1.0M138.7 476.5h1.0M139.3 473.5h1.0M151.9 478.8h1.0M144.9 473.5h1.0M128.9 486.1h1.0M134.8 461.1h1.0M143.8 473.7h1.0M128.6 467.2h1.0M149.3 475.7h1.0M142.9 475.9h1.0M152.8 466.4h1.0M130.9 476.6h1.0M142.4 456.1h1.0M133.9 455.7h1.0M146.2 466.6h1.0M142.2 470.0h1.0M132.6 461.4h1.0M130.3 467.5h1.0M146.5 466.0h1.0M141.4 496.4h1.0M150.3 471.5h1.0M136.1 471.4h1.0M125.7 474.3h1.0M146.3 467.0h1.0M132.2 457.8h1.0M134.9 470.7h1.0M141.7 464.1h1.0M130.6 488.2h1.0M131.2 459.6h1.0M145.7 465.5h1.0M139.4 478.6h1.0M163.1 507.5h1.0M123.0 464.7h1.0M122.8 456.0h1.0M151.2 481.7h1.0M115.8 483.8h1.0M149.3 475.9h1.0M159.8 474.3h1.0M125.6 461.6h1.0M149.2 449.9h1.0M140.1 484.0h1.0M153.4 463.3h1.0M138.4 467.0h1.0M139.6 471.8h1.0M115.9 472.5h1.0M146.7 482.9h1.0M119.4 468.3h1.0M140.2 464.3h1.0M126.0 471.2h1.0M138.2 483.4h1.0M144.4 465.7h1.0M128.2 473.0h1.0M131.7 467.5h1.0M139.2 458.9h1.0M147.6 462.8h1.0M149.6 474.9h1.0M130.9 461.8h1.0M146.1 491.4h1.0M131.0 466.4h1.0M151.4 488.1h1.0M135.5 466.7h1.0M131.1 462.8h1.0M137.4 482.3h1.0M141.3 475.3h1.0M135.2 480.1h1.0M132.2 473.1h1.0M137.4 460.9h1.0M145.6 478.2h1.0M127.9 476.6h1.0M141.4 457.6h1.0M124.4 460.4h1.0M132.8 471.2h1.0M148.9 484.8h1.0M135.1 473.2h1.0M123.2 466.9h1.0M150.1 477.1h1.0M139.1 480.3h1.0M138.6 474.4h1.0M143.7 470.7h1.0M146.4 471.1h1.0M146.1 465.2h1.0M140.8 466.0h1.0M123.0 455.3h1.0M134.2 465.3h1.0M129.2 459.0h1.0M142.0 480.7h1.0M123.4 473.8h1.0M136.1 472.5h1.0M143.5 480.1h1.0M147.6 471.9h1.0M120.2 468.2h1.0M134.5 450.1h1.0M141.1 468.2h1.0M135.4 484.0h1.0M127.3 463.4h1.0M123.1 451.7h1.0M135.7 476.9h1.0M146.3 455.6h1.0M134.9 481.1h1.0M133.0 460.7h1.0M143.8 481.8h1.0M143.4 464.3h1.0M139.7 472.9h1.0M156.6 459.7h1.0M132.6 474.9h1.0M144.8 486.1h1.0M143.0 482.3h1.0M138.7 466.4h1.0M147.4 467.1h1.0M138.1 465.5h1.0M135.8 471.7h1.0M134.8 479.5h1.0M140.6 477.2h1.0M133.3 474.4h1.0M146.6 470.1h1.0M138.7 469.9h1.0M123.4 479.7h1.0M132.1 470.9h1.0M151.0 494.9h1.0M137.8 461.8h1.0M144.9 473.0h1.0M130.8 467.5h1.0M156.9 471.4h1.0M134.9 491.9h1.0M126.6 466.8h1.0M135.7 478.6h1.0M135.2 476.2h1.0M139.1 476.5h1.0M144.4 467.8h1.0M133.6 471.3h1.0M149.2 456.4h1.0M141.2 471.0h1.0M131.1 459.8h1.0M146.8 459.9h1.0M142.2 474.3h1.0M141.9 474.6h1.0M146.8 479.9h1.0M137.1 466.9h1.0M140.2 481.8h1.0M143.9 456.1h1.0M127.0 489.9h1.0M138.9 468.9h1.0M121.2 469.0h1.0M141.4 453.8h1.0M136.0 478.9h1.0M146.6 472.4h1.0M141.9 471.0h1.0M133.6 474.4h1.0M139.4 490.1h1.0M134.8 451.5h1.0M130.7 457.6h1.0M128.1 456.1h1.0M125.6 466.3h1.0M137.4 471.6h1.0M127.0 481.0h1.0M137.0 458.4h1.0M128.6 468.6h1.0M135.6 463.9h1.0M131.4 472.7h1.0M144.7 478.4h1.0M138.5 472.6h1.0M137.5 477.1h1.0M155.6 486.7h1.0M151.4 480.7h1.0M117.7 460.5h1.0M138.2 480.5h1.0M136.6 452.6h1.0M145.2 451.6h1.0M132.6 475.2h1.0M139.1 488.4h1.0M132.9 472.8h1.0M136.4 470.9h1.0M130.6 466.1h1.0M128.5 458.4h1.0M140.5 474.1h1.0M129.4 469.7h1.0M136.9 483.7h1.0M127.1 450.1h1.0M130.4 463.1h1.0M156.6 473.2h1.0M114.2 476.4h1.0M141.6 470.2h1.0M148.1 478.2h1.0M136.5 456.2h1.0M146.9 473.9h1.0M123.2 463.9h1.0M131.0 488.6h1.0M131.3 468.2h1.0M136.4 483.2h1.0M155.3 501.0h1.0M135.8 469.1h1.0M138.6 463.3h1.0M150.1 475.9h1.0M164.7 481.7h1.0M146.6 484.6h1.0M142.8 478.2h1.0M144.9 474.4h1.0M143.0 476.4h1.0M144.0 472.8h1.0M138.5 481.5h1.0M128.3 469.8h1.0M141.9 481.5h1.0M139.9 470.5h1.0M140.6 454.3h1.0M127.7 487.5h1.0M141.9 482.2h1.0M134.2 481.0h1.0M131.7 484.1h1.0M129.6 460.9h1.0M131.4 477.9h1.0M161.7 458.1h1.0M130.3 474.5h1.0M137.2 457.0h1.0M144.5 469.5h1.0M144.3 451.8h1.0M149.8 485.4h1.0M136.4 478.1h1.0M156.0 465.9h1.0M148.2 482.6h1.0M144.5 464.9h1.0M130.3 467.2h1.0M128.6 474.9h1.0M137.8 465.4h1.0M138.6 467.1h1.0M141.6 456.2h1.0M133.2 438.3h1.0M139.7 467.4h1.0M137.3 438.9h1.0M143.1 468.0h1.0M131.2 486.6h1.0M127.2 473.2h1.0M146.6 469.0h1.0M136.5 488.9h1.0M143.1 475.7h1.0M135.6 477.6h1.0M146.3 492.0h1.0M136.2 476.0h1.0M150.2 465.3h1.0M145.7 461.2h1.0M133.8 448.3h1.0M141.3 467.0h1.0M131.4 473.2h1.0M122.6 460.9h1.0M155.1 465.4h1.0M153.8 473.0h1.0M132.2 489.3h1.0M119.4 466.0h1.0M121.0 501.5h1.0M141.7 483.7h1.0M121.1 472.0h1.0M136.9 468.8h1.0M134.0 470.6h1.0M133.6 467.6h1.0M146.0 476.9h1.0M129.6 453.9h1.0M129.6 476.0h1.0M144.1 473.3h1.0M111.2 466.2h1.0M136.6 468.4h1.0M157.0 462.6h1.0M151.1 462.5h1.0M143.3 481.9h1.0M149.6 476.1h1.0M160.2 477.1h1.0M141.4 470.9h1.0M111.2 481.5h1.0M140.3 482.9h1.0M132.6 467.6h1.0M130.7 459.9h1.0M135.0 478.2h1.0M137.5 451.1h1.0M152.7 478.0h1.0M158.4 473.0h1.0M132.2 464.6h1.0M147.4 459.6h1.0M128.9 479.7h1.0M135.1 471.4h1.0M134.5 474.8h1.0M130.2 484.2h1.0M104.2 483.5h1.0M156.4 474.3h1.0M143.1 475.0h1.0M138.7 470.4h1.0M126.5 486.2h1.0M149.5 481.2h1.0M141.9 476.6h1.0M139.9 485.3h1.0M151.2 484.7h1.0M131.0 474.6h1.0M155.3 449.8h1.0M118.9 467.9h1.0M157.1 460.6h1.0M136.5 498.7h1.0M143.4 461.6h1.0M129.9 461.6h1.0M160.4 476.8h1.0M143.2 476.3h1.0M155.8 481.5h1.0M132.5 467.4h1.0M129.4 476.8h1.0M139.1 482.0h1.0M148.5 475.7h1.0M128.5 463.9h1.0M129.5 474.4h1.0M149.0 458.6h1.0M149.8 475.9h1.0M124.5 468.3h1.0M136.9 469.0h1.0M135.2 476.9h1.0M156.6 465.4h1.0M127.1 472.3h1.0M140.5 483.2h1.0M147.7 492.3h1.0M119.5 486.0h1.0M150.5 476.2h1.0M135.3 458.6h1.0M129.9 471.7h1.0M151.6 459.9h1.0M153.3 476.1h1.0M132.5 471.2h1.0M120.0 465.2h1.0M133.4 470.4h1.0M139.6 463.8h1.0M138.0 496.7h1.0M150.1 463.6h1.0M140.2 473.2h1.0M149.8 471.6h1.0M132.4 481.0h1.0M125.5 476.1h1.0M142.3 466.0h1.0M129.9 456.6h1.0M151.5 479.8h1.0M130.2 477.4h1.0M139.0 443.8h1.0M148.0 464.7h1.0M148.3 497.1h1.0M137.0 456.9h1.0M140.0 455.8h1.0M119.7 463.5h1.0M147.3 472.1h1.0M153.6 468.7h1.0M130.6 458.2h1.0M148.6 459.0h1.0M127.2 476.7h1.0M130.1 486.9h1.0M143.7 449.7h1.0M135.3 466.9h1.0M130.1 480.7h1.0M138.5 486.5h1.0M158.6 474.0h1.0M138.4 492.7h1.0M149.6 461.6h1.0M138.1 477.1h1.0M138.5 466.0h1.0M127.6 466.8h1.0M137.4 472.9h1.0M156.3 464.6h1.0M130.8 460.4h1.0M137.6 483.6h1.0M124.1 473.5h1.0M150.6 464.0h1.0M143.4 491.6h1.0M131.8 474.8h1.0M136.5 490.1h1.0M148.0 468.2h1.0M142.4 468.9h1.0M122.7 459.8h1.0M133.1 463.9h1.0M111.5 467.4h1.0M145.9 470.1h1.0M143.7 469.9h1.0M130.4 469.7h1.0M138.0 462.0h1.0M121.1 470.2h1.0M140.8 491.9h1.0M138.2 469.7h1.0M123.3 493.6h1.0M153.6 468.1h1.0M142.9 476.3h1.0M136.8 465.1h1.0M140.9 468.4h1.0M147.3 476.2h1.0M129.8 461.1h1.0M150.2 486.4h1.0M123.4 474.5h1.0M135.5 495.2h1.0M142.5 457.1h1.0M151.0 478.3h1.0M149.9 480.5h1.0M152.3 467.3h1.0M132.2 494.8h1.0M139.9 457.3h1.0M124.5 464.0h1.0M162.6 454.8h1.0M137.6 467.6h1.0M142.3 462.7h1.0M133.6 486.9h1.0M143.5 456.3h1.0M147.6 466.6h1.0M154.1 468.1h1.0M140.5 463.1h1.0M145.8 468.8h1.0M122.7 463.8h1.0M130.3 488.3h1.0M148.8 480.0h1.0M140.5 471.9h1.0M150.8 467.4h1.0M146.9 477.6h1.0M129.9 451.8h1.0M149.4 476.5h1.0M145.5 471.5h1.0M144.5 476.5h1.0M157.1 464.3h1.0M144.7 468.6h1.0M143.8 465.8h1.0M137.0 459.5h1.0M115.5 448.9h1.0M135.2 450.9h1.0M145.5 485.2h1.0M137.7 475.0h1.0M139.9 483.1h1.0M141.5 474.8h1.0M136.3 472.8h1.0M141.2 467.6h1.0M136.1 482.7h1.0M150.3 470.3h1.0M140.5 466.1h1.0M134.7 461.1h1.0M142.1 478.7h1.0M143.6 474.1h1.0M149.4 464.8h1.0M135.8 472.9h1.0M117.1 481.1h1.0M119.9 466.2h1.0M137.0 473.1h1.0M129.7 469.4h1.0M146.6 476.1h1.0M142.4 473.8h1.0M138.4 458.1h1.0M125.2 461.1h1.0M157.6 456.4h1.0M134.7 443.1h1.0M140.1 462.7h1.0M136.1 470.2h1.0M119.3 478.5h1.0M129.8 477.4h1.0M134.0 457.4h1.0M146.6 460.7h1.0M156.7 461.8h1.0M145.0 485.0h1.0M142.0 472.9h1.0M150.1 467.1h1.0M122.3 451.8h1.0M138.5 474.5h1.0M141.2 472.8h1.0M144.0 466.3h1.0M126.0 470.4h1.0M134.4 475.9h1.0M135.2 458.5h1.0M155.5 480.8h1.0M125.9 467.5h1.0M167.2 472.6h1.0M126.6 490.8h1.0M128.5 458.2h1.0M157.4 466.6h1.0M141.4 466.1h1.0M148.4 462.9h1.0M142.1 467.7h1.0M131.2 468.2h1.0M138.4 455.1h1.0M134.5 474.6h1.0M138.8 464.6h1.0M149.8 488.5h1.0M135.1 486.9h1.0M118.7 474.9h1.0M137.8 473.5h1.0M133.4 471.3h1.0M143.9 479.8h1.0M154.2 483.7h1.0M127.5 474.4h1.0M129.2 464.0h1.0M151.1 488.8h1.0M135.0 468.7h1.0M133.1 449.8h1.0M135.2 482.6h1.0M134.4 459.0h1.0M139.3 464.0h1.0M131.6 474.4h1.0M147.6 478.8h1.0M149.7 458.2h1.0M134.3 478.0h1.0M147.7 477.2h1.0M127.0 481.3h1.0M134.5 459.0h1.0M128.2 447.8h1.0M138.8 458.3h1.0M155.2 481.9h1.0M136.0 476.4h1.0M143.2 475.5h1.0M127.3 463.3h1.0M130.6 482.6h1.0M158.8 473.1h1.0M136.6 473.0h1.0M122.3 442.6h1.0M130.1 460.6h1.0M137.3 474.3h1.0M127.3 468.8h1.0M127.9 494.6h1.0M113.5 480.3h1.0M142.7 483.6h1.0M147.3 460.5h1.0M123.2 452.4h1.0M148.1 466.0h1.0M131.8 451.3h1.0M133.6 474.6h1.0M140.3 487.1h1.0M134.1 473.2h1.0M148.2 476.1h1.0M147.7 478.1h1.0M134.4 475.6h1.0M149.2 474.6h1.0M110.5 479.7h1.0M135.7 483.6h1.0M141.4 469.7h1.0M138.9 487.3h1.0M141.0 479.4h1.0M163.1 466.5h1.0M134.1 459.7h1.0M141.8 461.9h1.0M125.0 456.3h1.0M125.8 485.4h1.0M142.9 470.7h1.0M132.7 480.3h1.0M136.8 474.9h1.0M143.7 488.5h1.0M144.6 467.2h1.0M137.4 459.9h1.0M141.7 468.3h1.0M140.9 466.2h1.0M127.4 466.7h1.0M143.2 482.8h1.0M147.2 483.3h1.0M129.1 468.0h1.0M135.9 489.4h1.0M148.6 468.9h1.0M147.1 470.9h1.0M153.4 488.4h1.0M143.0 479.3h1.0M139.7 466.5h1.0M144.4 475.4h1.0M121.9 476.3h1.0M142.3 477.4h1.0M155.2 470.3h1.0M157.5 485.5h1.0M136.9 472.5h1.0M127.5 483.8h1.0M149.1 500.6h1.0M129.2 487.2h1.0M130.8 474.9h1.0M134.6 477.4h1.0M157.1 456.5h1.0M141.2 474.2h1.0M129.4 470.7h1.0M143.0 451.7h1.0M141.3 454.2h1.0M140.0 457.9h1.0M146.2 479.3h1.0M141.9 488.1h1.0M131.5 453.3h1.0M135.2 464.5h1.0M115.2 479.2h1.0M141.0 485.8h1.0M143.7 476.2h1.0M139.0 492.3h1.0M146.4 470.7h1.0M151.5 494.8h1.0M137.0 494.7h1.0M155.9 478.0h1.0M135.3 478.7h1.0M139.8 444.4h1.0M132.5 483.1h1.0M150.7 461.2h1.0M126.5 468.6h1.0M152.9 484.6h1.0M129.7 468.2h1.0M150.7 478.7h1.0M140.3 459.8h1.0M147.0 469.9h1.0M137.8 479.7h1.0M147.5 474.3h1.0M127.3 460.9h1.0M148.8 483.1h1.0M137.8 492.7h1.0M137.7 460.3h1.0M140.1 486.4h1.0M126.0 491.1h1.0M136.7 475.3h1.0M129.1 475.2h1.0M134.8 467.8h1.0M132.7 461.4h1.0M130.2 472.8h1.0M136.2 481.7h1.0M130.0 471.6h1.0M140.3 476.0h1.0M134.2 487.5h1.0M150.7 474.4h1.0M143.4 480.2h1.0M139.3 487.6h1.0M145.2 467.9h1.0M141.7 472.0h1.0M128.8 453.4h1.0M143.6 463.1h1.0M142.0 478.2h1.0M130.1 480.2h1.0M135.5 464.8h1.0M164.6 480.8h1.0M150.3 473.0h1.0M145.5 475.2h1.0M158.1 477.7h1.0M149.4 457.4h1.0M143.7 468.7h1.0M126.6 459.5h1.0M135.3 463.6h1.0M141.2 469.4h1.0M147.9 460.7h1.0M143.2 472.5h1.0M139.0 465.6h1.0M140.5 477.7h1.0M134.6 474.0h1.0M136.4 472.2h1.0M146.3 465.4h1.0M139.5 484.4h1.0M140.4 466.5h1.0M131.0 477.1h1.0M131.9 479.4h1.0M127.9 469.3h1.0M142.5 455.5h1.0M119.1 476.2h1.0M151.4 469.6h1.0M151.6 484.1h1.0M132.2 471.7h1.0M132.0 470.4h1.0M154.1 475.0h1.0M132.1 469.0h1.0M125.9 475.0h1.0M139.7 457.9h1.0M147.9 472.1h1.0M128.7 468.5h1.0M139.8 462.4h1.0M123.3 463.1h1.0M127.8 481.3h1.0M132.4 478.3h1.0M154.2 484.2h1.0M150.2 477.7h1.0M141.1 479.4h1.0M122.0 481.2h1.0M146.8 494.7h1.0M138.8 473.1h1.0M155.8 477.7h1.0M143.0 455.8h1.0M147.0 472.6h1.0M135.3 464.0h1.0M145.4 467.2h1.0M142.1 475.5h1.0M132.6 457.3h1.0M144.4 480.4h1.0M142.6 466.0h1.0M134.3 474.5h1.0M149.1 489.3h1.0M127.3 473.3h1.0M137.3 485.1h1.0M154.2 486.9h1.0M125.4 454.2h1.0M153.2 479.4h1.0M142.1 480.1h1.0M130.8 466.8h1.0M136.3 460.8h1.0M150.7 472.3h1.0M141.8 473.7h1.0M135.5 470.0h1.0M127.1 459.9h1.0M138.8 471.7h1.0M138.8 481.3h1.0M133.9 459.4h1.0M141.0 466.6h1.0M139.3 484.7h1.0M139.0 484.6h1.0M136.5 463.0h1.0M124.8 491.7h1.0M142.6 458.0h1.0M143.0 478.4h1.0M143.9 483.4h1.0M132.7 472.1h1.0M144.7 460.3h1.0M132.5 497.0h1.0M147.3 484.8h1.0M148.2 490.6h1.0M118.2 461.6h1.0M138.0 461.7h1.0M144.1 466.9h1.0M137.8 460.2h1.0M151.9 484.8h1.0M115.7 458.4h1.0M154.1 470.0h1.0M137.9 471.7h1.0M126.9 468.1h1.0M131.0 486.1h1.0M133.3 472.3h1.0M129.2 474.5h1.0M147.5 480.9h1.0M145.8 478.7h1.0M133.2 459.1h1.0M139.1 477.4h1.0M134.8 466.5h1.0M141.2 475.3h1.0M129.3 458.3h1.0M129.9 477.4h1.0M145.3 481.0h1.0M128.9 461.2h1.0M135.6 446.7h1.0M151.8 498.3h1.0M142.8 477.1h1.0M142.5 468.4h1.0M136.8 483.9h1.0M146.6 481.1h1.0M141.0 459.3h1.0M137.5 467.9h1.0M157.2 460.5h1.0M129.3 468.6h1.0M158.8 461.8h1.0M146.9 481.1h1.0M156.4 464.9h1.0M143.9 482.6h1.0M154.2 476.0h1.0M135.1 453.7h1.0M160.0 472.1h1.0M126.2 477.2h1.0M133.5 476.8h1.0M135.3 481.1h1.0M139.6 458.9h1.0M143.6 461.9h1.0M148.8 499.8h1.0M143.4 463.2h1.0M141.7 476.8h1.0M122.6 475.3h1.0M133.8 476.9h1.0M127.3 469.5h1.0M146.8 471.2h1.0M139.5 479.5h1.0M138.8 459.3h1.0M124.5 478.9h1.0M147.3 465.1h1.0M122.9 472.2h1.0M127.9 466.5h1.0M116.1 453.7h1.0M130.4 467.0h1.0M158.9 473.7h1.0M158.6 490.7h1.0M148.2 449.8h1.0M140.7 473.4h1.0M142.2 470.3h1.0M133.6 475.6h1.0M131.4 450.1h1.0M130.6 466.4h1.0M144.6 473.2h1.0M132.3 472.4h1.0M129.4 465.3h1.0M132.7 450.2h1.0M118.6 479.7h1.0M132.4 471.2h1.0M142.6 455.1h1.0M139.4 459.7h1.0M120.5 475.0h1.0M139.4 469.7h1.0M159.0 502.5h1.0M141.6 490.1h1.0M146.4 465.5h1.0M132.8 463.2h1.0M136.0 449.9h1.0M145.8 473.3h1.0M150.1 460.7h1.0M138.4 475.0h1.0M139.7 468.4h1.0M146.2 473.8h1.0M131.4 460.1h1.0M133.9 460.9h1.0M145.2 489.3h1.0M148.4 461.1h1.0M127.9 478.7h1.0M141.5 490.3h1.0M157.3 467.7h1.0M146.1 460.7h1.0M143.5 460.5h1.0M122.4 488.0h1.0M134.5 466.0h1.0M137.4 499.6h1.0M140.7 472.2h1.0M116.4 478.4h1.0M155.9 457.7h1.0M140.0 466.1h1.0M141.8 470.3h1.0M112.3 474.5h1.0M119.6 445.7h1.0M144.8 477.9h1.0M138.3 460.2h1.0M144.3 474.3h1.0M139.1 454.5h1.0M149.3 455.9h1.0M155.0 465.8h1.0M137.2 469.5h1.0M117.5 474.8h1.0M140.8 473.9h1.0M144.5 465.9h1.0M136.9 463.9h1.0M162.2 487.5h1.0M142.5 483.9h1.0M148.6 456.3h1.0M134.4 464.0h1.0M146.8 470.1h1.0M143.7 476.2h1.0M139.2 461.6h1.0M138.2 470.1h1.0M132.3 471.6h1.0M161.0 487.0h1.0M148.9 467.1h1.0M145.3 450.5h1.0M147.4 471.0h1.0M131.5 471.5h1.0M134.9 492.4h1.0M135.8 483.1h1.0M138.2 476.8h1.0M149.9 480.3h1.0M128.9 470.3h1.0M132.8 490.7h1.0M115.3 456.9h1.0M140.6 476.5h1.0M131.9 465.8h1.0M122.7 471.7h1.0M137.0 478.0h1.0M127.8 470.5h1.0M130.7 467.3h1.0M139.3 477.1h1.0M140.4 471.9h1.0M131.6 460.6h1.0M140.2 459.1h1.0M149.3 472.5h1.0M146.6 474.0h1.0M138.9 462.9h1.0M139.1 487.9h1.0M129.0 475.6h1.0M143.9 476.5h1.0M159.1 458.6h1.0M117.9 462.0h1.0M139.1 458.9h1.0M120.5 470.8h1.0M157.0 470.3h1.0M136.1 478.9h1.0M144.9 463.5h1.0M129.3 472.6h1.0M124.7 454.5h1.0M133.5 474.1h1.0M156.0 470.3h1.0M146.3 467.9h1.0M153.0 485.6h1.0M142.2 456.2h1.0M135.3 462.6h1.0M128.3 477.0h1.0M140.6 475.2h1.0M144.6 482.0h1.0M136.6 468.2h1.0M144.6 483.8h1.0M135.4 457.6h1.0M155.0 484.2h1.0M146.5 469.8h1.0M129.6 445.6h1.0M132.5 481.3h1.0M147.9 478.9h1.0M128.6 456.2h1.0M151.6 463.9h1.0M135.0 457.8h1.0M135.4 473.8h1.0M136.9 472.1h1.0M128.6 470.9h1.0M140.0 477.3h1.0M138.1 469.0h1.0M131.6 468.0h1.0M136.9 458.0h1.0M159.2 471.4h1.0M126.9 464.4h1.0M132.9 493.2h1.0M127.6 467.7h1.0M158.1 463.5h1.0M129.2 468.9h1.0M118.6 471.9h1.0M142.0 480.9h1.0M126.9 460.1h1.0M148.7 479.9h1.0M130.3 489.0h1.0M148.7 479.7h1.0M125.1 485.6h1.0M134.2 472.1h1.0M133.3 462.7h1.0M143.1 493.8h1.0M145.1 500.5h1.0M121.9 483.0h1.0M133.8 460.0h1.0M132.2 471.1h1.0M146.7 477.6h1.0M148.8 482.4h1.0M141.3 475.3h1.0M136.8 470.6h1.0M151.7 455.5h1.0M151.8 458.3h1.0M153.1 482.3h1.0M157.2 479.5h1.0M141.7 465.0h1.0M148.4 458.0h1.0M127.4 460.9h1.0M115.7 479.4h1.0M118.8 472.3h1.0M156.6 486.5h1.0M139.3 474.4h1.0M136.0 459.7h1.0M144.9 442.0h1.0M149.2 477.4h1.0M144.3 477.0h1.0M132.1 465.8h1.0M149.2 475.6h1.0M133.2 459.9h1.0M148.1 448.6h1.0M142.7 471.6h1.0M141.8 486.8h1.0M141.6 458.0h1.0M113.0 466.8h1.0M139.1 478.8h1.0M140.0 469.3h1.0M140.8 459.6h1.0M141.5 474.4h1.0M128.4 463.2h1.0M128.2 470.1h1.0M137.6 464.0h1.0M142.0 491.5h1.0M143.0 458.1h1.0M126.2 463.9h1.0M142.4 484.8h1.0M144.1 471.0h1.0M130.0 488.6h1.0M125.1 470.0h1.0M142.0 489.1h1.0M141.5 471.7h1.0M127.7 473.7h1.0M144.7 473.1h1.0M148.1 466.1h1.0M129.6 466.1h1.0M146.4 480.3h1.0M149.1 479.5h1.0M152.3 473.8h1.0M137.5 491.0h1.0M115.9 474.5h1.0M122.3 465.7h1.0M122.9 472.7h1.0M124.3 467.2h1.0M141.4 470.4h1.0M138.2 469.1h1.0M165.3 464.2h1.0M139.7 474.7h1.0M140.0 471.3h1.0M148.7 477.0h1.0M149.9 488.4h1.0M151.3 450.6h1.0M122.0 471.5h1.0M140.7 466.2h1.0M160.5 477.8h1.0M117.6 486.5h1.0M137.3 499.2h1.0M118.4 476.2h1.0M133.9 476.9h1.0M137.6 476.5h1.0M154.8 485.5h1.0M127.3 468.3h1.0M151.4 476.3h1.0M129.2 459.7h1.0M134.4 481.4h1.0M122.3 457.1h1.0M131.4 479.3h1.0M136.3 479.6h1.0M124.3 471.8h1.0M136.6 475.1h1.0M147.2 473.8h1.0M121.9 462.6h1.0M144.9 481.0h1.0M138.8 490.6h1.0M148.3 479.1h1.0M140.2 471.7h1.0M150.0 464.8h1.0M145.3 466.6h1.0M131.6 450.7h1.0M132.6 459.2h1.0M143.1 487.6h1.0M133.9 486.9h1.0M150.3 469.0h1.0M131.4 491.6h1.0M133.1 452.6h1.0M128.0 470.9h1.0M134.9 480.7h1.0M156.8 493.8h1.0M127.4 451.9h1.0M146.4 487.5h1.0M152.9 463.1h1.0M145.9 470.9h1.0M133.7 476.1h1.0M151.2 487.1h1.0M140.2 463.3h1.0M149.7 493.6h1.0M135.9 479.6h1.0M143.7 454.4h1.0M143.0 453.5h1.0M125.9 461.2h1.0M121.4 465.6h1.0M144.2 476.7h1.0M137.3 471.3h1.0M135.1 474.0h1.0M138.5 463.7h1.0M136.1 460.0h1.0M136.9 481.9h1.0M135.4 482.4h1.0M120.1 466.1h1.0M133.0 467.4h1.0M130.1 488.9h1.0M131.8 459.0h1.0M154.1 488.2h1.0M117.6 459.6h1.0M141.5 448.8h1.0M143.0 457.5h1.0M136.7 498.8h1.0M151.9 462.3h1.0M126.4 461.3h1.0M135.4 499.8h1.0M123.6 468.2h1.0M115.7 470.1h1.0M150.0 453.6h1.0M139.6 480.4h1.0M133.5 460.6h1.0M147.7 479.4h1.0M117.4 456.0h1.0M127.0 467.9h1.0M138.3 473.5h1.0M132.4 488.7h1.0M138.6 469.3h1.0M134.8 479.7h1.0M128.7 461.7h1.0M135.9 459.6h1.0M141.8 483.0h1.0M140.6 465.3h1.0M146.1 480.0h1.0M141.4 483.2h1.0M136.4 456.5h1.0M144.9 484.7h1.0M140.7 477.3h1.0M128.8 483.2h1.0M145.3 459.4h1.0M127.3 475.7h1.0M141.1 493.1h1.0M130.4 484.4h1.0M140.9 458.9h1.0M130.0 471.0h1.0M129.2 465.1h1.0M145.0 464.4h1.0M139.3 483.6h1.0M133.2 482.9h1.0M149.3 459.5h1.0M136.3 484.1h1.0M128.1 480.9h1.0M132.3 470.7h1.0M122.2 464.3h1.0M143.7 474.9h1.0M127.7 478.1h1.0M138.3 483.1h1.0M144.4 471.1h1.0M134.7 484.9h1.0M132.9 496.5h1.0M158.2 471.0h1.0M123.2 476.1h1.0M147.5 469.0h1.0M142.0 457.9h1.0M132.3 474.2h1.0M143.2 480.7h1.0M139.3 467.3h1.0M134.6 489.6h1.0M148.3 464.9h1.0M145.2 471.2h1.0M134.7 474.2h1.0M129.2 481.8h1.0M146.5 465.4h1.0M140.6 463.5h1.0M119.6 455.2h1.0M151.9 464.4h1.0M151.7 478.7h1.0M150.0 504.5h1.0M143.7 477.3h1.0M148.8 464.0h1.0M140.4 462.8h1.0M146.6 455.1h1.0M136.3 459.6h1.0M150.8 459.9h1.0M139.3 472.6h1.0M133.7 451.6h1.0M138.5 477.8h1.0M142.9 474.5h1.0M141.6 470.9h1.0M135.1 449.2h1.0M135.4 450.1h1.0M140.9 488.4h1.0M143.5 463.9h1.0M133.4 490.0h1.0M145.3 475.9h1.0M146.6 474.4h1.0M150.0 479.8h1.0M136.8 463.6h1.0M140.1 482.1h1.0M138.2 457.0h1.0M145.7 472.8h1.0M136.1 456.5h1.0M146.1 457.3h1.0M120.7 476.8h1.0M141.3 460.7h1.0M129.5 488.0h1.0M120.7 480.0h1.0M125.9 466.4h1.0M140.4 479.8h1.0M142.5 493.8h1.0M129.1 475.0h1.0M130.7 457.5h1.0M140.1 466.2h1.0M148.9 495.8h1.0M136.0 462.3h1.0M137.5 486.8h1.0M129.5 451.1h1.0M133.7 473.0h1.0M150.9 483.2h1.0M128.6 478.2h1.0M158.0 480.5h1.0M152.2 476.3h1.0M134.5 480.1h1.0M141.1 473.2h1.0M143.8 467.4h1.0M146.1 495.5h1.0M134.5 473.6h1.0M131.2 496.8h1.0M142.0 461.7h1.0M145.0 474.3h1.0M143.0 474.9h1.0M116.2 466.2h1.0M135.7 488.0h1.0M142.5 458.1h1.0M138.1 471.0h1.0M146.3 467.5h1.0M127.4 458.4h1.0M133.1 473.7h1.0M165.3 489.3h1.0M148.8 476.1h1.0M145.8 477.0h1.0M134.3 466.5h1.0M144.2 488.7h1.0M151.8 481.3h1.0M144.1 458.2h1.0M129.1 468.2h1.0M127.6 481.3h1.0M155.6 471.5h1.0M144.2 483.5h1.0M160.7 492.7h1.0M142.8 465.8h1.0M150.8 458.4h1.0M117.4 460.8h1.0M129.1 479.0h1.0M135.8 490.9h1.0M143.8 463.2h1.0M130.5 479.7h1.0M134.0 458.6h1.0M138.3 458.1h1.0M125.5 460.8h1.0M131.5 460.8h1.0M131.8 468.2h1.0M150.5 480.4h1.0M128.7 470.8h1.0M162.4 484.2h1.0M124.1 486.1h1.0M134.6 473.8h1.0M120.4 482.3h1.0M125.8 456.3h1.0M152.0 452.6h1.0M126.7 463.0h1.0M135.2 457.4h1.0M145.7 467.1h1.0M136.1 469.9h1.0M137.8 464.8h1.0M128.4 461.1h1.0M120.2 470.4h1.0M122.1 477.1h1.0M139.6 460.1h1.0M123.4 477.0h1.0M128.4 480.6h1.0M127.8 469.0h1.0M140.9 481.4h1.0M146.6 487.7h1.0M128.7 487.2h1.0M123.9 483.6h1.0M145.4 477.9h1.0M139.0 474.6h1.0M139.0 469.7h1.0M125.4 482.6h1.0M136.6 472.8h1.0M138.5 474.5h1.0M115.0 460.6h1.0M137.3 470.6h1.0M139.3 472.4h1.0M135.9 466.5h1.0M145.6 481.9h1.0M139.6 467.2h1.0M153.6 445.3h1.0M137.4 491.5h1.0M144.6 464.3h1.0M150.8 464.9h1.0M149.2 477.5h1.0M136.0 461.5h1.0M140.5 479.1h1.0M134.9 457.7h1.0M134.0 484.6h1.0M143.6 469.1h1.0M143.1 483.3h1.0M126.8 470.6h1.0M142.7 478.5h1.0M155.5 469.4h1.0M157.1 481.6h1.0M123.4 479.1h1.0M153.6 483.1h1.0M140.8 465.2h1.0M135.6 467.1h1.0M141.5 466.0h1.0M153.2 468.3h1.0M138.2 468.5h1.0M138.6 468.4h1.0M141.6 465.7h1.0M150.3 463.8h1.0M133.0 468.0h1.0M124.1 473.0h1.0M129.8 479.8h1.0M134.1 466.6h1.0M133.2 487.8h1.0M147.3 478.3h1.0M142.1 471.2h1.0M142.8 450.7h1.0M128.0 460.5h1.0M148.4 473.4h1.0M147.1 473.3h1.0M154.6 471.9h1.0M152.5 467.9h1.0M126.6 475.3h1.0M131.2 470.9h1.0M149.2 474.9h1.0M136.3 481.7h1.0M141.9 477.8h1.0M124.6 476.4h1.0M143.6 462.1h1.0M141.8 455.3h1.0M136.0 495.3h1.0M151.9 461.4h1.0M134.1 478.2h1.0M122.0 462.2h1.0M142.5 465.2h1.0M138.2 465.4h1.0M129.7 475.8h1.0M124.1 478.6h1.0M126.1 473.2h1.0M127.0 469.1h1.0M140.4 481.9h1.0M139.4 463.6h1.0M124.3 464.2h1.0M120.9 473.8h1.0M133.5 462.0h1.0M123.7 463.1h1.0M129.8 452.0h1.0M138.9 477.3h1.0M153.4 489.7h1.0M144.3 470.6h1.0M131.3 461.0h1.0M139.0 461.0h1.0M140.0 471.1h1.0M137.3 462.9h1.0M140.6 457.0h1.0M121.6 473.9h1.0M145.6 494.4h1.0M126.9 472.2h1.0M136.6 456.5h1.0M141.2 475.9h1.0M141.0 473.4h1.0M134.5 463.4h1.0M136.8 453.8h1.0M132.0 468.3h1.0M166.1 483.7h1.0M164.9 474.5h1.0M138.1 491.9h1.0M132.2 482.8h1.0M146.8 479.4h1.0M130.0 480.4h1.0M134.8 471.6h1.0M137.2 468.4h1.0M144.4 474.1h1.0M123.3 468.4h1.0M146.8 462.0h1.0M128.0 481.7h1.0M144.7 470.9h1.0M133.8 474.1h1.0M150.1 484.8h1.0M129.9 467.3h1.0M138.2 485.7h1.0M116.5 452.3h1.0M147.8 459.9h1.0M120.5 483.1h1.0M148.4 496.6h1.0M128.5 461.9h1.0M128.5 462.9h1.0M123.9 469.3h1.0M142.9 468.8h1.0M127.5 481.4h1.0M145.0 468.5h1.0M138.3 493.0h1.0M144.7 467.8h1.0M146.7 475.4h1.0M137.6 482.7h1.0M143.8 490.3h1.0M145.4 467.9h1.0M124.4 458.2h1.0M153.7 464.6h1.0M146.7 486.3h1.0M126.2 481.0h1.0M130.6 456.9h1.0M150.0 482.5h1.0M134.2 469.1h1.0M148.7 489.2h1.0M133.8 478.4h1.0M143.4 458.7h1.0M137.3 473.2h1.0M140.6 478.2h1.0M141.1 477.9h1.0M151.7 480.1h1.0M132.9 478.7h1.0M119.7 463.4h1.0M130.3 472.2h1.0M158.9 458.5h1.0M153.3 489.0h1.0M146.1 468.7h1.0M137.7 482.5h1.0M152.5 481.3h1.0M128.8 461.1h1.0M130.2 464.6h1.0M143.0 476.3h1.0M132.0 468.6h1.0M144.1 457.2h1.0M121.8 502.4h1.0M140.2 472.4h1.0M132.8 478.3h1.0M126.9 461.4h1.0M121.5 466.0h1.0M142.5 490.3h1.0M163.1 472.8h1.0M138.0 489.4h1.0M136.9 472.2h1.0M138.5 469.0h1.0M143.7 466.5h1.0M144.1 467.5h1.0M133.6 465.4h1.0M136.4 461.1h1.0M138.5 466.0h1.0M123.6 461.5h1.0M127.7 462.7h1.0M142.9 459.2h1.0M132.6 467.2h1.0M159.2 483.5h1.0M151.2 472.9h1.0M139.7 483.2h1.0M108.9 475.2h1.0M144.9 477.0h1.0M150.6 456.5h1.0M134.6 474.9h1.0M137.1 471.5h1.0M148.2 484.6h1.0M151.8 475.4h1.0M133.8 477.0h1.0M145.4 468.5h1.0M140.9 455.5h1.0M134.1 450.7h1.0M149.2 478.5h1.0M130.6 469.3h1.0M144.1 471.4h1.0M131.4 465.8h1.0M133.1 473.1h1.0M124.5 470.0h1.0M120.2 470.9h1.0M125.0 479.8h1.0M144.2 476.0h1.0M137.0 461.3h1.0M145.8 483.8h1.0M130.6 468.3h1.0M145.1 468.5h1.0M139.6 459.7h1.0M151.4 477.0h1.0M132.5 469.3h1.0M146.5 470.1h1.0M139.0 472.2h1.0M141.4 471.3h1.0M129.9 484.7h1.0M156.3 465.4h1.0M145.1 470.0h1.0M150.6 461.5h1.0M128.1 471.6h1.0M125.2 461.9h1.0M136.3 457.5h1.0M130.1 473.7h1.0M141.5 464.2h1.0M137.9 467.3h1.0M135.8 470.4h1.0M145.0 465.3h1.0M141.9 457.2h1.0M147.3 474.8h1.0M128.7 478.8h1.0M126.4 477.5h1.0M147.8 492.4h1.0M140.8 466.9h1.0M134.7 469.7h1.0M125.9 471.5h1.0M126.9 468.8h1.0M142.9 449.0h1.0M154.8 461.5h1.0M131.3 464.2h1.0M145.9 466.8h1.0M136.6 448.2h1.0M116.4 473.3h1.0M143.0 462.4h1.0M131.5 496.5h1.0M133.1 479.8h1.0M140.7 489.1h1.0M119.6 459.6h1.0M149.5 465.1h1.0M134.8 478.3h1.0M113.9 463.4h1.0M141.5 474.4h1.0M137.4 469.5h1.0M135.4 482.8h1.0M121.4 463.7h1.0M132.4 472.6h1.0M133.5 457.9h1.0M134.4 469.5h1.0M131.0 455.6h1.0M151.1 483.5h1.0M147.4 477.2h1.0M142.5 477.4h1.0M126.1 466.5h1.0M165.4 463.1h1.0M131.0 495.9h1.0M127.1 467.8h1.0M128.3 453.3h1.0M142.7 459.7h1.0M158.9 468.6h1.0M139.6 478.1h1.0M128.3 485.5h1.0M153.5 470.2h1.0M136.3 470.0h1.0M135.6 471.0h1.0M137.9 476.2h1.0M126.1 479.5h1.0M136.1 469.0h1.0M143.6 458.9h1.0M122.1 471.3h1.0M154.9 486.7h1.0M134.1 486.9h1.0M139.1 476.7h1.0M130.6 469.6h1.0M146.3 483.6h1.0M129.5 474.0h1.0M134.9 465.4h1.0M144.3 492.6h1.0M145.3 469.7h1.0M144.5 459.3h1.0M145.4 497.3h1.0M142.9 477.2h1.0M145.0 487.8h1.0M130.0 483.9h1.0M144.7 466.7h1.0M124.5 479.1h1.0M138.3 462.5h1.0M132.1 458.3h1.0M117.2 455.6h1.0M137.9 477.0h1.0M155.9 455.5h1.0M122.4 468.2h1.0M143.2 459.5h1.0M134.9 464.3h1.0M149.1 456.3h1.0M114.2 465.0h1.0M138.2 459.8h1.0M131.2 472.9h1.0M146.7 469.9h1.0M120.6 478.8h1.0M119.1 479.8h1.0M137.9 501.1h1.0M130.0 481.2h1.0M137.1 471.5h1.0M135.4 456.8h1.0M130.6 473.9h1.0M137.7 455.5h1.0M135.1 484.1h1.0M135.4 469.2h1.0M150.4 477.9h1.0M129.6 467.2h1.0M144.8 473.8h1.0M132.6 476.1h1.0M143.1 490.9h1.0M148.8 480.0h1.0M132.3 457.7h1.0M138.2 476.2h1.0M139.6 456.4h1.0M145.0 477.6h1.0M125.3 449.8h1.0M119.0 485.1h1.0M161.0 485.6h1.0M121.6 470.3h1.0M136.9 457.7h1.0M136.6 455.3h1.0M142.4 467.0h1.0M136.2 461.0h1.0M143.8 458.6h1.0M138.3 462.4h1.0M136.4 464.4h1.0M136.3 475.9h1.0M143.7 467.7h1.0M146.5 479.5h1.0M130.4 481.8h1.0M141.0 469.5h1.0M133.2 481.5h1.0M152.6 461.6h1.0M139.3 472.6h1.0M136.5 456.2h1.0M148.5 489.8h1.0M146.9 482.0h1.0M125.3 476.6h1.0M129.2 468.1h1.0M139.2 461.4h1.0M149.9 469.3h1.0M110.6 462.7h1.0M138.1 469.6h1.0M159.6 473.1h1.0M126.6 457.4h1.0M121.8 486.1h1.0M137.0 472.1h1.0M131.8 470.6h1.0M135.4 480.8h1.0M134.8 463.3h1.0M123.6 469.5h1.0M135.1 478.1h1.0M127.4 464.9h1.0M145.4 471.3h1.0M139.2 460.6h1.0M114.3 499.0h1.0M122.5 466.5h1.0M145.5 490.0h1.0M130.2 472.5h1.0M137.0 487.9h1.0M138.2 476.4h1.0M132.4 473.5h1.0M137.6 472.7h1.0M145.2 467.9h1.0M130.3 453.2h1.0M121.3 482.8h1.0M145.7 454.3h1.0M129.1 468.6h1.0M143.2 478.6h1.0M137.5 456.3h1.0M133.4 463.3h1.0M154.3 487.4h1.0M122.1 462.2h1.0M141.5 478.5h1.0M126.0 490.8h1.0M157.9 466.0h1.0M136.0 481.5h1.0M162.5 486.8h1.0M134.8 461.4h1.0M131.8 463.0h1.0M129.5 471.0h1.0M129.4 451.9h1.0M130.2 454.6h1.0M122.5 499.3h1.0M131.5 443.0h1.0M142.1 466.4h1.0M134.6 470.2h1.0M154.2 480.7h1.0M141.7 463.9h1.0M133.5 475.9h1.0M122.0 487.4h1.0M140.3 479.0h1.0M137.5 454.8h1.0M147.3 462.3h1.0M135.2 472.9h1.0M122.5 445.4h1.0M146.7 482.9h1.0M134.4 469.0h1.0M135.8 482.6h1.0M149.1 465.1h1.0M149.1 466.4h1.0M156.8 464.8h1.0M141.2 474.4h1.0M139.9 475.5h1.0M149.0 464.4h1.0M142.2 478.5h1.0M143.1 473.7h1.0M127.8 491.6h1.0M141.8 461.4h1.0M137.3 472.4h1.0M147.5 476.7h1.0M123.2 473.7h1.0M147.1 458.9h1.0M133.7 460.7h1.0M138.9 450.7h1.0M136.6 484.6h1.0M138.5 473.3h1.0M135.0 473.5h1.0M137.9 480.8h1.0M141.3 466.5h1.0M143.4 464.5h1.0M128.3 457.6h1.0M144.9 488.2h1.0M123.0 456.5h1.0M144.8 479.4h1.0M113.3 469.2h1.0M159.0 462.5h1.0M121.2 469.2h1.0M127.8 479.8h1.0M134.4 470.7h1.0M129.3 470.5h1.0M130.4 469.1h1.0M137.4 460.5h1.0M142.1 479.3h1.0M144.3 470.0h1.0M145.1 455.7h1.0M151.1 476.3h1.0M134.3 482.6h1.0M149.1 489.4h1.0M131.9 459.5h1.0M144.0 464.1h1.0M137.6 471.9h1.0M139.5 493.5h1.0M140.7 464.5h1.0M131.3 479.5h1.0M137.8 469.8h1.0M130.9 454.6h1.0M153.0 473.3h1.0M139.2 487.6h1.0M138.1 472.7h1.0M134.3 467.0h1.0M126.3 480.9h1.0M129.0 486.9h1.0M117.7 476.9h1.0M142.1 474.1h1.0M138.2 466.3h1.0M121.1 471.0h1.0M120.5 479.6h1.0M142.3 484.6h1.0M148.0 476.7h1.0M148.3 489.4h1.0M146.4 461.9h1.0M135.8 462.4h1.0M129.7 472.2h1.0M141.8 467.6h1.0M149.7 474.0h1.0M142.6 464.7h1.0M141.4 469.7h1.0M140.5 472.1h1.0M140.5 479.2h1.0M126.4 475.5h1.0M118.5 478.2h1.0M118.8 472.8h1.0M149.0 467.6h1.0M144.3 480.7h1.0M145.2 478.9h1.0M122.0 466.9h1.0M140.3 477.4h1.0M146.0 479.1h1.0M127.1 472.9h1.0M143.5 457.8h1.0M141.9 472.7h1.0M122.2 460.1h1.0M137.0 462.7h1.0M160.4 475.9h1.0M151.6 487.9h1.0M137.7 466.0h1.0M134.2 472.9h1.0M123.2 457.1h1.0M130.2 474.8h1.0M155.0 465.1h1.0M139.2 492.6h1.0M134.7 465.5h1.0M129.9 460.4h1.0M155.7 477.5h1.0M121.2 478.6h1.0M142.2 476.1h1.0M116.2 467.4h1.0M140.4 453.8h1.0M144.3 489.8h1.0M127.2 462.4h1.0M139.8 467.2h1.0M144.1 459.5h1.0M140.5 463.4h1.0M126.7 457.6h1.0M129.9 466.3h1.0M123.2 466.4h1.0M138.0 487.7h1.0M145.9 465.5h1.0M138.6 442.5h1.0M130.2 476.2h1.0M143.5 481.9h1.0M155.1 494.1h1.0M144.0 471.9h1.0M142.5 479.8h1.0M146.9 484.9h1.0M147.9 468.2h1.0M139.6 463.8h1.0M146.4 483.5h1.0M140.4 477.8h1.0M140.8 458.8h1.0M156.0 482.2h1.0M150.7 476.0h1.0M139.4 450.9h1.0M132.6 482.6h1.0M137.5 471.6h1.0M124.7 463.9h1.0M114.2 484.1h1.0M127.3 471.2h1.0M138.5 450.8h1.0M132.4 466.6h1.0M120.5 466.7h1.0M151.9 475.9h1.0M150.2 464.3h1.0M144.6 477.2h1.0M133.1 473.0h1.0M143.5 473.9h1.0M123.0 484.4h1.0M152.2 472.8h1.0M142.0 483.8h1.0M161.7 457.4h1.0M125.8 470.3h1.0M156.0 486.8h1.0M138.4 467.8h1.0M124.8 452.0h1.0M126.3 479.0h1.0M138.5 484.6h1.0M141.4 487.8h1.0M138.3 481.5h1.0M145.0 464.5h1.0M132.8 466.2h1.0M148.7 474.3h1.0M143.5 488.6h1.0M135.5 456.8h1.0M139.2 456.7h1.0M146.4 481.6h1.0M135.5 452.8h1.0M133.2 488.3h1.0M136.6 468.5h1.0M137.9 474.7h1.0M157.1 466.1h1.0M131.2 467.2h1.0M128.1 463.8h1.0M150.6 466.7h1.0M147.8 482.1h1.0M136.0 463.8h1.0M126.6 463.6h1.0M146.1 462.2h1.0M148.3 474.4h1.0M155.1 499.0h1.0M144.4 483.8h1.0M137.8 482.7h1.0M132.4 478.8h1.0M144.2 479.5h1.0M130.5 466.1h1.0M152.5 476.8h1.0M147.4 467.2h1.0M141.2 470.5h1.0M145.0 479.3h1.0M132.1 490.5h1.0M141.2 468.8h1.0M149.7 461.4h1.0M136.1 486.6h1.0M154.9 461.1h1.0M132.5 449.4h1.0M153.2 476.8h1.0M123.3 489.1h1.0M143.0 475.2h1.0M149.5 471.0h1.0M140.0 461.5h1.0M134.6 478.9h1.0M148.3 478.0h1.0M130.7 479.5h1.0M144.4 462.6h1.0M121.5 482.5h1.0M141.1 474.3h1.0M118.6 478.1h1.0M131.0 479.6h1.0M151.1 470.0h1.0M151.3 453.1h1.0M139.2 478.7h1.0M141.9 453.4h1.0M142.5 464.3h1.0M138.7 469.1h1.0M129.6 483.7h1.0M131.7 454.1h1.0M134.0 482.9h1.0M133.2 484.4h1.0M132.3 488.1h1.0M140.6 480.6h1.0M133.9 458.8h1.0M138.1 464.1h1.0M134.0 477.5h1.0M139.5 473.5h1.0M144.3 478.5h1.0M146.0 488.9h1.0M142.3 473.1h1.0M147.5 470.3h1.0M124.6 484.8h1.0M128.2 476.5h1.0M162.3 492.1h1.0M149.3 441.9h1.0M143.9 467.3h1.0M131.1 474.3h1.0M125.5 473.9h1.0M130.2 464.5h1.0M132.3 480.5h1.0M138.3 487.0h1.0M152.0 468.8h1.0M126.7 478.9h1.0M135.6 476.4h1.0M135.9 470.4h1.0M141.2 476.5h1.0M148.5 484.7h1.0M143.8 465.9h1.0M144.1 471.4h1.0M115.4 463.7h1.0M128.4 460.5h1.0M145.3 465.3h1.0M119.3 454.0h1.0M128.1 463.8h1.0M140.7 491.2h1.0M144.9 476.9h1.0M128.1 468.2h1.0M141.6 484.7h1.0M135.9 466.6h1.0M140.4 474.0h1.0M159.1 455.4h1.0M134.8 486.0h1.0M144.6 469.7h1.0M148.4 491.1h1.0M117.3 478.2h1.0M153.1 484.8h1.0M128.3 479.8h1.0M150.6 488.9h1.0M134.8 475.0h1.0M134.2 470.8h1.0M149.6 463.2h1.0M125.7 481.2h1.0M126.1 477.2h1.0M156.2 459.4h1.0M132.6 455.8h1.0M156.5 472.3h1.0M138.4 466.0h1.0M139.6 467.9h1.0M131.2 475.8h1.0M132.2 457.0h1.0M133.4 464.0h1.0M129.4 473.1h1.0M132.5 481.1h1.0M142.5 472.6h1.0M124.4 463.3h1.0M124.5 468.3h1.0M138.3 483.2h1.0M135.1 459.3h1.0M143.7 493.7h1.0M136.5 478.3h1.0M125.1 468.5h1.0M125.7 465.0h1.0M137.0 476.4h1.0M133.7 468.4h1.0M140.2 472.1h1.0M149.9 488.1h1.0M127.1 462.2h1.0M117.9 455.5h1.0M152.5 462.8h1.0M135.9 453.2h1.0M143.1 463.8h1.0M140.8 472.1h1.0M147.6 495.1h1.0M144.1 468.2h1.0M142.4 485.6h1.0M144.1 473.2h1.0M131.7 479.4h1.0M132.9 458.7h1.0M123.3 485.8h1.0M138.9 465.7h1.0M141.1 485.2h1.0M139.7 480.9h1.0M128.0 471.4h1.0M146.1 479.4h1.0M154.7 475.4h1.0M130.7 471.2h1.0M133.4 498.9h1.0M132.4 478.1h1.0M141.0 474.1h1.0M125.0 466.2h1.0M128.8 455.1h1.0M145.2 466.6h1.0M143.5 488.0h1.0M144.9 476.6h1.0M130.3 472.7h1.0M126.9 453.6h1.0M145.6 502.1h1.0M139.0 464.2h1.0M140.0 484.5h1.0M140.8 461.4h1.0M148.3 477.1h1.0M130.1 462.6h1.0M136.7 486.9h1.0M137.3 494.8h1.0M125.6 460.2h1.0M138.0 446.9h1.0M136.9 476.8h1.0M151.7 477.4h1.0M153.9 461.7h1.0M141.9 475.0h1.0M143.2 471.3h1.0M137.0 464.8h1.0M134.8 461.3h1.0M126.3 467.5h1.0M147.6 487.1h1.0M146.3 464.2h1.0M147.8 484.5h1.0M136.3 471.5h1.0M141.4 486.6h1.0M147.3 477.9h1.0M141.6 463.8h1.0M128.9 466.5h1.0M149.3 489.3h1.0M140.4 490.8h1.0M143.9 459.3h1.0M154.1 453.0h1.0M163.5 462.0h1.0M115.7 471.3h1.0M139.5 463.8h1.0M141.0 471.9h1.0M132.4 475.2h1.0M143.9 460.9h1.0M148.0 485.3h1.0M148.1 454.5h1.0M144.6 462.5h1.0M128.7 466.3h1.0M138.2 466.6h1.0M136.8 472.9h1.0M142.3 477.8h1.0M142.4 471.0h1.0M131.4 460.8h1.0M141.2 473.9h1.0M125.1 477.7h1.0M133.0 494.9h1.0M146.1 446.0h1.0M146.0 476.7h1.0M139.3 455.7h1.0M148.7 475.0h1.0M145.5 485.9h1.0M154.6 462.1h1.0M134.0 490.0h1.0M138.6 475.6h1.0M139.0 463.3h1.0M147.4 464.0h1.0M148.1 480.5h1.0M135.3 472.3h1.0M138.1 482.7h1.0M131.7 468.4h1.0M133.1 454.7h1.0M138.0 466.7h1.0M114.5 474.2h1.0M150.1 464.3h1.0M150.8 448.7h1.0M146.7 467.5h1.0M137.6 459.7h1.0M134.6 484.0h1.0M149.7 449.5h1.0M142.9 464.9h1.0M143.5 464.1h1.0M149.4 463.0h1.0M133.5 465.0h1.0M144.7 462.6h1.0M128.2 470.6h1.0M135.4 475.2h1.0M141.5 474.6h1.0M152.8 481.6h1.0M139.6 463.9h1.0M127.6 484.5h1.0M139.8 472.7h1.0M160.3 458.9h1.0M141.8 486.3h1.0M136.1 460.3h1.0M137.8 474.7h1.0M151.4 470.0h1.0M111.2 468.5h1.0M145.3 476.8h1.0M114.8 456.9h1.0M135.9 470.8h1.0M129.3 467.2h1.0M126.4 482.4h1.0M133.3 483.2h1.0M130.3 472.5h1.0M127.3 480.5h1.0M142.7 487.3h1.0M145.1 461.7h1.0M147.8 478.0h1.0M142.5 480.7h1.0M142.3 480.1h1.0M133.8 479.2h1.0M130.4 483.1h1.0M151.0 477.4h1.0M144.6 476.0h1.0M123.8 477.9h1.0M128.5 481.4h1.0M133.1 470.0h1.0M116.7 480.1h1.0M134.3 490.8h1.0M146.9 483.7h1.0M138.7 455.6h1.0M109.9 467.8h1.0M148.5 463.6h1.0M140.1 475.1h1.0M146.0 472.4h1.0M127.5 480.6h1.0M151.0 471.3h1.0M124.3 480.3h1.0M126.3 476.9h1.0M135.5 467.6h1.0M129.5 484.0h1.0M155.3 473.7h1.0M137.1 481.1h1.0M146.7 479.8h1.0M122.0 484.0h1.0M131.2 455.4h1.0M131.6 479.8h1.0M139.8 465.3h1.0M133.0 452.5h1.0M140.3 454.3h1.0M120.9 453.5h1.0M144.6 455.3h1.0M132.4 463.1h1.0M134.1 498.1h1.0M150.8 454.1h1.0M150.6 479.5h1.0M138.6 483.9h1.0M145.9 466.9h1.0M142.8 484.3h1.0M132.3 484.1h1.0M128.3 491.1h1.0M140.0 488.0h1.0M140.7 472.8h1.0M130.5 472.6h1.0M162.2 460.8h1.0M138.4 459.3h1.0M126.2 463.8h1.0M145.1 462.7h1.0M155.1 473.2h1.0M134.6 487.9h1.0M143.8 456.8h1.0M128.5 483.0h1.0M139.8 480.1h1.0M146.9 470.5h1.0M130.0 477.9h1.0M132.3 479.9h1.0M139.8 479.0h1.0M152.6 468.2h1.0M139.4 454.8h1.0M133.4 471.3h1.0M139.9 468.6h1.0M132.3 475.8h1.0M138.9 493.5h1.0M145.2 462.6h1.0M148.0 498.3h1.0M130.1 474.6h1.0M151.4 478.2h1.0M134.6 480.0h1.0M146.8 474.0h1.0M150.3 476.5h1.0M143.4 477.4h1.0M143.1 456.2h1.0M141.4 479.2h1.0M127.9 477.1h1.0M162.5 474.4h1.0M137.9 457.6h1.0M148.1 469.7h1.0M156.6 486.3h1.0M134.2 470.5h1.0M129.6 481.5h1.0M137.4 467.6h1.0M136.3 486.5h1.0M128.3 475.1h1.0M129.1 474.5h1.0M133.7 455.5h1.0M138.1 479.0h1.0M157.7 466.5h1.0M143.5 478.6h1.0M118.6 460.4h1.0M132.4 487.5h1.0M158.0 473.0h1.0M143.2 481.6h1.0M132.1 474.2h1.0M147.4 466.6h1.0M152.6 468.7h1.0M131.4 494.9h1.0M153.3 488.3h1.0M121.8 474.7h1.0M142.9 480.8h1.0M147.1 464.2h1.0M114.8 471.4h1.0M133.4 468.0h1.0M156.7 457.8h1.0M147.7 476.6h1.0M146.8 473.0h1.0M152.2 478.1h1.0M141.6 462.1h1.0M143.9 477.4h1.0M142.1 485.3h1.0M133.6 473.8h1.0M136.8 467.9h1.0M136.3 457.5h1.0M133.5 470.4h1.0M128.5 455.0h1.0M133.0 482.3h1.0M149.2 473.7h1.0M124.0 462.9h1.0M140.0 496.7h1.0M145.6 471.6h1.0M127.9 453.1h1.0M144.2 451.2h1.0M139.7 475.1h1.0M158.0 472.4h1.0M133.4 470.0h1.0M123.8 468.8h1.0M153.9 463.1h1.0M126.0 487.1h1.0M146.0 459.4h1.0M138.9 475.6h1.0M118.8 458.6h1.0M127.3 476.6h1.0M145.2 492.8h1.0M131.8 461.0h1.0M155.3 485.4h1.0M145.2 480.4h1.0M145.6 462.6h1.0M151.4 465.1h1.0M133.2 470.1h1.0M130.0 486.0h1.0M150.6 461.0h1.0M137.2 485.3h1.0M147.6 474.3h1.0M126.2 477.2h1.0M132.5 474.8h1.0M137.3 474.5h1.0M149.0 466.3h1.0M142.2 470.1h1.0M128.9 486.6h1.0M136.1 485.0h1.0M151.8 464.6h1.0M139.3 475.4h1.0M122.8 465.6h1.0M150.1 469.2h1.0M121.5 478.5h1.0M149.2 482.7h1.0M154.7 444.1h1.0M148.7 474.9h1.0M159.0 451.7h1.0M138.0 488.4h1.0M117.4 450.3h1.0M137.2 461.8h1.0M145.0 482.3h1.0M144.0 467.9h1.0M129.3 479.6h1.0M108.1 457.3h1.0M168.4 510.0h1.0M138.0 471.0h1.0M144.8 454.6h1.0M128.8 486.2h1.0M126.1 463.5h1.0M147.3 473.9h1.0M151.8 471.3h1.0M124.3 477.0h1.0M129.8 472.7h1.0M127.8 496.7h1.0M122.2 488.3h1.0M125.9 460.9h1.0M136.3 484.2h1.0M112.7 469.0h1.0M169.1 470.1h1.0M117.2 466.1h1.0M132.3 454.6h1.0M163.8 481.5h1.0M131.9 461.9h1.0M138.6 475.4h1.0M147.0 490.8h1.0M162.6 456.6h1.0M124.9 469.3h1.0M160.0 473.9h1.0M121.9 466.4h1.0M165.5 467.5h1.0M154.6 460.3h1.0M146.0 444.2h1.0M133.5 473.0h1.0M161.1 502.7h1.0M151.5 459.4h1.0M156.6 478.3h1.0M119.2 474.8h1.0M138.3 462.9h1.0M143.0 467.9h1.0M146.9 485.0h1.0M114.3 472.1h1.0M114.7 471.0h1.0M145.8 484.1h1.0M132.5 466.9h1.0M141.6 456.7h1.0M121.9 468.7h1.0M139.9 465.2h1.0M125.2 471.7h1.0M120.9 507.7h1.0M121.1 460.4h1.0M143.0 461.0h1.0M113.9 484.9h1.0M111.8 489.1h1.0M125.1 464.6h1.0M142.1 469.6h1.0M147.1 459.7h1.0M147.5 486.1h1.0M151.6 471.7h1.0M129.9 477.2h1.0M131.1 459.5h1.0M160.5 476.4h1.0M135.8 470.5h1.0M142.3 476.1h1.0M124.2 476.4h1.0M144.5 444.1h1.0M119.6 453.5h1.0M130.9 500.8h1.0M133.8 473.6h1.0M134.3 484.8h1.0M146.1 474.2h1.0M148.6 471.8h1.0M150.5 483.4h1.0M137.9 469.4h1.0M128.1 475.0h1.0M135.8 481.9h1.0M130.5 459.3h1.0M124.6 487.8h1.0M161.0 461.2h1.0M119.5 444.6h1.0M147.3 454.7h1.0M129.9 470.7h1.0M110.8 500.1h1.0M166.5 467.1h1.0M130.8 470.6h1.0M120.4 462.3h1.0M170.4 483.2h1.0M132.2 483.5h1.0M138.3 485.1h1.0M159.7 478.8h1.0M122.1 453.9h1.0M122.3 473.9h1.0M147.2 460.4h1.0M143.0 473.4h1.0M124.3 463.6h1.0M114.8 462.3h1.0M116.5 476.3h1.0M144.6 467.3h1.0M156.1 478.6h1.0M155.2 480.6h1.0M144.0 455.3h1.0M143.5 481.7h1.0M105.0 510.3h1.0M137.3 486.1h1.0M130.0 462.8h1.0M157.9 488.9h1.0M134.7 490.6h1.0M139.7 473.1h1.0M140.5 461.1h1.0M144.3 459.1h1.0M146.1 470.3h1.0M169.8 465.2h1.0M160.0 465.5h1.0M144.4 475.7h1.0M127.2 487.4h1.0M163.9 472.8h1.0M151.3 461.1h1.0M139.8 473.3h1.0M130.4 452.2h1.0M123.6 449.8h1.0M153.8 471.4h1.0M154.3 471.5h1.0M139.2 475.9h1.0M138.4 453.3h1.0M165.2 475.0h1.0M146.3 448.9h1.0M136.3 470.8h1.0M128.3 447.3h1.0M152.7 473.5h1.0M150.8 472.4h1.0M122.7 462.0h1.0M105.8 480.4h1.0M148.3 483.9h1.0M148.3 487.8h1.0M154.3 479.4h1.0M149.0 485.2h1.0M112.4 453.7h1.0M154.9 493.5h1.0M132.8 477.0h1.0M160.6 457.5h1.0M143.2 472.6h1.0M133.4 460.1h1.0M121.8 479.2h1.0M130.9 477.8h1.0M143.9 475.1h1.0M136.1 454.7h1.0M156.7 468.5h1.0M137.9 493.4h1.0M143.4 486.0h1.0M128.3 464.6h1.0M128.2 452.8h1.0M129.7 467.4h1.0M124.1 483.4h1.0M153.7 475.7h1.0M160.6 488.2h1.0M129.5 480.9h1.0M132.9 455.2h1.0M157.1 475.6h1.0M147.2 450.5h1.0M149.9 472.3h1.0M122.8 479.1h1.0M166.9 481.9h1.0M144.4 481.2h1.0M143.9 481.9h1.0M134.7 477.9h1.0M137.1 480.2h1.0M137.6 453.5h1.0M134.9 477.4h1.0M143.1 472.2h1.0M151.3 471.8h1.0M130.4 494.4h1.0M136.4 482.1h1.0M150.5 466.4h1.0M146.5 484.0h1.0M185.5 452.2h1.0M125.2 477.9h1.0M149.2 449.4h1.0M134.7 485.7h1.0M137.0 497.6h1.0M137.6 472.6h1.0M137.3 462.0h1.0M150.0 446.8h1.0M143.4 481.2h1.0M153.3 467.7h1.0M181.4 470.0h1.0M153.5 479.2h1.0M137.8 459.4h1.0M158.2 478.6h1.0M159.3 463.1h1.0M166.3 469.9h1.0M140.3 480.7h1.0M145.0 477.7h1.0M136.7 459.2h1.0M124.6 464.5h1.0M148.9 454.2h1.0M146.1 477.7h1.0M132.7 438.3h1.0M157.7 467.7h1.0M124.4 451.1h1.0M154.0 456.6h1.0M150.4 444.4h1.0M147.5 470.9h1.0M146.4 487.3h1.0M144.8 487.9h1.0M120.6 450.2h1.0M106.8 483.6h1.0M139.1 479.5h1.0M161.6 476.8h1.0M142.3 483.0h1.0M145.8 480.4h1.0M145.2 486.9h1.0" stroke="#000" stroke-width="1.1" fill="none"/>
</g>
<rect x="100.5" y="432.5" width="133.0" height="92.0" fill="none" stroke="#222" stroke-width="1"/>
<path d="M400.5 189.5 L371.7 212.0" stroke="#000" stroke-width="3.1" fill="none"/>
<path d="M363.0 218.8 L370.0 206.7 L371.3 212.3 L376.5 214.9 Z" fill="#000"/>
<path d="M298.6 483.8 L306.6 499.0" stroke="#000" stroke-width="3" fill="none"/>
<path d="M310.8 507.0 L301.0 499.7 L306.8 499.5 L310.3 494.8 Z" fill="#000"/>
<path d="M343.5 479.0 L334.7 495.1" stroke="#000" stroke-width="3" fill="none"/>
<path d="M330.4 503.0 L331.1 490.8 L334.5 495.5 L340.3 495.9 Z" fill="#000"/>
<text x="11.5" y="26.2" font-size="32" font-family='"Liberation Sans", Arial, Helvetica, sans-serif' font-weight="bold" stroke="#000" stroke-width="0.7" stroke-linejoin="round" text-anchor="middle" >A</text>
<text x="-2.9" y="448" font-size="32" font-family='"Liberation Sans", Arial, Helvetica, sans-serif' font-weight="bold" stroke="#000" stroke-width="0.7" stroke-linejoin="round" text-anchor="start" >B</text>
<text transform="translate(57.9 335.1) scale(1.05 1)" font-size="19.5" font-family='"Liberation Sans", Arial, Helvetica, sans-serif' font-weight="bold" stroke="#000" stroke-width="0.7" stroke-linejoin="round" text-anchor="end" >0</text>
<text transform="translate(57.9 271.8) scale(1.05 1)" font-size="19.5" font-family='"Liberation Sans", Arial, Helvetica, sans-serif' font-weight="bold" stroke="#000" stroke-width="0.7" stroke-linejoin="round" text-anchor="end" >5</text>
<text transform="translate(57.9 208.5) scale(1.05 1)" font-size="19.5" font-family='"Liberation Sans", Arial, Helvetica, sans-serif' font-weight="bold" stroke="#000" stroke-width="0.7" stroke-linejoin="round" text-anchor="end" >10</text>
<text transform="translate(57.9 145.20000000000002) scale(1.05 1)" font-size="19.5" font-family='"Liberation Sans", Arial, Helvetica, sans-serif' font-weight="bold" stroke="#000" stroke-width="0.7" stroke-linejoin="round" text-anchor="end" >15</text>
<text transform="translate(57.9 81.9) scale(1.05 1)" font-size="19.5" font-family='"Liberation Sans", Arial, Helvetica, sans-serif' font-weight="bold" stroke="#000" stroke-width="0.7" stroke-linejoin="round" text-anchor="end" >20</text>
<text transform="translate(57.9 18.6) scale(1.05 1)" font-size="19.5" font-family='"Liberation Sans", Arial, Helvetica, sans-serif' font-weight="bold" stroke="#000" stroke-width="0.7" stroke-linejoin="round" text-anchor="end" >25</text>
<text transform="translate(56.9 746.3) scale(0.99 1)" font-size="19.8" font-family='"Liberation Sans", Arial, Helvetica, sans-serif' font-weight="bold" stroke="#000" stroke-width="0.7" stroke-linejoin="round" text-anchor="end" >0</text>
<text transform="translate(56.9 671.65) scale(0.99 1)" font-size="19.8" font-family='"Liberation Sans", Arial, Helvetica, sans-serif' font-weight="bold" stroke="#000" stroke-width="0.7" stroke-linejoin="round" text-anchor="end" >25</text>
<text transform="translate(56.9 597.0) scale(0.99 1)" font-size="19.8" font-family='"Liberation Sans", Arial, Helvetica, sans-serif' font-weight="bold" stroke="#000" stroke-width="0.7" stroke-linejoin="round" text-anchor="end" >50</text>
<text transform="translate(56.9 522.3499999999999) scale(0.99 1)" font-size="19.8" font-family='"Liberation Sans", Arial, Helvetica, sans-serif' font-weight="bold" stroke="#000" stroke-width="0.7" stroke-linejoin="round" text-anchor="end" >75</text>
<text transform="translate(56.9 447.7) scale(0.99 1)" font-size="19.8" font-family='"Liberation Sans", Arial, Helvetica, sans-serif' font-weight="bold" stroke="#000" stroke-width="0.7" stroke-linejoin="round" text-anchor="end" >100</text>
<text transform="translate(72.4 361.8) scale(1.05 1)" font-size="19.5" font-family='"Liberation Sans", Arial, Helvetica, sans-serif' font-weight="bold" stroke="#000" stroke-width="0.7" stroke-linejoin="round" text-anchor="middle" >1</text>
<text transform="translate(214.3 361.8) scale(1.05 1)" font-size="19.5" font-family='"Liberation Sans", Arial, Helvetica, sans-serif' font-weight="bold" stroke="#000" stroke-width="0.7" stroke-linejoin="round" text-anchor="middle" >10</text>
<text transform="translate(355.3 361.8) scale(1.05 1)" font-size="19.5" font-family='"Liberation Sans", Arial, Helvetica, sans-serif' font-weight="bold" stroke="#000" stroke-width="0.7" stroke-linejoin="round" text-anchor="middle" >100</text>
<text transform="translate(495.8 361.8) scale(1.05 1)" font-size="19.5" font-family='"Liberation Sans", Arial, Helvetica, sans-serif' font-weight="bold" stroke="#000" stroke-width="0.7" stroke-linejoin="round" text-anchor="middle" >1000</text>
<text transform="translate(71.5 772.0) scale(1.05 1)" font-size="19.5" font-family='"Liberation Sans", Arial, Helvetica, sans-serif' font-weight="bold" stroke="#000" stroke-width="0.7" stroke-linejoin="round" text-anchor="middle" >1</text>
<text transform="translate(213.0 772.0) scale(1.05 1)" font-size="19.5" font-family='"Liberation Sans", Arial, Helvetica, sans-serif' font-weight="bold" stroke="#000" stroke-width="0.7" stroke-linejoin="round" text-anchor="middle" >10</text>
<text transform="translate(355.5 772.0) scale(1.05 1)" font-size="19.5" font-family='"Liberation Sans", Arial, Helvetica, sans-serif' font-weight="bold" stroke="#000" stroke-width="0.7" stroke-linejoin="round" text-anchor="middle" >100</text>
<text transform="translate(496.5 772.0) scale(1.05 1)" font-size="19.5" font-family='"Liberation Sans", Arial, Helvetica, sans-serif' font-weight="bold" stroke="#000" stroke-width="0.7" stroke-linejoin="round" text-anchor="middle" >1000</text>
<text x="189.3" y="384.7" font-size="22" font-family='"Liberation Sans", Arial, Helvetica, sans-serif' font-weight="bold" stroke="#000" stroke-width="0.7" stroke-linejoin="round" text-anchor="start" textLength="244.5" lengthAdjust="spacingAndGlyphs" >Fluorescence intensity</text>
<text x="176.8" y="798.6" font-size="22" font-family='"Liberation Sans", Arial, Helvetica, sans-serif' font-weight="bold" stroke="#000" stroke-width="0.7" stroke-linejoin="round" text-anchor="start" textLength="243" lengthAdjust="spacingAndGlyphs" >Fluorescence intensity</text>
<text transform="translate(24.3 255.4) scale(1.05 1) rotate(-90)" font-size="22" font-family='"Liberation Sans", Arial, Helvetica, sans-serif' font-weight="bold" stroke="#000" stroke-width="0.7" stroke-linejoin="round" textLength="167.5" lengthAdjust="spacingAndGlyphs">Number of cells</text>
<text transform="translate(23.4 676.5) scale(1.04 1) rotate(-90)" font-size="22" font-family='"Liberation Sans", Arial, Helvetica, sans-serif' font-weight="bold" stroke="#000" stroke-width="0.7" stroke-linejoin="round" textLength="167" lengthAdjust="spacingAndGlyphs">Number of cells</text>
<text transform="translate(97.8 76.2) scale(1.05 1) rotate(-90)" font-size="16.5" font-family='"Liberation Sans", Arial, Helvetica, sans-serif' font-weight="bold" stroke="#000" stroke-width="0.7" stroke-linejoin="round" textLength="34.5" lengthAdjust="spacingAndGlyphs">SSC</text>
<text transform="translate(96.2 496.4) scale(1.05 1) rotate(-90)" font-size="16.5" font-family='"Liberation Sans", Arial, Helvetica, sans-serif' font-weight="bold" stroke="#000" stroke-width="0.7" stroke-linejoin="round" textLength="34" lengthAdjust="spacingAndGlyphs">SSC</text>
<text x="145.3" y="127.5" font-size="16" font-family='"Liberation Sans", Arial, Helvetica, sans-serif' font-weight="bold" stroke="#000" stroke-width="0.7" stroke-linejoin="round" text-anchor="start" textLength="49" lengthAdjust="spacingAndGlyphs" >VLA-4</text>
<text x="145.3" y="543.7" font-size="16" font-family='"Liberation Sans", Arial, Helvetica, sans-serif' font-weight="bold" stroke="#000" stroke-width="0.7" stroke-linejoin="round" text-anchor="start" textLength="49" lengthAdjust="spacingAndGlyphs" >VLA-4</text>
<text x="352.3" y="31.3" font-size="18" font-family='"Liberation Sans", Arial, Helvetica, sans-serif' font-weight="bold" stroke="#000" stroke-width="0.7" stroke-linejoin="round" text-anchor="start" textLength="105.5" lengthAdjust="spacingAndGlyphs" >Eosinophils</text>
<text x="345.2" y="446.8" font-size="18" font-family='"Liberation Sans", Arial, Helvetica, sans-serif' font-weight="bold" stroke="#000" stroke-width="0.7" stroke-linejoin="round" text-anchor="start" textLength="104" lengthAdjust="spacingAndGlyphs" >Neutrophils</text>
<text x="157" y="167" font-size="18" font-family='"Liberation Serif", "Times New Roman", serif' font-weight="bold" stroke="#000" stroke-width="0.35" stroke-linejoin="round" text-anchor="start" textLength="57" lengthAdjust="spacingAndGlyphs" >Isotype</text>
<text x="280.5" y="61.5" font-size="18" font-family='"Liberation Serif", "Times New Roman", serif' font-weight="bold" stroke="#000" stroke-width="0.35" stroke-linejoin="round" text-anchor="start" textLength="61.5" lengthAdjust="spacingAndGlyphs" >Control</text>
<text x="391.8" y="187.3" font-size="18" font-family='"Liberation Serif", "Times New Roman", serif' font-weight="bold" stroke="#000" stroke-width="0.35" stroke-linejoin="round" text-anchor="start" textLength="62.5" lengthAdjust="spacingAndGlyphs" >5o-ETE</text>
<text x="376.6" y="85.6" font-size="18.5" font-family='"Liberation Serif", "Times New Roman", serif' font-weight="bold" stroke="#000" stroke-width="0.35" stroke-linejoin="round">PGD<tspan font-size="14" dy="6.6">2</tspan></text>
<text x="82.3" y="580.8" font-size="18" font-family='"Liberation Serif", "Times New Roman", serif' font-weight="bold" stroke="#000" stroke-width="0.35" stroke-linejoin="round" text-anchor="start" textLength="57" lengthAdjust="spacingAndGlyphs" >Isotype</text>
<text x="247.3" y="481" font-size="18" font-family='"Liberation Serif", "Times New Roman", serif' font-weight="bold" stroke="#000" stroke-width="0.35" stroke-linejoin="round" text-anchor="start" textLength="61.5" lengthAdjust="spacingAndGlyphs" >Control</text>
<text x="375.4" y="508.4" font-size="18.5" font-family='"Liberation Serif", "Times New Roman", serif' font-weight="bold" stroke="#000" stroke-width="0.35" stroke-linejoin="round" text-anchor="start" textLength="62" lengthAdjust="spacingAndGlyphs" >5o-ETE</text>
<text x="328" y="474.3" font-size="18.5" font-family='"Liberation Serif", "Times New Roman", serif' font-weight="bold" stroke="#000" stroke-width="0.35" stroke-linejoin="round">PGD<tspan font-size="14" dy="6.6">2</tspan></text>
</svg>
</body></html>
